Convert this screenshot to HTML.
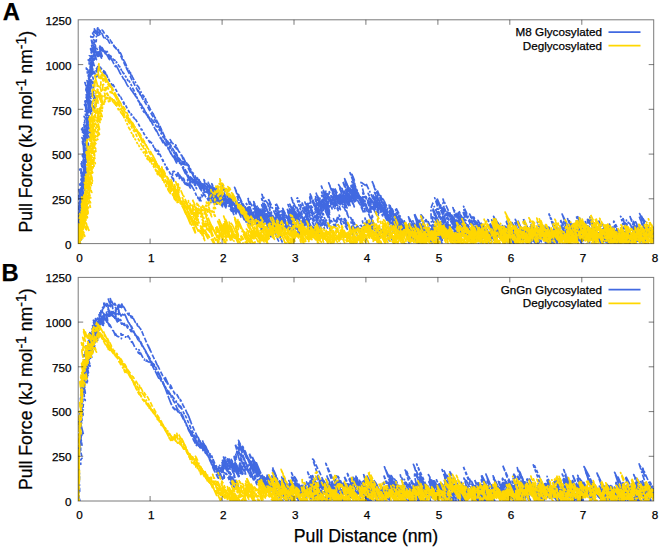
<!DOCTYPE html>
<html lang="en"><head><meta charset="utf-8"><title>Pull Force vs Pull Distance</title>
<style>
html,body{margin:0;padding:0;background:#fff}
svg{display:block}
text{font-family:"Liberation Sans",Arial,sans-serif;fill:#000;stroke:#000;stroke-width:.25px}
.t{font-size:11.7px}
.g{font-size:11.7px}
.l{font-size:17.7px}
.b{font-size:23.8px;font-weight:bold;fill:#000}
</style></head><body>
<svg width="660" height="547" viewBox="0 0 660 547">
<rect width="660" height="547" fill="#fff"/>
<g id="panelA">
<clipPath id="cp0"><rect x="78.2" y="19.8" width="575.5" height="223.8"/></clipPath>
<g clip-path="url(#cp0)" fill="none" stroke-width="1.7" stroke-linejoin="round" stroke-linecap="butt">
<g stroke="#4169e1">
<polyline stroke-dasharray="5 2" points="79.4,246.6 79.1,244 77.4,237.8 78.7,239.2 78.3,236.5 79.2,236.8 80.5,238.2 79.7,234.4 78.9,230.6 79.3,229.8 79.1,227.5 79.8,227.3 78.5,222.4 80.2,224.7 79.6,221.3 79.1,218.2 81.1,221.3 79.1,214.4 79.9,214.7 80.6,214.6 80.5,212.3 80,209 80,207.2 79.8,204.8 78.6,200.1 78.2,197.1 78.5,196.1 78.5,194.3 80.6,197.7 79.5,192.9 82.4,198.2 81.9,195.1 84.3,199.1 82.2,191.9 83.3,192.5 81.7,186.7 82.4,186.4 85,190.8 83.6,185.2 81.9,179 81.3,175.4 82.5,176.4 81.3,171.4 81,168.9 81.2,167.3 82.1,167.5 81.2,163.5 82.7,165.1 83.4,165.1 83.1,162.3 83.1,160.3 83.7,159.8 83.6,157.4 83.9,156.2 83.4,152.8 83.9,152.2 83.5,149 83.4,146.5 82.4,141.6 84.5,144.5 85.6,144.7 86.8,145.4 84.7,137.9 84.6,135.5 85.7,135.9 86,134.4 84.8,129.2 84,125.1 83.6,121.8 84.9,122.9 84.7,120 84.1,116.3 87.4,122.1 86.1,116.7 86.3,114.9 87.3,114.9 86,109.4 85.4,105.5 86.2,105.9 84.9,101.2 85.4,101 85.4,99.5 87.1,102.2 88.4,104.1 85.6,95.7 87.9,99.9 89,101.2 88,97.3 88.3,96.8 85.8,89 87.6,92.1 87.7,90.9 84.9,82.5 87.2,86.6 89.4,90.6 89.8,89.8 87.6,82.7 88,81.9 89.9,85 88.9,80.9 89.8,81.4 89.4,78.7 88.4,74.7 90.3,77.8 89.8,74.8 88.8,70.4 89.4,70.3 90.2,70.5 90.3,68.9 90,66.5 90.2,65 92.7,69.7 89.3,59.6 90.1,59.7 89.3,55.8 90.1,55.9 91.5,57.4 91.7,55.9 92.3,55.1 90.8,49.3 92.5,51.1 93.2,50.5 93.7,49.2 91.7,41.7 90.7,36.4 92.2,37.3 93.2,36.9 93.6,36.7 92.6,33.1 94.1,35.6 93.9,33.5 93.7,31.4 95.3,33.3 94.4,28.8 97.5,35.5 97,33.1 97.5,32.9 97.7,31.8 97.2,28.9 98,29.3 97.6,27.1 100.1,31.8 100.2,30.8 100.8,31 100.8,29.7 101.3,29.8 101.8,29.9 102.4,30.4 103.3,31.4 104.9,34.5 105.6,35.2 106.3,35.7 107,36.3 107.2,35.8 108.4,37.7 109.6,39.7 110,39.6 111.5,42.1 113.2,44.8 114.7,47.2 115.1,47 116.1,48 117.1,49.1 117.4,48.6 119.5,53.3 120.4,55.1 122.3,59.3 122.7,60 123.9,62.6 124.9,65 125,64.7 127.1,69.7 126.2,67.2 128.3,71.9 129,73.1 130.8,77.4 132.7,81.6 133.2,82.2 133.2,81.8 134.4,84.3 135.9,87.4 136.8,88.9 138.6,92.7 138.4,91.6 138.4,90.7 140.8,96.1 139.7,92.3 142.2,97.8 143.8,100.8 144,100.3 145.5,103.2 146.3,104.4 147.2,105.6 148.7,108.8 149.7,110.6 151.6,114.5 152.2,115.4 152.6,115.9 153.5,117.6 154.4,119 155.7,121.4 156.4,122.3 157.2,123.4 158.2,125.3 159.8,128.5 160.5,129.8 160.2,128.8 162.2,133.4 162.9,134.7 164.2,137.7 164.8,139 165.7,140.7 165.6,140.1 167.1,143.1 168.4,145.4 169.8,148.1 169.7,146.8 170.5,147.6 171.7,149.5 171.9,148.7 172.3,148.4 172.9,148.9 174.5,151.9 176.1,155 175.5,152.7 178,158.4 176.1,152.8 178.7,158.5 179.4,159.4 179.5,158.7 180.8,161 182.4,163.9 181.9,161.2 183.7,164.3 183.2,161.7 185.1,165 184.2,161.4 184.7,161.3 185.9,163.1 187,164.6 186.7,162.9 188.5,166.5 188.4,165.7 188,164.3 190.8,170.7 190.4,169.4 191.7,172.5 192.3,173.7 195.7,182 195.2,180.5 194.8,179.5 193.6,176.4 193.1,175.2 193.8,176.8 196.7,183.4 196.4,181.9 197.5,183.9 198,184.3 200,188.3 201.5,190.8 200,185.7 200.3,185.1 200.8,184.9 200.5,182.8 201.9,184.6 203.7,187.8 204,187.1 203.6,184.6 204.5,185.4 205.4,186.4 205.4,185.2 207,188.1 208.2,190.3 211.2,197 210.1,193.3 210.9,194.7 212.1,197 212.1,196.3 212.6,196.6 210.9,191.7 209.5,187.4 209.9,187.4 211,189.1 210.7,187 210.8,186.1 214.8,194.6 217.6,200.2 216.8,196.6 220.2,203.7 219.7,201.1 220.6,202 219.8,198.5 218.6,194 216.2,186.7 219.9,194.6 220.7,195.2 222.7,198.8 223.3,198.9 224.2,199.8 224.2,198.4 224.7,198.1 226.2,200.4 226.5,199.6 227.5,200.3 228.7,201.6 232.5,209.5 228.2,197.4 231,203 232.5,205.7 233.3,206.5 232.2,202.5 229.7,195.1 232.3,200 236.3,208.5 238.1,211.5 238.1,209.7 236.1,202.9 234.2,196.7 237.3,202.5 238.3,203.4 239.1,203.6 238.5,200.7 236.5,194.1 236.9,194 234.6,187.3 239.4,198.3 242.3,205 242.6,205.4 238.6,194.7 243.1,205.3 242.9,203.9 245.2,208.7 245.8,209.4 247.7,213 247.5,211.1 249.7,215.1 251,216.5 249.9,211.8 251.3,213.2 251.8,212.4 253.1,213.5 255.8,218.2 257.7,221.1 255.6,214.2 254.9,210.9 255.9,212 257.7,215.1 253.8,204.3 254.7,205.2 253.7,201.6 258.1,211.4 259.4,213.2 259.5,212.2 263.9,221.7 264,220.5 259.6,208.1 264.3,218 263.6,214.6 262.1,208.8 262.7,208.4 264.7,211.7 264,208.1 262.7,203 261.6,198.5 264.8,204.8 269.6,215.4 271.3,218.1 276.2,229 272.8,219.5 272.7,217.9 272.1,215.4 274.7,220.7 274,217.8 276.4,222.8 277.6,224.4 276.8,221.3 275.4,216.3 275.4,214.6 275.7,213.7 282.2,227.9 276.2,210.9 275.8,207.9 280.1,216.6 283.4,222.9 281.8,217.1 283.1,218.7 284.8,221.3 285.2,220.6 282.4,212 283.4,213 284.9,215.3 284.8,213.2 288,219.4 288.5,219 289.8,220.4 288.7,215.9 288.9,214.5 287.2,208.5 290.4,214.6 292.3,217.8 292.1,215.9 288,204.5 293.2,216.6 291.4,211.3 292.3,212.9 293.6,215.4 293,213 292,209.7 294.1,213.6 297.1,219.9 296.5,216.5 298.4,219.4 298.2,216.8 298.3,215 299.1,214.5 298.9,211.7 301.3,215.3 302.2,215.4 301.3,210.8 300.1,205.8 301.7,207.9 305.8,216.6 310.7,227.1 308.3,219.7 302.2,203.1 308.2,216.4 306,209.3 308.2,212.7 309.7,214.5 313,220.5 314.7,222.6 313.4,216.9 312.3,211.7 311,205.9 312.9,208.1 314.1,208.5 315.9,210.7 309.8,193.1 319.5,214.9 320.5,215.1 318.6,208.3 318.8,206.9 318.1,203.1 321.2,209.1 320.3,205.1 316.2,193.2 321.5,204.4 321.4,202.4 328.2,217.4 322.4,201 324.7,205 329.9,215.9 327.8,208.7 323.7,196.2 328.5,206 321.4,186.1 326.1,195.8 325.7,192.6 325.9,191 330.5,200.5 328.8,194.2 329.2,193.3 329.3,191.7 334.8,203.8 335.4,203.8 333,196.3 335.5,201.1 328.7,182.9 335.7,198.7 332.7,189.7 333,188.8 340.7,206 337.6,196.3 340.2,200.7 343.2,205.8 348.7,217.3 342.1,198.2 343.7,199.7 338.6,184.6 341.6,189.4 344.8,195 349.3,203.9 347.9,198.3 348.9,198.7 342.7,181.3 347.3,190.9 350.3,196.5 345,181 350.1,191.4 349.3,187 353,193.4 351,185.7 353.8,189.9 355.9,192.4 354.9,187.1 354.7,183.7 354.2,179.7 352,174.3 353.2,178.3 354,181.4 350,172.7 356,188.9 360.2,200.7 358.4,197.2 361.6,204.2 357.5,193 361.2,201.4 359.3,195.7 360.5,197.7 363.4,204.1 361.3,197.8 366.8,210.6 368,212.5 372.6,223.1 370.8,217.6 373.7,223.6 371.7,217.1 372,216.7 372.7,216.9 369.3,207.1 365.7,196.6 368,200.9 371.9,209 371.4,206.2 369.9,200.8 371.1,202.3 368.2,193.4 373.4,204.5 372.8,201.3 376.1,207.4 374.7,202.1 378.7,210.2 377.4,205.5 377.3,203.8 379.3,207.5 381.6,211.8 379.5,205.2 380,205.2 380.4,205.1 381.4,206.6 385.5,215.9 382.4,207.3 384.4,211.9 384.9,212.8 385.3,213.4 388.2,220.5 389.7,224.1 388.2,220.5 387.2,217.6 389.1,222.1 389.3,222.1 388,218.2 390.5,223.6 392.5,227.4 393.8,229.3 393.9,228.1 393.2,224.7 395.8,229.6 392.2,218.9 395.7,225.9 396.7,226.8 398.1,228.7 394.5,218.4 391.6,209.9 397.2,222.4 397.5,222.2 400.3,228.1 400.8,228.4 401.9,230.5 401.3,228.1 403.7,233 401.9,227.7 399,219.4 401.7,225.1 402.1,225.1 405,231.4 403.5,226.4 405.2,229.2 404.7,226.4 408.5,234.3 409.6,235 412.3,239.7 409,229.5 411.7,233.9 412.7,234.1 412.9,232.4 410.4,224.1 414.1,231.2 413.2,227 415.9,231.7 418.8,237 418.3,234 417.3,229.7 418,229.4 416.7,224.3 419.4,228.9 420.1,228.8 419.5,225.6 418.9,222.6 420.8,226 422,227.8 420.7,223.5 425.3,234.1 425.2,233 424,229.5 424.9,231.1 423.7,227.3 424,227.1 429.8,240.7 429.2,238.2 434.2,247.2 432.2,243 428.7,232.8 430,234.1 432.5,238.4 436.6,246.7 435.5,242 435.2,239.3 432.4,230.6 435.5,236.5 436.2,236.3 437.1,236.7 436.7,233.9 434.7,227 442,243.2 439,233.8 440,234.6 440,233 440.4,232.5 441.1,232.6 443.9,238 442.7,233.7 443,232.9 443.6,233 445.6,236.4 445.3,234.4 447.4,238.3 446,233.8 446.7,234.2 445,228.7 449.1,237.8 451.2,241.6 449.4,235.5 449.6,234.3 451.1,236.4 453.3,240.1 452.6,236.6 453.1,236.2 458.2,247 458.6,246.4 455.3,236.3 458.9,243.5 453.9,229.1 456.3,233.4 451.1,219 453.9,224.5 457.5,232.3 457.5,230.8 461.4,239.5 456.8,226.6 458.8,230.2 462,236.4 459.8,229.3 460,228 463.6,235 462.4,230 463,229.3 463,227.3 462.6,224.1 464.2,226 465.6,227.3 467.1,229.1 467.2,227.4 468.6,228.9 469.4,228.9 471.2,231.7 472.3,232.6 474.6,236.3 472.7,229.7 474.6,232.6 476.6,235.4 478.5,238 478,234.6 481.1,240.3 479.3,233.9 478.4,230 479.5,231.1 479.3,229.4 481.2,233 480,228.8 478.7,224.8 479.5,226 481.9,231.1 479.7,224.8 483.5,233.3 484.1,233.9 484.1,232.4 488.5,241.9 486.4,235 483.4,225.7 486.2,230.5 488.3,233.7 490.3,236.5 491.7,237.7 491.8,235.6 491.3,232.2 490.2,227.3 487.9,219.6 491.1,225.3 493.2,228.7 495.1,231.6 495.3,230.5 491.7,219.9 494.1,224.2 495.2,225.3 500.5,237.2 497,227.1 495.9,223.2 494.4,218.2 498.6,227.6 494.9,217.5 497.3,222.7 500.7,230.5 501.5,231.6 504.8,239 501.7,230.3 504.5,236 506.3,239.4 505,234.9 504,231 506,234.6 505.5,231.6 505.1,228.8 508.9,236.4 510.3,237.8 509.8,234.9 510.4,234.4 510.8,233.4 510,229.6 509.5,226.5 511.5,229.6 512.7,230.8 513.3,230.7 516.3,236.4 515.5,232.8 517.3,235.6 519.2,238.8 517.9,233.9 518.2,232.8 518.9,233.1 521.4,237.7 521.2,235.5 521.7,235.1 522.5,235.5 522.1,232.9 523.4,234.7 523.3,233.1 522.9,231.1 524.2,233.2 524.1,232 526.3,236.5 527.1,237.8 526.5,235.2 527.3,236.3 528.4,238 532.1,246 531,241.8 530.4,238.6 531.3,238.9 533.2,241.8 531.2,234.5 531.8,233.9 531.7,231.4 533.7,234.1 531.4,226.2 533.2,228.6 533.5,227.6 536.3,232.7 539.5,239 538.6,234.9 537,229.1 537.7,228.7 541.6,236.4 540.2,230.8 541.6,232.3 543.3,234.4 546.2,239.6 546.1,237.8 544.3,231.5 547.7,238.6 543.7,227.5 545.1,229.8 547.5,234.4 550.5,241 545.1,226.1 546.6,228.5 546.9,227.9 547.8,228.8 552.6,239.1 548.9,228.4 552.5,235.6 552.3,233.2 555.9,240 556.8,240.2 556.9,238.4 554.1,229.3 556.4,233 555.9,230 559.8,237.8 558.9,233.8 560,234.7 561,235.5 559.6,230.4 562,234.6 562.2,233.4 560.1,226.3 562.5,230.4 562.7,228.8 565.1,232.6 565.9,232.4 569.6,239.4 566.1,228.3 567,227.8 572.8,239.9 571.8,234.7 574.5,239.1 576.5,242.1 571.1,226.7 569.4,220.9 574.4,231.9 574.9,232.3 572,224.5 577.2,237 575.3,232 575,231.1 577.8,238 576.2,233.9 579.4,241.4 579.3,240.7 578,236.7 580.7,242.2 583,246.2 583.9,246.7 582.8,242 583.5,241.4 581.1,232.8 583.8,236.9 585.7,239 585.3,235.6 586.1,235.1 585.8,232.1 586.2,231 587.8,233 586.5,228.1 588.2,230.5 585.3,221.6 591,234.3 590.7,232.1 588.9,225.9 587.6,221.3 587.5,219.4 590.1,224.4 588.6,219.5 590.9,224 592.7,227.6 595.9,234.3 590.4,219.7 589.8,217 597.9,236 593.9,224.9 596.1,228.8 600.4,238.3 598.5,232 600.5,235.2 600.3,233.1 603,238 605.4,241.9 603.2,234.1 608.5,245.1 607.2,239.3 604.6,230.4 605.5,230 605.2,226.9 606.6,227.9 607.7,228.3 609,229.5 611.2,233 609.1,226 615.6,240.4 618.4,246 612.8,231 614.6,234.5 614.9,234.5 614.5,233 614.4,232.1 614,230.2 616.3,235.3 619.8,242.9 619.7,242 618.1,236.9 621.4,244.1 621.5,243.4 619.4,237.1 619,235 620.6,238.1 620.6,237.2 622.4,241 623.2,241.8 623.8,242.4 627.5,247.2 623.9,239.8 626.3,243.8 625.6,240.1 625,236.5 625.1,234.6 628.1,239.6 628.7,238.9 626.2,230.2 630.1,237.6 630.1,235.1 628.8,229.6 630.7,231.7 631.2,230.6 632.1,230.5 631.5,226.7 631.9,225.7 635.3,232 635.7,231.3 637.4,233.7 637,230.8 637.6,230.4 639.8,233.9 635.7,221.9 640.7,232.5 639.9,228.7 640.9,229.4 645.3,238.6 643,231.2 643.8,231.2 645.5,233.6 647.9,237.9 645,228.9 639.6,213.5 644.1,223.4 641.8,216.4 643.4,219.1 644.5,221.1 645,221.6 645.2,221.5 650.1,233 646.6,223.5 650.2,231.5 653.2,237.8 653.3,236.9 658.9,247.2 652.4,231.6 657.6,242.7 656.9,239.2 657.5,239 653.9,228.2 653.8,226.4"/>
<polyline stroke-dasharray="6 1.8 1.8 1.8" points="80.2,247.2 78.6,243.1 81.4,247.2 80.9,245.6 78.3,237.6 78,235.5 79.7,238.1 79.3,235.6 79.5,234.4 78.9,231.6 79.4,231.3 78.3,227.1 79.4,228.3 80.7,229.9 79.8,226.2 80.1,225.4 78.8,220.6 79.9,221.8 80.8,222.6 81.8,223.6 78.2,213.1 79.1,213.7 80.1,214.8 79.5,211.6 82.4,217.4 81.5,213.4 79.6,207.2 81.2,209.5 82.4,211.1 81.6,207.4 81.6,206 81.3,203.6 80.3,199.6 81.7,201.7 82.6,202.4 80.9,196.5 82.1,197.5 82.2,195.8 80.3,189.3 82.7,193.4 79.7,184 80.9,184.9 81.9,185.5 82.9,186.1 80.9,179.2 81.5,178.8 83.4,181.8 82.7,178.1 84.6,181.1 81.5,171.7 83.2,174.3 82.8,171.5 83.3,171.2 84.2,171.7 85.3,172.6 81.7,161.8 82.3,161.6 83.1,161.7 85.1,164.9 84.8,162.3 84.9,160.4 85.6,160.3 85.6,158.4 83.7,151.6 84.9,152.6 84.8,150.3 82.2,141.9 83,142 82,137.6 85.3,143.9 85,141.3 83.8,136.5 81.6,129.1 85.2,136.1 82.6,127.9 85.8,133.8 84.8,129.5 87.4,134.2 87.8,133.2 87.1,129.7 87.6,129.1 86.8,125.3 88,126.2 87.3,122.7 88,122.5 86.2,116.2 87.9,118.7 88.9,119.3 90.1,120.3 84.5,104.5 88.5,112.4 88.2,109.7 89.4,111 91.7,115.2 88.6,105.7 89.6,106.6 88.7,102.7 86.2,94.8 87.5,96.4 89.2,99 86.3,90.4 88.2,93.4 86,86.6 89.5,93.8 87.3,87 88.9,89.4 90.1,91.1 88.8,86.5 87,80.6 88.3,82.2 90.6,86.6 91.2,86.5 88.6,78.6 89.9,80.2 91.4,82.5 90.9,79.7 90.4,76.8 90.2,74.7 90.7,74.3 91.1,73.3 90.7,70.5 91.7,71.2 91.8,69.7 91.3,66.5 90.8,63.5 90.7,62.1 92.3,64.7 91.3,60.9 91.7,60.5 91.2,58 92.1,58.8 92,57.1 92.3,56.3 90.9,51.2 90.6,48.6 92.3,51 94.1,53.7 91.6,45.5 92.3,45.2 93.6,46.5 92.4,41.1 94.8,45 93.6,39.7 95.2,41.4 96.2,41.6 96.3,40.7 96.3,39.3 96,37.4 96.4,36.6 96.6,35.4 97.5,35.4 96.6,31 98.8,35.3 97.8,31.6 98.9,33 100,34.4 99.6,32.4 100.3,32.9 100.3,32 100.7,32.2 101.4,33.1 101.4,32.3 103.8,37.7 104.2,37.8 104.8,38.4 104.7,37.3 105.4,38.1 106.7,40.2 106.9,39.5 107.4,39.2 109.6,43.1 110,42.5 110.5,41.9 111.3,42.5 111.9,42.4 113.6,45.1 115.4,48 116.5,49.3 117.1,49.6 117.9,50.2 118,49.5 119.4,51.7 119.9,52.1 121,54 123.6,60.4 123.4,59.5 124.1,61 124.3,61.1 125.4,63.4 127.8,68.8 128.9,71 129,70.6 131.3,75.6 130.4,72.6 132.4,76.9 134.1,80.2 134.4,80.1 136.3,84.1 137.3,85.6 138,86.4 138.6,87.1 140.3,90.7 141.7,93.3 143.6,97.3 142.8,94.7 142.9,94.2 145,98.7 146.1,100.9 145.4,98.7 147.4,103 148.6,105.5 150.5,109.5 151,110.1 151.9,111.8 153.2,114.4 153,113.3 155.7,119.3 155.2,117.5 156.6,120.4 157.9,123 158.5,123.7 160,126.9 161.7,130.6 160.1,126.4 162.3,131.5 163.1,133.2 165.1,137.8 165.5,138.2 166.9,141.4 167.7,142.7 167.3,141 167.8,141.3 170.2,146.3 169.2,142.9 171.1,146.3 170.6,143.4 171,143 170.2,139.6 172.1,142.9 172.9,143.4 175.3,148.1 175.1,146.4 176.6,149 177,148.9 175.7,144.9 178.8,151.6 179,151.4 179.8,152.5 180.7,154.3 181.5,155.7 183,159 181.4,154.5 181.6,154.7 183.1,158.1 183.1,157.5 183.1,157.2 183.8,158.5 185.4,161.9 186.2,163.4 188.7,169.1 190,171.7 191.1,173.7 191,172.7 188.4,165.2 189.9,167.7 193.3,175.3 192.5,172.1 193.5,173.6 194.7,175.4 196.7,179.3 197.4,180.2 198,180.8 198,180.2 197.8,179.2 197.4,177.7 198.7,180.4 202.1,188 201.4,185.1 203,188.1 202.1,184.7 203,186 202.7,184 204.9,188.1 203.9,184.4 204.4,184.4 205.1,185 204.8,183.1 204,179.7 206.5,184.4 206.5,183.1 208.5,186.7 208.6,185.4 209.4,186 208.3,182.4 211.3,188.9 211.5,188.5 213.5,192.8 212,188.2 217.4,200.9 217,199.2 216,196.1 216.2,195.7 219.9,204.1 219.8,202.8 218.2,197.7 220.4,202 217.1,192.4 217.9,193 221.4,200.1 223.7,204.2 222.8,200.4 223.1,199.7 221.9,195 220.7,190.8 221.3,190.9 223.7,195.9 225.5,199.5 225.7,199.1 228.2,204.5 230.7,209.8 231.5,211.3 229.2,204.8 228.8,202.9 233.8,214.5 226.7,195.7 227.6,196.9 226.7,193.4 231.7,204.5 232.1,204.1 229,195 232.1,200.8 235.6,207.9 235.7,206.4 238.5,211.8 236.5,205.1 238,207.3 237.5,204.4 240.1,209.4 239.7,206.8 238.8,203.1 239.3,202.8 239.9,202.8 244.2,212.2 244.7,212.3 243.3,207.8 244.3,209.1 246.1,212.7 245.2,209.7 246.4,211.7 245.6,208.7 245.2,206.8 247.4,211 249,213.3 248.8,211.2 250.1,212.5 250.2,210.7 250.8,209.9 249.3,203.9 247.7,197.7 251.3,204.6 255.7,213.8 255.8,212.7 257.1,214.6 256.1,211.1 257.5,213.4 259.7,218.1 260.6,219.4 258,212.1 260,215.9 257.8,209.5 263.9,223.5 258.1,207.8 262.8,218 265.3,222.9 263.2,216 266.9,223.3 264.6,215.8 266.4,218.4 261.7,204.9 267,216.1 265.7,210.8 271.1,222.1 266.7,208.8 261.9,194.3 265.2,200.2 266.9,202.2 270,207.7 271.2,208.8 269.5,202.9 268.3,198.6 273.8,211.1 276.4,216.8 275.5,213.8 276.9,216.6 276.2,214 277.8,217.3 278.9,219.3 280.3,221.9 279.7,219.2 280.3,219.1 280.4,217.7 275.4,203.5 276.4,204 280.2,211.4 283.4,217.4 284,217.2 285.6,219.2 283.4,212.1 284.6,213.6 285.4,214 289.9,223.7 293.3,230.5 288.9,218.1 291,221.4 288,212 288.1,210.4 290.1,213.6 293.7,220.4 299.6,233.1 295.3,220.1 293.9,214.8 295.4,216.4 294.1,211.2 294.2,209.8 294.8,209.9 293.6,205.6 292.9,202.6 291.4,197.7 295.7,207.7 297.9,212.3 300.4,217.7 303.5,224.7 303.6,223.9 304.9,225.8 303,219.9 303.5,219.4 307.2,226.9 308.9,229 307,222 308.8,224 308.9,221.6 304.1,207.2 306.7,210.8 306.2,207.2 309.4,212.5 308.6,208.4 307.5,203.5 310.3,208.5 313.8,215.5 318.6,225.6 314.3,213.3 321,228.4 319.9,223.9 317.5,216.2 321.4,224.2 317.9,213.4 317,209.2 319.7,213.7 317.5,205.8 316.1,200 315.6,196.7 320.9,207.7 317.1,195.9 322.7,207.6 320.8,201 324.6,208.6 323,202.9 323.5,202.3 324.7,203.6 325.2,203.3 329.5,212.3 323.1,194.9 325.2,198.5 327.9,203.6 328.1,202.7 327.6,199.7 326.1,194.1 330.9,204.2 330.8,201.9 329.7,197.4 335.2,209.2 335.3,207.5 334.1,202.3 338.2,210.5 334.8,200.1 338.9,208.1 340.4,209.6 336.8,198.6 336.1,194.7 337,194.8 338.6,196.8 341.4,201.5 340,196 339.9,194 342.8,199.1 342.4,196.2 340.1,188.9 340.7,188.7 347.5,203.9 341.9,188.4 345.2,194.8 350.1,205.4 346.5,194.6 350.5,202.7 349.7,198.7 351.3,200.7 352.7,202.1 352.7,200.1 352.4,197.2 353.9,199.2 353.9,197.9 351.7,191.4 353,193.5 352.4,191 352.4,190.2 353.2,191.5 356,197.8 352.9,189.5 355.6,195.6 357.6,200.1 358.5,202.1 359.3,203.5 358.9,201.9 363.9,213.3 360.8,204.5 364,211.3 365.1,211.6 363.9,205.6 363,200.3 364.7,201.4 364.5,197.5 363.2,191.1 361,182.4 362.6,183.3 364.4,184.7 366.2,186.4 365.9,183.2 371.4,195.1 376.4,205.7 376.1,203.1 375.6,200.3 376.7,201.7 379.8,208.2 380,207.3 374.1,191.3 380.9,206.9 377.5,196.7 373.5,185.1 371.8,180.5 377.6,194.3 376.9,192 376.9,191.6 378.5,195.1 379.8,197.9 383.1,205.6 377.6,191.1 384.7,208.2 385.9,210.4 388.3,215.7 380.5,195.5 381.8,197.6 387.2,209.9 383.2,199 385.5,203.8 386.5,205.6 394,223.5 392.7,219.8 395.1,225.3 393.9,221.8 392.1,216.9 390.8,213.3 394.9,223 393.2,218.5 396.4,225.7 396.3,224.9 396.5,224.4 395.4,220.8 396.4,222.2 395.5,218.9 397,221.4 396.4,218.5 403.1,233.8 401.3,227.9 400.8,225 402.7,228.5 402.9,227.4 402.2,224.3 396.5,208.9 398.6,212.8 401.8,219.9 405,226.7 408.2,233.7 406,227.4 407.9,230.9 404.2,220.8 406.8,226.4 407.8,227.7 409.4,230.5 409.7,229.7 409.8,228.2 412.6,233.5 416.8,242.3 419.8,247.2 414.3,232.8 412.9,227.9 417.3,237.7 414.6,229.7 416.7,233.8 415.1,228.9 416,230.3 416.2,230.2 419.7,238 420.3,238.9 416.3,228.1 420.8,238.2 420.6,236.4 422.2,238.9 419.3,229.9 422.5,236 421.7,232 421.4,229.1 424.9,235.2 425,232.9 427,235 427,232.4 421.1,214.8 423.1,217.2 426.3,222.8 425.9,219.5 428.4,223.9 427.8,220.8 432.5,231 431.7,226.2 431.1,216.6 430.9,208.2 432.5,204 432.7,203.2 435.4,209.1 439.5,218.2 438.7,215.4 441.3,220.5 437.1,208.7 440,214.3 437.8,207.1 434.7,197.8 436.4,200.3 442.8,214.8 437.6,200.6 437.1,198.4 444.8,216.5 440.5,204.9 442,207.8 442.7,208.4 445,213.3 446.2,215.2 448.4,219.4 444,207.3 442.9,203.1 443.8,204 444.4,203.9 443,199 448.6,211.2 450.2,213.5 450.6,213 455.3,222.9 454.1,218.3 458.4,227.4 456.4,221.1 454.4,214.5 456.1,217.2 452.9,207.6 456,213.3 461.6,225.4 457.8,214 458.2,212.9 461.5,219.3 459.3,211.7 464.1,221.8 463,217.5 464.9,220.6 465.1,219.7 466.3,221.5 462.9,211.7 465.6,216.9 465.5,215.5 463.9,209.9 470.3,224.5 463.6,206.4 469.3,219.1 471.7,223.7 472,222.9 474,226.3 469.6,214 472.1,218.9 474.9,224.5 475.2,224 472.3,215.8 476,224 475.2,221.1 478.1,227.7 478.9,229 476.7,222.4 477.1,222.4 480,228.3 481.7,231 478,220.4 480.6,225.2 480.1,222.3 480.7,222.4 483.6,228.2 483.1,226 487,234.8 486.7,233.2 486.9,232.9 485.5,228.8 487.5,233.3 485.9,228.5 488.7,234.8 489.1,234.6 489,232.9 490.7,235.5 491.5,235.6 493.3,238.1 493.2,236 493.4,234.5 492,229.1 492.1,227.6 493.2,228.8 493.6,228.7 495.1,231.2 493.5,226.1 495.1,229.2 498.2,235.9 497.4,232.7 496.6,229.5 501.6,240.7 498.7,232 502.2,239.1 501.7,236 500.6,231.5 504.2,238.7 505,238.7 506.6,240.8 505.4,235.9 505.7,235 505.3,232.3 504.3,228.4 505.5,229.6 506.3,230.3 505.1,225.6 506.6,227.8 510,234.7 507.5,226.6 511.7,235.4 506.7,221.2 507.2,221 515.8,240.9 509.4,223.4 516.9,240.6 513.7,231.4 513.3,228.8 513.4,227.7 513.5,226.9 514,226.9 516.6,232 515.9,229 517.2,230.8 520.2,236.7 522.7,241.3 523.1,240.2 523.1,238.5 523.5,237.2 527.2,244.5 528.8,246.3 524.7,233.9 526.2,235.5 525.3,231.2 528.6,237.3 528.3,234.5 524.6,223.5 523.3,218.5 530.1,233.6 531.2,234.7 532.6,236.7 533.2,236.7 535.9,242 530.3,226.7 539.4,247.2 536,237.8 533.5,229.9 534.6,231 534.8,229.6 535.8,230.5 539.5,237.7 538.9,234.4 537.8,229.9 542.2,239 539.9,231.6 542,235.1 541.3,232 539.4,225.7 540.2,226.4 543.7,233.8 542.9,230.8 544.8,234.4 543.3,229.6 544.5,231.5 545.8,233.8 548.4,239 549.8,241.3 550.7,242.4 551.7,243.6 554.9,247.2 552.6,243 553.2,242.7 554,243.1 552.2,236.6 554.9,241.5 555.2,240.3 557.4,243.8 556.3,239.1 555.6,235.2 556.3,235.1 557.7,236.6 558.8,237.5 560.8,240.7 558.3,232.9 556.6,226.8 557.8,228 559.4,230.1 562.8,236.6 569,247.2 570.6,247.2 564.9,236.1 561.8,226.6 560.9,222.5 560.3,219.5 563.5,225.8 569.7,239.7 569.3,237.7 568.5,234.7 567.2,230.4 569.2,234.4 572.7,241.8 572.5,239.9 572.3,238 573.8,240 569.7,227.7 571.5,230 570.1,224 575,233.5 576.9,235.8 575.6,229.7 577.7,232.4 578.2,231.5 579.7,232.8 577.8,226.2 576.4,220.9 580.4,229.1 581.5,230.5 584.8,237.5 583,231.9 584.7,234.9 584.4,232.7 584.7,232 585.3,232.1 584.4,228.2 585.2,228.6 586.5,230.3 585,224.9 587.8,229.9 587.8,228.3 587.3,225.3 590.7,232.4 589.9,228.8 590.9,230.1 592.5,233.2 595.6,239.7 592.3,230.9 594.7,235.9 596.9,240.6 594.8,234.8 596.7,238.6 593.7,230.2 598,239.9 598.7,240.5 599.8,241.7 600.9,242.9 597.8,233.7 599.6,236.4 600.5,236.8 603.4,241.9 600.9,233.5 604.6,240.3 604.6,238.2 605.2,237.3 603.7,231.6 608.5,241.3 604.1,227.9 610.9,242.7 607,230.9 605.9,226 608.4,230.2 608.8,229 611.1,232.4 609.4,226.1 612.9,232.7 613.5,232 614.9,233.2 612.7,226 616.1,232.4 616.8,232.7 617.7,233.7 617.1,231.2 618.9,234.6 616.7,228.6 617.9,231 618.3,231.5 619.1,233 618.9,231.9 619.6,233.2 621.4,237.1 623.6,241.8 622.6,238.3 625.2,243.5 627.5,247.2 621.7,232 624.5,237.4 626.7,241.5 626,237.9 628,241.4 632,247.2 625.5,232.1 629.4,240.2 627.9,234.7 630.1,238.3 628.4,231.9 625.9,223.5 627.1,224.2 626.4,220.1 628.6,223 629.7,223.4 636.3,237.2 636.3,234.5 630.1,216.6 635.8,228.6 633.6,221.4 636.3,226.3 637.7,228.5 637.2,226.2 638.7,229 638,226.8 643,238.4 640.6,231.9 642.4,235.6 644.6,240 643.3,235.5 644.9,238.3 645.5,238.3 643,230.4 645.6,235 645.8,233.2 646.5,232.7 647.1,231.6 651.1,239.1 651.2,236.9 651.5,235.6 653.1,237.4 655.5,241.5 653.6,235.2 653.4,233.1 655.3,236.4 654,231.9 657.3,238.7 655.2,232.5 657.4,237 656.6,233.9 659.7,240.6"/>
<polyline stroke-dasharray="13 1.5" points="78.4,244.2 77.9,241.3 79.3,243.2 80,243.5 78.5,238.2 78,235.5 78.1,234.2 78.8,234.3 78.7,232.5 78.2,229.6 80.2,233.1 79.1,228.7 77.9,224.2 78,223 78.9,223.7 78.9,222.3 79.5,222.1 78.5,218.1 76.8,212.4 77.9,213.7 79.7,216.7 79.2,213.8 79.4,212.8 80,212.9 78.8,208.2 77.1,202.6 78,203.3 79.3,205 80.6,206.8 82.1,209 80.4,203 81.5,204.3 82.1,204.1 80.9,199.5 80.2,196.3 81.4,197.7 81.2,195.4 81.8,195.2 82.1,194.2 81.9,192.2 81.3,188.9 82.6,190.5 81.8,186.9 80.9,183.1 81.4,182.8 82.9,184.7 84,186.1 81.8,179 83,180.3 82.8,178.5 82.1,175.2 84.7,180 85.3,180.1 84.1,175.4 86,178.5 83.8,171.6 85.5,174.2 85.3,171.9 85.6,171 85.3,168.6 86.5,170 84.5,163.4 84,160.5 83.5,157.6 84.1,157.5 83.4,153.9 85.9,158.8 85,154.9 87,158.1 84.4,150 84.9,149.7 84.3,146.4 83.9,143.3 85.5,145.4 86.4,145.6 86.4,143.6 86.1,140.9 85.5,137.3 84.4,132.7 87.5,138.2 85.2,130.6 84.9,127.8 87.5,132.3 85.5,125.4 85.8,124.3 86.8,125.1 86.8,123.2 86.7,121 86.8,119.4 87.9,120.4 89,121.2 87.9,116.5 86.6,111.5 87,110.5 85.7,105.4 88.6,110.7 88.9,109.3 88.4,106.2 88.3,104 87.5,100.8 86.8,97.9 88.8,101.5 87.7,97.3 88.9,99.2 89,98 89.4,97.7 90.1,98.2 88.8,93.7 88.4,91.2 89.8,93.4 88.8,89.6 88.2,86.9 87.6,84.1 90.3,89.4 90.7,89 90.9,88.2 89.3,82.8 91.4,86.9 89.8,81.5 89.7,79.7 88.9,76.4 89.3,75.9 90.2,76.4 89.2,72.4 90.2,73.4 90.3,71.8 91.7,73.6 92.2,73.3 90.8,68 92.7,71 92.4,68.5 93,69 91.6,64.5 91.3,62.6 91.7,62.6 93.2,65.1 91.9,60.8 92.7,61.6 93.2,61.7 92.1,57.7 91.7,55.5 93.7,59.1 94.4,59.5 94.3,58.2 95.4,59.6 95.4,58.1 95.3,56.6 93.2,50.1 94.4,51.7 96.2,54.5 97.6,56.3 93.4,45.4 97.2,54.3 97,53.1 98.7,56.3 98.8,55.5 97.9,51.9 98.7,52.5 101.5,58 100.5,53.7 102.2,56.2 99.7,48.5 101.2,50.6 99.9,46 100.7,46.9 102.6,50.3 101.6,46.9 102.9,49 105.1,53.5 104.8,51.9 106.4,54.7 106.3,53.6 108.4,57.7 109.5,59.5 108.2,55.6 108.7,56.1 110.4,59.6 110,57.6 109.6,55.8 111.5,59.7 112.2,60.5 114.1,64.4 115.4,66.7 115.7,66.4 115.9,65.7 116.8,66.6 118.4,69.7 120.3,73.6 121,74.5 121.7,75.5 123.5,78.9 124.1,79.3 124.8,80.1 127.4,85.5 128.1,86.2 129.1,87.5 129.5,87.5 129.9,87.5 131.6,90.7 132.2,91 133.6,93.4 134.3,94.1 135.6,96.2 136.2,96.8 138,100.2 138.9,101.2 140.1,103.3 141.4,105.6 141.1,104.2 142.8,107.7 142.7,106.7 143.8,108.7 146.6,114.8 145.9,112.4 148.1,117 148.7,118 149.2,118.5 150.5,121.1 150.4,120.2 151.2,121.6 152,123 153.2,125.3 155.1,129 156.3,131.2 156.2,129.9 158.4,134.5 160.3,138.2 160.3,137.4 162.9,142.7 161.4,138.2 162.3,139.3 163.8,141.9 165.4,145 166,145.5 165.3,143 165.9,143.7 168.4,149.2 167.9,147.4 170,151.9 171,153.9 170.2,151.5 171.5,154.1 172.8,156.6 173.1,156.6 174,157.7 176.5,162.9 174.7,157.4 174.3,155.3 175.4,156.7 177.6,161 178.8,162.8 179.2,162.7 179.8,163.3 178.4,158.8 180.6,163.5 181.8,165.8 184.8,172.5 185.6,173.9 184.8,171.2 185.3,171.8 185,170.5 187.7,176.8 189.1,179.4 190.6,182.6 189.4,178.8 188.9,177 190.2,179.3 190.9,180.4 190.4,178.3 190.6,178 190.5,176.9 191.6,178.6 191.5,177.3 194.3,183 193.5,179.9 194.6,181.2 195.6,182.1 195.1,179.2 196.7,181.6 200,188.3 198.2,182.4 199.2,183.5 200.2,184.8 201.5,187.3 202.1,187.9 201.4,185.5 201.8,186 204.6,192.5 203.7,189.9 204.7,191.9 204.7,191.2 204.4,189.5 205.5,191.3 206.3,192.2 206.9,192.3 207.6,192.7 207,189.9 208,191.2 206.6,186.4 208,188.8 210.4,193.7 211.8,196.1 211.1,193.2 214.1,199.6 213.5,197.3 215.7,201.7 214.4,197.4 214.7,196.9 215.6,198 217.3,200.9 217.3,199.7 213.4,188.8 211.8,183.7 214.9,190.2 217.7,196.1 218,195.9 220.9,202 221.4,202 222,202.3 220.1,196.3 223.9,204.3 225.9,207.8 224.1,201.8 226.5,206.2 226.2,203.5 225.2,199.1 227.5,202.9 221.6,186.3 222.3,186 225.4,192 231.6,205.6 226.8,191.9 230.6,199.7 232.1,202 231.8,199.8 235,206.3 234.9,204.8 235,203.5 240.9,217 238.5,209.8 236.2,202.8 238.1,206.2 242.1,214.8 240.8,210.4 241,209.3 245.2,218.4 240.4,205 242.8,209.6 249.7,225.6 243.7,209.8 245.6,213.4 244.2,208.7 243.4,205.7 251.6,225.1 248.8,217.3 246.4,210.5 248.2,214.1 248,213 248.8,214.2 251.2,219.2 249.4,213.9 247.7,208.3 248.5,209 252,216.2 251.9,214.3 249.6,206.8 258.2,226.1 257.5,222.3 260.5,227.6 257.7,218.6 255,209.7 256.6,211.7 262,223.5 259.5,215.5 257.5,209.1 260.2,214.5 259.3,211 258.9,208.9 263.1,218.3 262.1,214.5 261.9,212.6 263.4,215 267.1,222.5 267.5,221.8 267.7,220.6 269.5,223.2 264.2,208.2 263.9,205.8 265,206.9 266.6,209.3 269.6,215.2 274.4,226.1 272.5,220.1 269.7,212.3 273.4,220.3 275.9,225.5 274.3,220.3 274.8,220.4 277.9,227.1 275.5,220 276.1,220 279.5,227.2 280.5,228.2 278.1,220.6 281,226.2 280.8,223.9 280,219.9 278.9,215.2 281.2,218.8 283.8,223.1 282.3,217 284.4,219.7 281.8,210.8 284,213.8 282.7,208.3 288.7,221 290.4,223.1 289.2,218.2 289.4,216.9 291.9,221.6 291.6,219.3 294.4,224.8 291.6,216.4 292.8,218.1 293.3,218.2 293.3,216.7 293.9,217 295.5,219.8 289.8,204.2 297.1,221.3 292,207.1 296.1,216 297.1,217.2 295.7,212.3 299.3,219.9 297.6,214.1 298.4,214.6 299.5,215.9 296.8,207.4 300,213.5 303.6,220.8 303.1,217.7 305.5,222.1 308.1,227 305.8,219.9 310.8,231.1 307.6,221.8 305.9,216.2 305.4,213.4 309.3,221.1 309.3,218.9 310.4,219.1 308.2,210.9 310.4,213.4 312.7,216.3 308.8,203.6 309.9,203.1 310.9,203 309.7,197.4 310.2,196.3 317.9,213.3 317,209.4 316,205.2 315.9,203.8 317.1,205.4 315.1,199 318.7,206.3 322.5,214.5 319.1,204.4 321.3,208.3 322.1,208.6 320.9,203.9 321.3,203.4 323.8,208.1 323.6,206.1 323.7,204.7 329.6,218 323.3,200.8 327.3,209.2 329.1,211.8 329.4,210.7 327,202.7 324.8,194.9 326.6,196.5 329.1,200 331.7,203.3 332.1,201.3 331.2,196 335,202.8 334.5,198.9 335.8,199.8 335.5,196.8 338.3,201.8 336,194.1 334.8,189.4 335.2,189 339.7,198.7 341.8,202.8 339.2,194.9 342.2,201.2 343.3,202.7 340.9,195.5 345.5,205.8 342,195.6 345.4,202.6 344.3,198.3 346.7,202.8 348.6,205.6 346.5,198.5 348.6,201.8 349.5,201.9 346.2,191.4 348.4,194.4 354.3,206.8 349.9,193.3 344.6,178.7 353,198.1 353.4,197.9 351.3,191.3 355.7,201.1 353.4,194.4 356.1,200 356.5,200 353.8,192.4 356.2,197.4 352.5,187.1 357.4,198.3 355.5,192.4 356.7,194.3 358.2,196.8 359.8,199.8 362,204.4 363.6,207.6 361.7,202.1 359.8,196.6 360.9,198.5 361,197.5 365,206 365.5,205.2 367.5,208.2 369.7,211.6 370.7,211.9 370.2,208.4 369.9,205.4 372.3,208.9 372.1,206.3 376,213.6 373.8,205.8 375.4,207.8 374.8,204.4 375.4,204 373,196.5 373.1,195.2 377.5,204.8 375,197 376.5,199.5 379.8,206.2 379.4,203.9 380.5,205.4 380,203.3 379,200.1 381.9,206.4 384.9,212.9 386.1,214.4 383.6,207 384.9,208.5 388.7,216.4 390,218.2 390.4,217.4 390.6,216.3 390.1,213.9 389.5,210.9 391,213.5 392.1,215.1 389.2,207 392.1,213.1 389.1,205 390.5,207.8 389.8,205.3 393.8,214.6 392.8,211.4 392.2,208.9 395.2,215.7 397.8,221.1 395.2,213.7 395.6,213.9 397,216.9 399.1,221.6 399.5,222.1 399.9,223 401.6,227 403,230.3 401.6,226.3 401.8,226.1 404.7,232.4 405.3,232.9 402.7,225.5 404.2,227.9 403.8,225.4 410.5,240.3 404.4,223.1 408.8,232.1 407.9,227.5 408.7,227.1 409.1,226 408.7,222.7 415,236.5 409.8,221.6 408.5,216.8 410.8,220.9 412.6,224 413.6,225.4 416.7,231.9 416.8,231 417.7,232.2 418,231.5 418.3,230.8 421,236.2 421.5,235.8 417.2,223.4 414.7,215.8 414.4,213.3 420,225.7 423.3,232.6 425.3,236.2 426.3,237.2 425.1,232.7 426.3,234.1 427.7,235.8 425.3,228.1 425.9,227.8 427.2,229.5 432.4,240.6 433,240.4 432.3,237 431.9,234.7 432.4,234.3 430.3,228 430.8,228.2 433.9,232.1 432.8,223.5 432.5,216.9 435.1,218.5 438.5,225.9 436.4,219.8 438.2,222.9 432.7,207.9 438.3,220.5 439.8,222.6 446.1,236.6 442.4,225.7 443.6,226.7 444.3,226.4 442.4,219.8 444.2,222.4 442.6,216.5 444.9,220.4 445.5,220.2 442.9,211.9 442.1,208.3 443.1,209 444.1,209.8 444.3,208.5 448,216 447,211.9 448.1,213.2 450.7,218.3 452.9,222.3 449.7,213.2 451.4,216.3 454.5,223 454,220.6 452.7,216.1 458.9,230.1 456.8,223.2 458.4,225.6 456.9,220.2 458.8,223.2 456.6,216.1 458.1,218.1 459.5,219.9 457.8,214.2 459.4,216.7 463.4,225.4 461.8,220.3 461.4,218.7 463.8,224 469,236.4 471.8,243 469.4,236.4 467.4,230.8 467.8,231.2 467.5,229.5 468.1,229.7 467.9,227.8 468.4,227.6 470.3,230.7 471.7,232.6 472.2,232 472.5,231.2 472.9,230.6 472.1,227.1 474.6,232 473.3,227.6 474.8,230.3 474.7,228.8 474.8,228 477.2,233.1 479.5,237.6 479.7,236.8 480.1,236.3 479.9,234.3 479,230.4 478.5,227 480.5,229.9 480.9,228.8 483.7,233.7 483.8,231.9 485.8,235.2 485.2,231.7 488.1,237.2 486.1,230.6 486.4,229.7 486.8,229.1 491.9,240.1 489.8,233.4 489.9,231.8 491.5,234.1 492.4,234.6 491.5,230.5 492.1,229.8 492.8,229.7 496.5,236.7 495.5,232.4 493.7,226.1 493,222.7 497.3,231.6 494.9,224.1 495.5,224 501.2,236.7 493.6,216.4 502.3,236.8 497.9,224.7 497.3,222.2 497.9,222.8 499.4,225.5 501.6,229.8 501.7,228.9 503.1,231.1 508.3,242.6 502.6,226.9 503.8,228.2 506.4,232.7 504.5,226.2 508.8,234.9 507.5,230 514.7,246 513.3,240.9 506.1,221.3 513.1,237.1 514.1,237.9 510.5,227.2 511.5,227.8 514.5,233.2 514.3,230.7 511.9,222.5 516.6,231.6 520.7,239.3 515,222.8 516,223.1 515.3,219.3 521.1,231.7 522.2,232.6 517.9,220.6 527.3,242.7 521.6,227.5 524.1,233 524.6,233.5 523,229.3 524.1,231.4 525,233 524.1,230 525.9,233.7 527.7,237 527.8,236 528.2,235.3 527.6,232.2 531.9,241.2 530.2,235 530,232.6 535.4,244 532.9,236 533.1,234.6 539.8,247.2 536.1,238.4 532.8,228.3 534.3,230.5 534.3,228.9 535.4,230 539.1,237.8 541.3,241.8 537.8,231.5 537.7,229.7 538.5,230.3 538.6,229 543,238.6 541.6,233.5 543.3,236.5 544.8,238.8 549,247.2 544.1,234 543.5,231.3 546,236.2 545.6,233.8 547.8,238.1 550.9,244.3 549,237.9 552,243.3 549.8,236 550,234.4 548.5,228.8 548.7,227 552.6,234.8 553.3,234.6 554.5,235.6 557.5,241.3 558.3,241.5 557.9,238.8 552.4,223.6 556.3,231.7 558.9,236.8 556.5,229.3 558.3,232.3 558.4,231.1 561.1,236.2 561,234.5 562.8,237.3 561.8,233.1 562.6,233.4 563.5,233.5 564.4,234.1 566.5,237.3 567.9,239 570.9,244.5 567,233.1 568.4,234.7 569.5,235.6 569.7,234.5 562.1,214 566,222.1 568.6,227.3 570.1,229.9 570.8,230.7 572.5,233.9 573.1,234.7 570.4,227.2 575.1,238.1 567.6,218.7 578.8,245.6 577.2,240.1 576.1,235.9 578.6,240 576.4,232.6 574.4,225.2 578.1,231.9 577.4,227.6 577.3,224.7 579.9,228.6 579,224 581.3,227.5 577.7,216.7 584.5,232 579.1,217.1 583.1,225.7 583,224.4 583.2,223.6 587.2,232.2 588.3,233.9 589.9,236.5 587.4,228.9 591.3,237.2 593.5,241 594.6,241.9 593.6,237.9 595,239.5 595.4,238.8 596.2,239 597.3,240.1 596.5,236.2 595.6,232.3 599.5,240.5 600.6,241.5 600.6,240.1 602.4,243.1 601,238 602.4,240.2 601.5,236.5 599.3,229.7 600.7,231.9 599.6,227.8 601.3,230.8 603.2,234 607.1,242 608.4,243.4 606.3,236.3 605,231 607.9,236.4 607.3,233.2 609.3,236.5 606.8,228.5 612.7,241.9 609.9,233.4 614.5,243.5 613.2,239 612.3,235 611.6,231.7 609.4,224.1 612.7,230.1 613.1,229 617.2,236.8 618.2,237 617.4,232.5 618.6,233.1 620.8,236.3 622.7,238.9 623.7,239.6 624.2,239.1 622.7,234.1 620.7,228.1 625.4,238.8 624.4,235.6 622.2,229.3 623.3,231.2 625.8,236.4 627.3,239.1 626.9,236.9 629,240.8 630.2,242.6 628.1,235.9 628,234.1 630.9,239.8 629.7,235.3 631.9,239.1 630.7,234.3 631.8,235.2 632.7,235.8 636.2,242.6 636.2,240.7 631.6,227.2 636.8,238.3 635.6,233.3 636.3,233.1 636.1,230.7 636.3,229.3 642.3,242.2 640.3,235.3 640.4,233.8 640.7,232.7 639.2,227.3 642.3,233.4 644.6,237.7 645.5,238.3 644.5,234.4 644.3,232.5 644.3,231.2 645.4,232.5 646.7,234.4 646,231.4 646.8,231.6 648.2,233.6 646.8,228.6 649.7,234.3 652.7,240 651.6,235.8 649.5,229.2 653.1,236.8 654.3,238.6 654.9,239 655.9,240.3 658.2,244.8 658.9,245.2 658.1,242 659,242.8"/>
<polyline stroke-dasharray="3.5 1.8" points="78.3,243.8 79.7,245.9 78.7,242.2 80.4,245 78.6,239.2 78.2,237.1 78.9,237.4 78.6,235.4 78.5,233.6 78.5,232.5 77.2,227.9 80.1,233.9 79.7,231.4 80.1,231.2 79.5,228.3 79.7,227.5 79.6,226.1 78.1,220.9 79.2,222.4 80.3,223.7 82.2,227.1 81.2,223.3 80.8,220.9 81,220.1 81.7,220.5 80.5,216.2 80,213.7 80.9,214.5 82,215.8 82,214.6 80.9,210.4 82.6,213.3 83.3,213.8 79.9,203.9 79.8,202.4 79.9,201.4 83.2,208.1 80.9,201.1 80,197.6 80.7,198 80,195.2 79.2,191.9 78.8,189.6 82.2,196.7 82.8,196.7 85,200.6 84.1,196.8 82.8,192.3 82.4,189.7 82.8,189.1 81.3,183.8 83.5,187.8 84.3,188.2 84.3,186.6 83.9,184 84.2,183.2 82.9,178.4 81.5,173.4 82.4,174.1 84.3,177.3 84,174.8 84.3,174.1 84.1,172 82.5,166.6 84.3,169.4 85.1,170 87,173.4 85,166.8 84.9,165.2 83.5,160.2 85.2,162.9 84.1,158.8 86.2,162.4 85.7,159.8 86.1,159.5 86.4,158.7 87.5,160 85.7,154.1 88.7,159.8 89.2,159.4 87.4,153.4 86,148.1 86.5,147.5 85.6,143.8 86.3,143.7 85.6,140.2 88.5,145.6 88.3,143.4 86.8,138.1 87,136.7 85.9,132.5 86.9,133.2 89.8,139 86.9,130.3 87.2,129.6 87.1,127.8 86.8,125.7 87.8,126.8 89.2,128.6 86.3,119.8 89.2,125.5 86.7,117.6 88.1,119.4 87.6,116.5 88.8,117.6 88.3,114.7 87.3,110.4 88.8,112.4 88.6,110.4 89.3,110.3 88.7,107.2 90.7,110.6 91.6,111.4 90,106.5 89.1,103.3 92.1,110.1 89.6,102.8 90.6,104.6 88.7,99.1 90.6,103 91.1,103.4 89.9,99.6 92.3,104.6 94.8,109.7 93.8,106.2 88.8,93 90.1,95.1 89.2,92 91.1,95.6 91.7,96 89.8,90.2 93,97 96.2,104 93.2,95.4 92.3,92.1 95.5,99 93.3,92.2 93.5,91.8 93.1,89.5 93.3,88.9 93.1,87.2 93.4,86.8 92.9,84.3 91.9,80.6 92.8,81.4 93.4,81.5 94.5,83 92.7,77.1 92.5,75.2 92.4,73.2 92.8,73.4 92,70.4 92.8,71.6 94.1,74.1 95.8,77.3 93.3,70.2 94.9,73.5 96.5,76.6 96,74.6 96,73.9 96.9,75.4 97,75 97.7,75.8 96,70.7 96.6,71 97.8,73 96.1,67.7 97.9,71 97.1,67.7 98.8,70.5 97.4,65.4 100.1,70.5 100.4,69.1 99.9,67 99.8,66 101,68.3 101.7,69.1 102.6,70.7 103.1,71.2 104.5,73.8 103.9,71.6 103.8,70.7 104.8,72.6 105.5,73.8 105.9,74.4 105.2,72.1 106,73.9 106.4,74.5 108.2,78.7 108.1,78.3 108.4,78.6 109.8,81.8 110.4,82.6 111.2,84.2 111.5,83.9 112.4,85.5 112.2,84.1 112.6,84.1 113.4,85.1 115.3,88.7 116.5,90.8 118,93.7 118.9,95 119.9,96.6 120.7,97.7 120.8,97.1 122.6,100.9 124.5,105 123.6,102.1 124.8,104.2 125.3,104.5 127.6,109.3 128.9,111.5 130,113.3 131.1,114.9 131.2,113.8 133.1,117.4 133.5,117.1 134.8,119.3 135.8,120.6 135.8,119.7 137.4,122.6 138.1,123.3 139.4,125.8 141.3,129.6 141.5,129.2 142.1,129.8 144.4,134.6 144.8,134.7 146.6,138.1 146.7,137.5 147.8,139 149.3,141.7 150.4,143.3 150.1,141.4 151.3,143.1 151.7,142.7 155.3,150.3 154.6,147.4 157.7,153.9 158.1,153.7 158.8,154.4 159.1,154.3 157.9,150.3 158.7,151.5 162.2,159.5 163.4,162.1 163,160.4 162.7,159.5 165.1,164.9 164.9,164.2 167.1,169.6 167.4,169.5 166.7,167.1 168.2,169.7 170.2,173.6 173.7,181 173.6,179.4 172.2,174.3 172.7,173.9 172.2,171.1 173.3,172 173.7,171.4 174.3,171.4 177.2,176.9 176.7,174.4 177.2,174.4 179.4,178.6 179.6,178 177.9,172.7 180,176.8 179.2,174 182.3,180.5 181,176.3 183.9,182.1 185.3,184.3 183.1,177.5 186.5,184.4 188,186.5 187.2,183.2 188.3,184.4 190.3,188.1 187.6,180.3 187.7,179.3 190.6,185.7 190.2,183.9 191.8,187 191.4,185.3 193.1,188.8 192.9,187.8 194.2,190.5 196.3,195.2 196.9,196.1 198,198.3 197.8,197.1 199.5,200.6 198.6,197.4 199.4,198.2 200.9,200.9 200,197.3 200.7,197.8 200.6,196.1 201,195.7 201.3,195 202.5,196.5 202.5,195.3 202.5,193.9 203.5,195 203.1,192.6 203.6,192.9 205.7,196.8 206.4,197.5 206.7,197.1 209.1,202 207.7,197.1 208.1,196.7 211,202.6 208.8,195.8 210,197.1 210.9,198.1 213.3,202.5 211.5,196.4 215.1,203.6 214.7,200.9 214,197.4 214.5,196.8 216,198.6 218.1,202 216.6,196.7 218.7,200.1 220.4,202.8 223,207.6 222,203.7 219.2,195.2 220.3,196.6 222.9,201.7 224.7,204.8 224.3,202.5 223.3,198.6 224.9,201.2 225.1,200.5 224.6,198 227.2,203.3 224.6,195.7 226.2,198.7 227.7,201.2 228.6,202.5 227.9,199.8 228.8,201.1 232,208 234.2,212.3 234,210.4 236,213.9 235,209.6 236.7,212.1 235,206.3 237.7,211.2 238.5,211.8 239.4,212.6 237.9,207.8 239.2,209.9 241.3,214.2 238.6,206.7 244.2,219.7 239.5,207 244.5,218.2 243.1,213.3 246.3,219.9 245.5,216 245.6,214.4 245,211.2 246.5,212.9 247.7,214.3 246.3,209.1 248,211.9 249.3,213.7 247.9,209.4 249.8,213.2 248.1,208.2 252.9,219.7 251.9,216.4 251.1,213.7 251,212.8 254.4,220.1 256.2,223.7 257.1,224.7 256.2,221.4 256,219.7 258,223.4 260.2,228 262,231.3 262.8,232.4 261.3,228 261.5,227.5 262.1,228.1 263.8,231.2 261.1,223.4 263.8,228.8 262.9,225 267.6,234.7 266.9,230.9 269.9,236.2 271,236.6 266.7,223.7 266.6,221.2 272.9,234.9 267.7,220.1 272.6,230.7 269.8,222.4 269.5,220.4 275.5,234.4 278.5,241 274.4,229.9 275.5,231.6 273.8,226.1 275.5,229.1 275.7,228 282.1,241.9 277.2,227.7 278.5,228.8 278.4,226.5 277.8,222.7 281.1,228.9 281.1,226.8 279.9,221.9 281.7,224.4 281,220.8 282.6,223 282.6,221.3 286.5,229.6 286.3,227.6 286.7,227.2 285.5,222.7 285.5,221.5 288.1,226.8 289.7,229.4 287.7,223 291.7,231.9 291.2,229.6 292,230.4 293.3,232.7 294.5,234.3 295,234.5 293.9,230.4 290.3,219.9 292.1,222.7 290,215.8 297.3,232.1 299.6,236.2 298.3,231.3 298,228.7 300.8,234 302,235.3 301,231 299.2,224.7 302.5,230.8 302.1,227.7 302,225.3 301.5,221.8 302.5,221.9 303.2,221.5 305.4,224.4 304.2,219 304.4,217 307.6,222.8 307.7,221 308.1,220 312.8,230 312,226.4 315.2,233.3 314.3,229.8 315.6,231.9 315.5,230.6 312.3,221.6 315.8,229.4 318,233.8 316.4,228.6 318.8,233.2 315.4,223.1 320,232.9 319.8,230.6 317.8,223.8 318.9,224.8 319,222.9 320.4,224.3 321.1,224 323.8,228.8 324.4,228.5 321.5,219.3 324.7,225.6 323.3,220.5 326,225.5 327.5,228 325.3,221.1 326.3,222.4 325.7,220 326.1,219.9 331.4,231.8 328.5,223.7 331.6,230.1 330.8,226.6 330.1,223.4 329,218.8 331.4,223 331.4,220.7 334.8,226.7 337.1,230 333.6,218.7 334.9,219.5 338.5,225.9 336.2,217.4 337.6,218.7 337.5,216.1 341.6,224.5 340.4,219.6 339.2,215.1 341.7,219.9 341.8,218.9 344.7,225.1 345.7,226.5 347.6,230.1 345.3,223.4 344,219 347.2,225.7 344.8,218.5 346.4,221.1 348.4,224.6 354,237 350.6,226.9 352.3,229.5 351.6,226.3 353.5,229.6 351,222.1 352.3,224.1 357,234.9 353.9,226.2 350.7,217.5 353.5,223.5 353,221.4 352.7,219.6 357.2,229.5 356.6,226.8 357.4,227.2 357.1,224.8 361.4,233.6 360.2,228.3 360.1,225.7 361.1,225.4 364.4,231.1 364.9,229.7 362.4,221 363.5,221.6 367,228.2 368,228.6 365.5,220.8 365,218 371,231.7 367,220.6 369.5,225.5 370.3,226.6 369.4,223.3 373.7,233.2 373,230.6 371,224.7 370.6,222.9 373.1,228.2 372.2,224.8 372.9,225.4 377.8,236.5 375.2,228.7 377.8,234.1 379.1,236 380,237 378.2,231.3 378.7,231.2 378.8,229.8 379.1,229 381.5,233.3 383.3,236.1 381.2,229.3 383.5,233.4 383.9,232.8 385.4,234.9 384.3,230.8 384.9,230.9 389.4,240.8 388.1,236.1 386.6,231 388.7,234.6 388.1,231.2 393.9,243.7 390.7,233.8 389.5,228.4 392.5,233.4 393,231.8 394.6,233.3 392.6,225.6 393.2,224.6 395.2,227.7 396.2,228.5 399.3,234.8 399,233 399.5,233.6 398,229.3 402.1,239.2 401.6,237.9 402.5,240.2 402,238.8 402.5,239.9 402.8,240.1 404.8,244.4 404.4,242.4 406.2,245.5 409.5,247.2 408,246.8 408.2,245.3 410.4,247.2 409.5,244.4 404.4,229.4 411.9,245.7 409,236.1 409.8,235.6 409.6,232.7 412.3,237.1 411.9,233.7 412.4,232.6 416.6,240.8 417.8,241.8 419.4,243.8 417,236.2 416.2,232.5 417,232.9 421.2,241.9 422.7,244 422,240.9 420.7,236 420.5,234 416.5,222.3 417.6,223.4 420.6,228.9 417.6,219.5 419.1,221.2 419.5,220.3 422.8,226.6 427.8,237.2 421.3,219.2 423.7,223.5 429.2,235.3 429.1,233.2 429,231 428.2,227.1 431.6,233.6 430.6,229.3 431.5,229.5 432.2,229.4 434.2,232.3 433.7,229.3 434.1,228.6 433.5,225.8 439,237.9 436.9,231.5 439.1,236 435.2,225.6 439.3,235.1 440.8,238.1 440.1,235.8 442.3,240.2 440.8,235.4 440.3,232.9 438.9,227.5 442.8,235.3 443.5,234.8 442.9,231 442.8,228.4 445.7,233.6 444.3,228 444,225.5 447.5,232.4 443.8,221.8 449.7,235.1 446.2,225.2 450.2,234.1 445.5,221.1 449.6,230.2 449.4,228.5 448.3,224.3 450,227.1 450.1,225.8 450.4,224.7 453.4,230.1 456.1,234.9 451.9,222.6 452.9,223.2 455,226.9 456.3,228.7 454.8,223.5 457.1,228 456.9,226.4 458.2,228.4 460,231.6 461,232.9 458.8,226.2 461.7,232 461.9,231.1 465,237.2 464.1,233.6 467.6,240.7 466.8,236.9 465.8,233 467.6,235.5 466.5,231 470.8,240.1 466.6,227.8 465.1,222.4 466.9,225 467.1,223.7 469.7,228.3 472.4,233.2 473.9,235 471.6,227.4 476.9,238.7 478.4,240.3 473.7,226.7 474.8,227.7 477.1,231.8 475.6,226.3 481.2,238.4 477.3,227.2 473.9,217.2 482.7,237.8 481.7,233.8 481.9,233.1 480.5,228.3 482.6,232.1 484.1,234.5 484.8,234.9 482.3,227 487.2,237.7 486.1,233.1 487.3,234.5 489.3,238 490.7,240 491.9,241.6 490.7,237.3 489.2,232.5 490.6,234.9 491.8,236.6 493.7,240.1 492.3,234.9 493.7,236.6 495.9,240.3 494.2,234 496.9,238.6 493.3,227.2 497,234.2 496.6,230.6 497.8,231.5 498.3,230.6 500.2,233.5 504.9,243.4 499.8,229.1 504,238 500.6,228.4 501.7,229.9 502.6,230.9 504.7,235.1 503.9,232 507.4,239.2 502.4,225.6 507.5,236.8 504.9,228.5 509.3,237.7 505.7,227.2 510.5,237.4 515.4,247.2 512.4,239.3 511.2,235.2 511.6,234.9 511.4,233.5 511.2,232.3 513.8,237.9 518.6,247.2 519.2,247.2 520.1,247.2 519.1,247.2 518.2,243.9 519.8,246.5 516,235.2 517,235.9 518.2,236.8 518.2,234.5 518.7,233.6 524.9,246.6 522.7,238.8 520.3,230.8 522.1,233.1 524.8,237.6 527.8,243.2 528.1,242.2 525.6,234.4 527.9,238.8 529.3,240.7 531.1,243.9 530.6,241.2 528.7,235.1 529.9,236.7 530.8,237.5 527,226.5 531.2,235.4 534.1,240.9 538.6,247.2 535.4,241 537.7,244.8 535.4,237.3 534.3,232.6 539.6,243.7 538.1,238.1 538.2,236.3 537.2,231.9 536.9,229.2 539,232.5 542.4,238.9 540.5,232.4 545.8,243.4 544.3,237.9 545.4,238.9 544.7,235.6 545.3,235.4 548,240.8 547.9,238.9 549.3,241.2 549.1,239.4 549.7,239.5 550.8,240.6 551.5,241.2 550.6,237.5 551.1,237.2 551.2,235.9 553.4,239.7 554.7,241.3 554.9,239.9 553.9,235.5 552.8,230.7 554.4,232.6 556.5,235.7 557.4,236 554,225.9 555.7,228.5 559,235.3 560,236.3 557.8,229.7 561.8,238.4 561,235.1 562.4,237.2 561,232.2 562.5,234.3 564.9,238.3 565.9,238.8 566.6,238.6 564.5,231 566.4,233.1 564.4,225.7 563.7,221.3 567.5,228.2 569.8,231.5 571.3,233.1 569.5,226.7 572.2,231.5 571.6,228.4 573.4,231 573.7,230.2 575.7,233.7 572.7,224.7 573.2,224.2 574.3,225.4 576.3,228.6 575,223.7 576,224.8 579,231 578.6,229 579.8,230.9 581.3,233.7 579.9,229.5 581.3,232.1 582.4,234.1 583.2,235.4 579.7,225.6 576.6,217.1 581,226.9 584.4,233.9 585.8,235.7 586.6,236.1 587.4,236.2 587.9,235.4 590.4,239.4 589.1,233.9 588.9,231.2 591.2,234.7 591.9,234.4 593.1,235.6 590.8,227.8 592.1,229.1 594.3,232.7 594.4,231.3 598.2,239 597.3,235.3 598.3,236.2 598.2,234.4 597.6,231.7 599.5,235 600.3,235.4 602.6,239.6 601.2,234.6 599.5,228.7 601.5,231.9 598,221.7 600.5,226.3 599,221.1 603.8,231.7 607.8,240.2 605,232 607.4,236.9 602.4,223.2 605.7,230.1 608.4,235.6 607.4,231.6 611.3,239.7 612.7,241.6 614.4,243.9 616.4,247.1 614,238.8 611.8,231.3 615.3,237.6 621.3,247.2 616.1,235.1 620.7,244.6 616.7,232.5 614.8,226.2 613.6,221.9 613.8,221.1 615,223 617.8,228.9 619.3,231.6 619.5,231.1 620.9,233.7 620.8,232.6 622.4,235.4 623.8,237.8 624,237 625.3,238.8 624.4,234.9 626.8,239.3 626.8,237.5 629.9,243.5 627,234.6 627.7,234.7 628.6,235.4 628.5,233.6 633.8,245.1 633.4,242.7 633.3,240.9 635.9,246 634.9,242 634.7,240.1 634.4,238 635,237.9 637,241.3 635.2,235 634.5,231.4 638.1,238.1 635.4,229.2 635.2,226.6 637.1,228.9 639.5,232.5 642.5,237.6 641.1,231.5 643,234.1 644.8,236.5 648.2,243 645.2,233.9 643.6,228.7 639.5,217.3 647.6,236.4 643.9,226.2 645.1,228.2 648.3,234.8 649.2,235.7 649.2,234.5 647.7,229.5 650.9,236.2 649.3,230.8 651.7,235.5 652.4,235.9 653.3,237 652.6,233.9 653.5,234.9 653.5,233.4 657.3,241.6 653.3,230.1 653.4,228.9"/>
<polyline stroke-dasharray="2.5 1.5" points="78,243.1 78.9,243.8 77.8,239.6 80.6,244.9 79.2,239.9 78.7,237.2 80.3,239.5 79.4,235.9 81.5,239.5 80.9,236.5 79.3,231 82,236.2 79.7,229 80.8,230.2 80.4,227.6 78.6,221.7 79.4,222.2 79.2,220.1 79.8,219.9 78.2,214.5 79.9,217.3 80.6,217.5 80.8,216.5 78.4,208.9 80.4,212.4 82.2,215.3 79.4,206.9 80.7,208.5 82.2,210.7 81.9,208.4 83,209.4 79.8,200.1 82,204 79.1,195.2 82,200.8 81.7,198.4 80.9,194.6 79.3,188.9 80.6,190.4 80.5,188.4 81.1,188.1 82.4,189.7 82.7,188.7 80.7,181.9 81.8,183 81.6,180.8 81.9,179.9 86.1,188.6 83,179.1 79.7,169.2 84.7,179.9 83.9,176.2 86.4,180.8 83.9,172.9 86.8,178.3 82.4,165.6 85.4,171.5 84.3,167.2 84,164.6 85.4,166.5 84.5,162.6 82.3,155.3 83.6,156.9 83.1,154.1 83.7,153.8 89,165 86.9,158 85,151.4 84.4,147.7 86.3,150.4 89.4,156 88.2,151 86.3,143.9 87,143.6 85.3,137.4 86.6,138.8 86.1,135.4 86.6,134.8 84.2,127 86.1,129.9 85.8,127.4 86.7,127.8 87.8,128.8 90.8,134.3 87.1,123.3 87.8,123.1 86.1,117 84.9,112.1 85.3,111 89.3,119.2 89,116.3 86.3,107.6 86.7,106.8 86.6,104.4 87.9,105.6 89.5,108.1 91,110.3 90.4,107.5 87.9,100 89.6,102.9 90,102.5 89.9,101 87.3,93.1 87.6,92.6 89.6,96.4 89.3,94.4 87.5,88.6 89.1,91.4 89.2,90.4 88.8,88.4 89.4,88.6 87.5,82.6 89.3,85.6 89.1,83.7 89.4,83 90.8,85 90.4,82.6 87.9,74.8 86.9,70.8 86.1,67.3 89,72.7 88.5,70.1 91.8,76.5 89.8,70 91.7,73.1 92.6,73.9 89.4,64.4 88.3,59.9 90.3,63.5 91.4,65.4 90.9,62.9 91.3,62.8 89.6,57.5 92.6,63.6 92,61 94.3,65.6 92.4,59.6 93.8,61.8 93.8,60.6 93.8,59.4 93.9,58.3 93.8,56.9 93,53.6 94.9,56.9 96.5,59.5 94.2,52.2 95.4,53.4 95.6,52.2 94.3,47.1 95.2,48 95.7,48.3 95.5,46.9 94.8,44.4 97,48.9 98,50.5 98.3,50.4 99.6,52.4 99.2,50.4 100.1,51.5 100.2,50.8 100.6,50.6 99.3,46.5 100,47.5 101.1,49.4 101.7,50.1 102.5,50.9 103.2,51.5 103.6,51.5 103.8,50.6 104.6,51.5 105,51.2 105.8,52 106.5,52.4 107.4,53.3 107.1,51.4 109.2,55.4 109.3,54.4 110,55 111.5,57.3 111.9,57.3 113.5,59.8 114.5,61.3 114.5,59.8 116.2,62.7 116.4,61.9 118,64.4 119.8,67.7 119.6,66.3 122,71.5 122,70.9 123.9,74.6 123.7,73.2 125.2,75.9 126,76.9 127.7,80.3 127.8,79.3 128.4,79.9 129.5,81.7 130.8,84.2 131.9,86.3 133.5,89.9 133.3,88.9 134.7,92.4 135,93 137.1,97.9 138.6,101.6 138.5,101.2 140.6,105.9 141.4,107.6 142.8,110.2 144.1,112.4 144.1,111.4 145,112.2 146.3,114 148.5,117.8 147.9,114.9 150.4,119.4 151,119.3 151.4,119 153.3,122.2 152.7,119.7 154.5,123 156.9,127.8 156.9,126.8 157.2,126.7 157.5,126.6 158.9,129.1 160.6,132.6 162.1,135.3 163,137 163.5,137.4 164.2,138.2 163.9,136.9 164.6,137.8 166.1,140.8 166.3,140.9 167.6,143.3 167.7,142.9 168.9,145.2 170.8,149.2 170.2,146.8 172.2,150.9 172.5,150.7 173.7,152.6 174.5,153.7 174.8,153.4 175.2,153.2 176.1,154.4 177.1,156 177.7,156.5 179.4,160.1 180,160.9 179.9,159.9 181.5,163.4 181.9,163.9 183.8,168.1 183.9,167.9 185.2,170.7 184.8,169.5 185.6,171 184.9,168.8 186.2,171.7 186.3,171.4 186.1,170.4 189.2,177.7 190,179.2 189.3,176.7 190,177.8 192.3,182.7 191.9,181.3 192.1,181 193.6,184.1 191.5,178 194.7,185 196.5,188.6 194.5,182.4 195.3,182.9 196.7,184.8 196.2,182 198.1,185.1 197.5,181.8 199.1,184.3 201.4,188.5 200.3,184.3 199.1,179.6 201.5,184.3 201.7,183.5 204.8,189.7 203.2,184.2 205.6,188.9 204.2,184.1 209.4,195.6 208.3,191.5 208.4,190.4 207.5,186.9 208.9,189.2 209.2,189 211.8,194.6 211.3,192.6 214.5,200 215.1,201 216.3,203.7 214.8,199.6 215.1,199.8 217,204.2 213.4,194.6 215.3,198.3 217.8,203.4 216.6,199.3 217.5,200.2 217.9,199.8 220.2,204.2 216.3,193.1 214.9,188.4 219.1,197.7 217.5,192.4 218.4,193.6 220.8,198.4 220,195.1 224.2,204.4 223.9,202.2 220.5,192.2 220.7,191.2 222.1,193 225.3,199.5 227,201.9 229.4,206.2 229.8,205.5 232.3,210.3 231.1,206.1 233.6,211.5 231.4,204.9 231.8,205.2 232.1,205.6 233,207.1 233.3,207.1 235.9,212.8 236.4,212.9 234.7,207.6 236.7,211.1 237.3,210.8 235,203.2 238.1,209.1 240.7,213.8 239.6,209.1 241.2,211.3 246.1,222.1 244.4,216.5 244.5,215.8 246.9,221.2 247.3,221.5 246.6,219.3 246,217.1 247.7,220.8 248.7,222.2 244.7,211.1 242.1,203.3 243.7,205.5 250.7,221 246.7,209 249.9,214.6 245.8,202.2 250.1,210.6 253.6,217.2 254.2,216.8 252.6,210.8 255.8,217.1 255.8,215.5 259.8,223.9 263.4,231.2 253.4,204.7 257.2,212.6 254.9,205 255.7,205.5 256.8,206.8 257.2,206.2 263,219.1 259.8,209.7 262.8,215.8 263.4,216.2 269,228.7 263.2,213 266.8,220.6 262.8,209.2 270.8,228 270,224.8 269.1,221.3 272.8,229.2 270.2,221.5 272.5,225.8 269.4,216.9 271.7,221.1 274.5,226.4 271.2,216.6 272.3,217.5 268.2,205.7 274.5,219.5 280,231.2 277.8,223.8 279.7,226.6 282.7,231.9 281.4,227 275,209.2 279.2,218 281.8,222.8 281.9,221.7 275.6,204.7 276.9,206.9 280.9,215.9 281.7,216.8 286.8,228.5 287.5,229 282.6,215.5 282.9,215.1 286.1,221.6 288.6,226 287.7,222.2 288.4,222.2 286.8,216.5 289.8,222.2 292.4,226.7 288,214.1 294.8,229.3 292.3,221.2 292.3,219.5 294.1,222.1 296.1,225.4 297.8,227.9 298.6,228.2 298.1,225.6 301.1,231.6 297.1,220.3 299.4,224.6 292.7,206.5 297.5,216.9 297.4,215.2 302.7,226.7 302.7,224.8 301.7,220.4 303.1,221.4 302,216.3 300.8,210.9 296.8,198.6 297.5,197.8 302.7,208.2 304,208.9 305.7,210.8 305.4,207.8 307.1,209.6 304.9,202.1 308.4,209.3 308.7,208.4 307.3,203.6 309.4,207.5 308.8,205 312.9,214.1 310.8,207.9 313.4,213.5 316.9,221.1 318.5,223.6 318.3,221.5 315.1,211.8 317.7,215.8 317,211.6 321.2,219.4 317.8,207.9 325.9,224.9 325.4,220.6 321.1,206.9 323.6,210.2 319.8,198 321.6,200.1 322.5,200.5 324.4,203.5 321.2,194.1 328.6,211.2 324.4,199.8 321.2,190.8 327.2,204.5 327.8,205 329.8,208.4 326.6,198.9 328.9,203 332,208.9 331.8,206.6 331.5,203.8 333.7,207 331.7,199.7 334.9,205.4 334.5,202.3 337.8,207.9 335.4,199.6 337.5,202.5 338.7,203.2 337,196.7 339.9,201.7 342.8,206.9 341.3,201.2 339.9,196 341.8,199 341.6,197 344.4,202.6 347.1,207.9 343.2,197 345,200.2 344.6,197.8 343.3,193 344.5,194.4 346.6,197.9 344.5,191 349.5,201.6 348.3,196.5 345.3,186.9 351.3,199.7 352.6,201 353.2,200.3 354.6,201.8 352.6,194.6 353.2,193.8 353.9,193.2 353,189.3 351.3,184.2 353.3,188.3 353.4,187.3 355.1,190.6 351.9,181.5 357.8,195.3 354.8,186.8 358.6,195.3 353.7,182.5 360,197.4 360.2,197 362.1,200.1 363,200.7 362.2,197.1 369.4,213.6 363,196.3 363.2,194.9 362.5,191.6 366.2,199.1 365.4,195.4 370.9,207.1 370,203.4 368.8,198.5 371.3,202.9 371.4,201.5 371.7,200.4 378.4,215.1 377.6,212 377.2,209.8 378.9,213 374.9,201.8 377.1,206 378.4,207.8 380,210.5 383.2,217.2 378.7,204.9 381.9,211.9 378.1,201.3 383.8,214.5 385,216.6 386.7,220.1 380.8,204.7 381,204.6 381.8,205.8 384.7,212.5 390.6,226.8 387.1,217.5 383.3,207.4 386.8,215.2 387.1,215.3 389.4,220.2 387.3,214.2 391.5,223.6 388.4,214.7 386.8,209.8 393.3,224.7 392.6,221.7 390.8,215.8 394.4,223.2 395.3,224 397.5,227.5 395.2,219.9 400.3,230.7 398,223.5 398.2,222.6 397.7,220.2 399.7,224.1 401.8,228.3 402.1,228.4 401.8,227.2 402.8,229.2 404.9,233.8 399.5,220 395.6,209.7 399.8,219.6 398.8,216.1 403.3,226.3 405.5,230.3 406.2,230.6 410.1,238.4 410.4,237.2 409.8,233.6 413.8,241.3 414.3,240.4 408.8,224.6 413.7,234.7 412.7,230.3 411.3,224.8 413.3,228.2 412.2,223.9 412.3,222.6 417.6,234.3 412.9,220.9 416.5,228 415.9,224.8 415.9,222.9 417.3,224.7 422.4,235.7 418.9,225.3 419.3,224.8 419,222.7 424.6,235.7 423.3,231.5 421.7,226.7 423.6,230.9 423,228.5 426.4,235.9 429,241.2 426.3,233.2 423.8,225.5 429.8,238.9 426.2,227.8 429.7,234.6 430.1,233.5 431.3,234.1 430.9,231 433.1,234.2 436.8,241.6 433.3,229.7 434.7,228.7 433.7,221.9 435,221 435.5,218.3 432.9,210.3 436.7,218.3 438.3,220.6 441.1,226 441.3,224.7 441.2,222.8 443.5,227 441.4,220.4 440,215.7 443.6,223.1 441.9,217.8 442.7,218.6 445.5,224.3 448.2,229.9 446.6,224.7 446.7,224.1 447.3,224.4 447.9,224.5 449.9,228.4 447,219.5 444.3,211.1 448.9,221 448.9,219.1 450.1,220.2 452.6,224.7 448.4,212.3 453.9,224.1 455.9,227.3 452.9,217.9 454.3,219.8 454.9,219.5 456.9,223 456.9,221.7 460.9,230.5 461.1,229.6 461.4,229.2 458.8,222.1 460.6,225.7 459.2,221.2 460.4,223.3 460.7,222.8 463.1,227.6 465.6,232.5 461.7,221.1 463.2,223.2 466.2,229.2 465.2,225 466.4,226.5 466.1,224.5 469.1,230.8 470.3,232.8 470.5,232.4 471.1,233 472,234.5 472.5,235.1 471.3,231.5 475.7,241.6 475,238.8 473.9,234.9 474.9,236 478.8,244.2 475.7,235.1 475.2,232.2 476.5,234.1 478.2,236.7 481.2,242.7 478.4,234.3 480.2,237.4 482.3,241.3 479.7,233.3 482,237.7 482.5,237.1 484.1,239.5 485.8,241.8 483.1,233.1 484.7,234.8 486.6,237.1 488.8,240.2 486.4,231.6 487,230.6 488.9,232.6 491.6,237 491.4,234 491.7,232.8 493.3,234.6 495.3,237.8 491,225.3 494.3,231.9 494.9,232 497.3,236.4 497.8,236.4 494.8,227.7 499.2,237.4 500,238.2 496.4,228 496.6,227.4 496.7,226.3 496.7,225.2 497.5,225.8 501,233.3 502.5,235.7 505.7,242.3 503,234.5 505.8,240.1 505,236.9 506.1,238.3 509,244.1 509.8,244.6 508.8,240.7 510.6,243.6 511.9,245.2 512.2,244.4 516.2,247.2 511.2,238.5 512.8,240.8 508.2,227.6 510.8,232.1 510.1,228.3 516.7,242.7 517.3,242 515.2,234.8 515.7,234 516.1,232.9 515.1,228.6 515.9,228.8 517.7,231.8 516.7,227.6 519,231.8 523.3,241.1 522.1,236.7 522,234.9 523.8,238.1 522.8,234.1 524.8,237.7 523.8,233.5 525.7,236.4 528.8,242.3 528.3,239.1 531.5,244.9 531,241.7 530.1,237.4 527.4,228.9 529.4,231.9 534,241.7 531.4,233.5 533.6,237.3 533.4,235.2 533.2,233.2 533.4,232.5 532,227.7 529.9,221.4 536.1,235.7 534.9,231.4 534.2,228.1 534.3,226.8 537.8,233.8 536.8,229.2 540.3,236 540.6,234.5 540.2,231.3 537.3,222 541.4,230 542.5,230.7 544.7,234.4 545.5,234.7 542.9,226.9 546,233.3 546.7,233.8 544.4,227.2 550.2,240.7 549.2,237.3 550.8,240.3 551.5,241 548.9,233.2 550.1,234.8 555.3,246.3 553.5,240.1 552.6,236.3 551.8,232.4 551.8,230.7 556.3,240 557.4,240.9 554.4,231.6 555,231.6 551.6,221.5 548.6,213 553.6,224.2 554.5,225.5 557.7,232.6 558,232.2 557.9,231 559.7,234.3 562.6,240.4 561.9,237.1 561.1,233.5 561.7,233 565.5,240.3 567.1,242.1 565.7,236.3 563.4,228 563,224.7 564.9,226.9 567.9,231.9 567.7,229.4 568.6,229.9 570.3,232.7 568.5,226.9 570,229.3 571.8,232.7 571.7,231.4 573.9,235.7 575.6,238.7 574.6,234.8 575.1,234.7 571.2,223.3 575.2,231.3 576,231.4 575.6,228.7 581.7,242 577.8,230.5 577.4,228 579,230.3 577.1,224 583.1,237.4 584.6,239.7 584.5,238.2 582.3,231.4 585.1,237.1 584.8,234.9 588.5,242.8 591.8,247.2 590.1,244.2 586.8,234.7 582.1,221.5 588.7,236.4 589.8,237.6 591.6,240.2 592,239.2 594.1,242.6 592.8,237.6 595.1,241.2 595.6,240.3 594.7,236 595.1,234.9 595.4,233.5 594.7,229.5 596.4,231.6 597,231.1 599.1,234.3 601,237.3 600.7,235.2 603.8,241.7 602.4,237 601.2,232.7 604.2,238.6 604.8,238.6 603.6,233.9 604.1,233.4 603.2,229.2 604.4,230.2 603.7,226.3 605.4,228.6 606.7,229.8 610.4,237 609.7,233.6 610.6,233.8 611,233 609.2,227.1 610.2,228.2 612.4,232.5 613.9,235.2 612.7,231.2 613.4,232 614.7,234.1 615.8,235.7 615.6,233.7 617.2,236.3 616.5,232.7 616.2,230.1 618.8,234.8 621.3,239 619.4,232.4 620.5,233.2 621.6,234 623.1,236.2 623.6,235.7 622.8,232.2 629.1,246.6 626.4,238.5 629.5,244.8 623.1,227.4 624.3,228.9 622.7,223.4 620.6,216.3 625.3,226.2 623,218.6 627.3,227.4 634.8,243.9 632.2,235.4 632.4,234 633.1,234 632.8,231.4 636.6,239.1 638,241.1 636.7,236.4 633.2,226.4 640.6,243.7 637.9,236 639.4,238.4 640.6,240.4 639.9,237.3 640.3,236.9 637.8,229.1 643.8,242.7 643.2,239.7 644.6,241.7 646.5,245.1 645,239.9 645.4,239.4 644,234.4 645.2,235.8 645.1,233.9 645,232.1 645.4,231.4 645.3,229.6 645.8,229 646.6,229.6 650.8,238.4 649.6,233.6 650.5,234 650.6,232.6 652.7,236.3 653.1,235.7 656.7,242.9 655.3,238.2 656.9,240.6 656.3,237.7 658.9,242.6 658.3,239.5"/>
</g>
<g stroke="#ffd700">
<polyline stroke-dasharray="13 1.5" points="77.9,242.9 76.3,238.1 77.1,239.1 76.1,235.8 78.6,240.9 79,241.1 77.8,237.2 79,239.1 77,233.3 76.4,230.9 78.8,236 78.5,234.4 80.5,238.5 80.9,238.6 79.5,234.2 79.3,232.9 81,236.3 80.7,234.6 81.3,235.1 81.6,234.9 82.4,236.1 78.2,224.9 82,233.3 80.5,228.7 79.1,224.4 80.7,227.5 81.5,228.4 81.1,226.8 82.2,228.4 80.8,224.1 81,223.8 80,220.4 80.3,220.2 81.2,221.6 81.4,221.3 79.8,216.2 80.2,216.5 82.5,221.2 83.6,223.1 82.9,220.4 81.7,216.7 81.8,216 81.4,214 82.9,217 81.1,211.7 84,217.9 83,214.6 81.6,210.3 81.8,209.8 85.1,217.3 84.4,214.5 81.3,205.9 83,209.1 81.4,204.2 83,207.3 81.7,203.3 83.1,205.7 82.9,203.8 81.9,200 83.2,201.6 83.5,201 84.7,202.3 83.1,197.1 84.6,199.2 84.2,196.7 84.7,196.6 85,195.8 86.1,196.9 85.3,193.4 86.3,194.5 85.3,190.4 85.2,188.7 84.6,185.9 85.7,187.2 86.6,188.2 86,185.2 85.4,182.5 86.2,183.2 84.9,178.5 85.7,179.1 85.2,176.5 86.4,178.2 86.3,176.6 87.3,177.8 86.9,175.6 87.1,174.7 87.4,174.1 88.1,174.5 88.8,174.8 88,171.5 87.1,167.8 88.9,170.7 88.6,168.5 89.9,170 87.4,162.1 87.8,161.4 86.8,157.3 87.9,158.5 86,152.1 90.1,160.7 87,151.4 90.6,158.7 87.9,150.7 87.1,147.2 86.9,145.2 86.3,142.1 87.2,142.9 87.2,141.3 87.1,139.4 87.5,139 88,138.8 88.4,138.2 90.1,141 89.8,138.7 90.7,139.5 90.3,137.2 90.5,136.1 90.2,133.9 90,132 89.6,129.5 91.4,132.2 90.7,128.8 89.2,123.4 90.9,125.7 89,118.9 90.6,121.1 89.6,116.6 91.3,119.1 91.8,118.6 92,117.4 91.8,114.9 92.2,114.1 92.5,113.3 92.5,111.6 93.3,111.6 93,109.3 92.1,105 92.4,104 92.5,102.1 92.9,101.1 93.6,100.7 92.2,94.9 92.6,93.7 92.1,90.3 92.9,89.7 94.2,90.6 93,84.9 94.7,86.8 94.9,85 94.2,81.3 94.9,80.9 97.3,84.4 94.8,75.9 95.8,75.7 96.5,74.4 99.2,78.1 98,71.6 98.4,68.6 98.6,64.7 98.9,63.7 98.9,64.6 98.8,65.4 99.4,67.9 100.6,71.8 100.2,70 101,71.5 101.4,71.7 102.3,73.4 103.3,75.3 103.4,74.9 104.2,76.2 104.3,76 104.3,75.1 106.3,79.4 105.2,76 107.5,81.1 108.7,83.6 108.9,83.5 109.1,83.5 111,87.4 109.9,84.1 111.5,87.7 112.2,88.7 111.9,87.4 113,89.4 113.3,89.5 114.6,92.2 115.7,94.4 117.6,98.4 117.8,98.2 120.3,103.6 120.7,104 122.9,108.6 122.9,108.1 124.5,111.5 124.4,110.5 126.2,114.5 126.9,115.4 128.2,118.1 128.2,117.3 129.9,120.7 131.4,123.7 132.4,125.6 131.6,122.7 134.7,129.5 135.8,131.3 135.5,129.4 136,129.6 136.4,129.8 138.8,134.8 139.9,136.5 141.3,139.1 141.2,137.7 142.5,140 144.3,143.4 144.6,143 146,145.2 147.6,147.9 148.8,149.7 150.1,151.8 150.4,151.5 151.8,154 152.8,155.5 153.9,157.7 154.6,158.8 156.4,162.8 157.3,164.5 157.4,164.6 159.8,170.2 157.8,165 158.9,167.2 159.9,169.3 161.3,172.2 163.3,176.3 164.3,177.9 167,183.9 166.7,182 167.1,182.1 168.1,183.7 170.5,188.8 169.1,184.7 167.9,181 170.7,187.1 170.8,186.5 170.5,185.1 172.1,188.3 173.6,191.4 175.7,196 174.1,191.1 176.6,196.7 175.8,194.1 176.7,195.8 177.1,196.2 177.9,197.5 178.9,199.5 179.7,200.8 180.2,201.4 182.2,205.9 183.5,208.7 185.3,212.8 185.9,214.1 183.4,207.5 184.2,209.2 187.7,217.8 187,215.8 188,218.2 190.3,223.9 186.7,214.7 190.7,224.3 190.8,224.3 188.7,218.8 190.4,222.5 191.8,225.5 192.4,226.4 195.2,232.8 195.5,232.7 194.7,229.6 194.4,227.6 192.3,221.1 191,216.4 194,222.3 198.2,231.2 197.8,228.8 198.4,229 200.8,233.4 200.3,230.9 204.7,240.5 203.6,236.5 200.8,228.3 203.4,233.6 202.4,230.1 204,233.1 201.8,226.6 205.6,234.4 207.9,238.6 205,230 208.2,236.5 208,234.8 209.9,238 210.6,238.5 211.6,239.7 213.4,242.9 214.4,244.3 214.8,244.1 211.1,233.5 211.5,233.2 211.2,230.8 211,228.7 211.8,228.7 210.3,223 216,235.1 215.7,232.1 216.5,232.1 215.9,228.3 217.3,229.8 216.6,225.9 220.6,234 221.5,234.1 226.6,245.1 217.7,221.3 222.2,231.1 221.7,228.6 223.5,231.8 219.1,219.6 226.8,237.3 222.6,225.4 223.4,225.9 224.1,226.1 228.4,235.4 229.8,237.4 231.2,239.7 229.5,234.4 225.2,222.2 227.5,226.6 226,221.4 229.3,227.9 233.6,236.8 229.4,224.4 229.3,221.9 230.4,222.3 232.4,225 238.1,236.7 238.3,235 235.4,225.3 236.7,226.2 234.8,219.3 238.7,226.9 237.1,221.1 238.4,222.8 237.9,220.5 238,219.7 240.4,225 245.5,237.2 242.8,229.9 245,234.8 244.1,231.7 246.6,237.1 246.6,235.8 249.6,242.1 250.9,243.8 249.6,238.9 248,233.1 251.7,240.3 250.5,235.2 252.5,238 251.8,234 249.3,225.8 252.4,231.7 255.7,238.1 253.2,230.3 256,235.8 253.7,228.6 256.8,235.1 258.5,238.1 257.5,234.4 257,232.2 259,236.1 260.3,238.2 261.8,240.9 260.2,235.8 260,234.3 261.8,237.4 264.1,241.9 262.6,236.6 262.9,235.8 265.2,239.8 269.1,247.2 264.4,234 264.8,232.9 268.4,239.4 265.9,230.8 269.1,236.2 266.4,227.1 270.5,234.5 272.4,236.7 274.5,239.3 270.3,226.2 274.1,233.4 274.3,231.4 274,228.2 276.7,232.5 276.9,230.8 272.2,217.2 278.1,230 279,230.5 278.2,227.4 279,228.4 280.6,231.7 278.3,225.7 282.7,236.6 280,229.9 285.4,243.7 279.6,229.3 283.3,238.5 285.2,243.2 285.5,243.4 287.5,247.2 286.9,245.7 286.1,242.8 288.3,247.1 291.6,247.2 288.9,245.5 291.8,247.2 291.3,247.2 293.2,247.2 292,244.6 292.8,244 293.4,243 293.4,240.5 293.3,237.6 292.2,232.2 295.3,237.4 294.2,232.2 296.9,236.5 295.8,231.5 298.5,236.1 298.9,235 299.3,234.1 304.3,244.8 305,244.7 305.2,243.7 298.4,225.3 296.9,220.2 301.2,229.6 299.8,224.6 304.3,234.5 304.9,234.9 305.5,235.4 308.5,241.5 308.9,241.4 308.4,239.1 307.8,236.4 309.5,239.6 305.6,228.6 308.1,233.4 308.7,233.3 310.9,237.1 310.3,233.9 312.1,236.4 313.3,237.6 312,232.4 311.9,230.2 315.3,236.8 315.3,234.8 318.4,240.7 318.7,239.5 320,240.8 320.2,239.4 317.2,230 318.6,231.7 319.1,230.8 322.3,236.8 320.2,229.7 323.1,235.2 323.2,233.5 324.4,234.9 325.9,236.9 325.1,233.5 326.6,235.7 326.8,234.8 326.1,231.6 326.1,230.2 328.3,234.4 329.4,235.5 329.4,234 330.9,236.1 333.1,240.1 334.5,241.9 334,239.2 334.7,239.4 333.1,234 333,232.4 333,231.1 333.3,230.7 335.6,235.3 336.6,236.5 339.1,241.3 339.3,240.4 339.2,238.8 338.3,234.9 340.1,237.7 341.2,238.7 340.8,235.7 340.3,232.8 342.6,236.5 342.9,235.2 344.8,237.9 345,236.8 343.8,232 346.5,236.9 348.7,240.6 350.2,242.5 347.7,234.4 351.7,242.4 353.2,244.3 350.3,235 350.8,234.2 350.9,232.5 347.7,222.4 354.3,237.1 352.4,230.5 354,232.9 353,228.9 352.7,227 354.3,229.8 356.6,234.3 357.9,236.7 360.9,243.1 360.9,242.1 359.4,237.3 359.3,235.7 363.3,244.4 361.7,238.9 360.1,233.3 363.6,240.3 362.7,236 362.8,234.3 361,227.8 363.5,231.9 366.9,238.3 367.6,238 367.1,234.9 368.6,236.9 369.7,238.2 368.1,232.6 369,233.4 369.4,233 368.2,228.6 371.1,234.6 372.3,235.9 373.1,236.5 372.9,234.2 373.2,233.6 374.9,236.1 373.7,231.4 375.7,234.7 378.2,239.2 379.8,241.5 378.8,237.5 378.4,235.3 379.3,235.9 380,236.2 380.1,235 380.2,233.5 384.1,241.7 382.4,235.7 382.9,235.1 383.3,234.1 386.3,239.6 383.9,231.7 382.9,227.2 384.2,228.3 382.2,221.5 384.7,225.8 385.3,225.6 383.6,219.9 384.5,220.4 389.9,232.6 395.7,245.8 393.5,239.3 393.7,238.9 394.5,240 396.4,243.7 395.1,239.3 395.9,240.2 398.1,244.2 397.7,241.9 395.2,234.1 404.7,247.2 404.8,247.2 399.5,239.6 399.3,237.1 400.8,238.6 400.4,235.7 404,242.6 407.4,247.2 405.6,242.4 406,241.8 402.8,232 404.1,233.9 403.6,230.9 403.7,229.9 405.1,232 408.4,238.9 410.4,242.4 409.3,238 409.3,236.7 406.7,228.8 410.7,237.2 407.6,227.8 411.3,235.1 410.5,231.4 411.3,231.5 412.6,232.9 417.3,242.7 416.5,239 416.4,236.6 414.8,230.9 419.7,241 420.3,240.8 424.9,247.2 421.6,240.1 419,232 424.2,243.3 421.8,235.7 421.1,232.3 426.3,243.9 426.4,242.9 424.4,236.7 419.7,223.7 427.1,241.1 427.2,240.2 426.1,236.4 428.1,240.1 430.2,244.3 429.4,241.2 428.9,238.7 429.6,239.4 430.2,239.6 428.7,234.4 431.3,239.5 436.9,247.2 434.3,243.8 430.2,231.8 440.9,247.2 436.2,243.1 436.7,242.3 433,231.1 436.7,238.1 434.8,231 437.5,235.5 438.6,235.8 438.5,233.4 438.5,231.4 438.6,229.7 442.7,238 441.3,232.7 441.4,231 442.3,231.5 442,228.9 444.2,232.9 444.9,233.1 444.1,229.5 446,233.1 444.4,227.8 447.5,234.3 451.4,242.7 446.4,229 450.4,237.4 451.6,238.9 449.8,232.8 449.6,230.6 450,229.7 449.5,226.6 452.1,231.2 456.1,238.9 455.1,234.3 458.6,241 458,237.7 457.4,234.2 463.6,247.2 459.2,235.3 461.4,239.1 458.6,230.5 459.5,231.3 456.5,222.5 457.5,223.4 460.5,229.1 459.7,225.6 464.8,236.4 467.4,241.1 465.7,234.9 468.1,239.2 469.3,240.2 468.4,236.3 461.9,218.5 470.2,237.5 474.7,247.1 474.4,244.7 471.1,234.5 473.1,238 476.5,244.6 471.3,230.1 472.8,232 474.2,233.8 470.9,223.9 472.5,226.1 474.3,228.9 474.3,227.3 480.4,241 479.2,236.4 480.3,237.5 482.3,241 478.1,228.9 481.5,236.1 481.2,234 479.1,227.6 482.7,235.1 486.5,243.6 487.2,244.1 483.8,234.3 482.4,230 485.5,236.7 488,241.8 484.9,232.9 487.3,237.6 488.5,239.1 491.6,245 494.1,247.2 497.1,247.2 496.8,247.2 494.5,244 495.6,244.6 493.9,238.1 494.5,237.1 493.8,233.3 495.2,234.6 496,234.5 491.4,221.1 492.7,222.6 492.8,221.4 501,240 500.2,236.6 505.1,247.2 501.1,236.1 503.3,240.2 502.3,236.3 506.4,245.3 506.9,245.3 506.1,241.9 505.1,238.2 505.7,238.4 502.7,229.7 504.4,232.2 504.4,230.4 509.4,241.2 510.9,243.1 510.6,240.6 509.3,235.2 510.6,236.4 508,227.8 508,225.5 512.7,234.9 508,221.3 505.1,212.1 509.3,220.6 509.4,219.4 513.1,226.9 515,230.3 519,238.9 514.3,225.8 518.8,235.9 516.7,229.4 518,231.2 519.5,233.6 518.4,229.7 519.5,231.3 520.8,233.3 520.4,231 520.2,229.1 517.7,221.6 526.8,243 524.3,235.4 525.9,237.9 525,234.1 528,240.1 526.3,234.2 528.8,238.9 530.7,241.9 530.4,239.3 529.5,235.4 527,227.4 528.8,229.9 529.8,230.9 532,235 531,231 536.9,244.4 532.2,231.4 532.9,232.2 531.8,228.4 531,225.1 534.5,232.7 536,235 536.9,235.9 537.1,234.9 539.2,238.4 540.3,239.1 540.9,238.5 540.4,235 539.4,230.1 541.2,232.2 540.5,228.3 543.6,233.6 547.1,240 545.8,234.8 540.9,220.7 552.2,246.8 551.8,243.9 547.7,231.9 545.5,224.5 546.3,224.5 550.9,234.1 552.7,236.8 551.9,233.1 551.6,230.7 554.4,236.1 555,236 557,239.4 555.8,235.1 559.5,243 556.2,233.6 556.6,233.4 557.3,233.8 554.9,226.8 561.3,241.4 562.3,242.7 562.4,241.6 561.7,238.4 559.9,232.3 562.3,236.3 563.1,236.4 563.3,235.2 565.8,239.8 567,240.9 565,234.3 566.8,237.2 569.1,241.6 571.7,246.7 568.8,238.1 568.3,235.3 569.7,237.7 569.3,235.3 569.6,234.8 573.1,242.5 571.7,237.7 572.4,238 571.8,235.1 573.7,238.4 575.8,242.1 575.9,240.8 576.4,240.2 575.7,236.4 576.4,236.2 574.5,229.2 574.1,225.8 576.2,228.5 575,223 576.5,224.1 576.3,220.9 580.2,227.9 582.2,230.4 580.6,224.5 579.9,220.8 579.3,217.5 584.6,229.2 586.2,231.6 584.7,226.7 582.2,219.1 586,227.3 586.3,227 585.6,224.2 590.8,236 591.3,236.3 589.4,230.4 588,226.1 589.6,229 593.2,236.9 597.2,245.6 595.9,241.1 592.6,231.9 592.9,231.5 595.9,237.9 592.8,228.7 591.6,224.4 596.7,235.4 596.3,232.9 598.8,237.1 598.6,234.6 603.9,245.8 602.1,239.3 600.9,234.4 601.9,234.9 597.8,222.7 602.6,232.9 604.5,235.5 603.3,230.4 603.6,228.8 604.5,228.8 608.4,236.5 604.7,225.3 610.7,238.3 606,224.8 609.4,231.7 610.5,233 612.2,236 610.1,229.5 615.1,241 611.9,232 610.7,228.2 610,225.6 612.6,231.1 616,238.7 614.9,235.2 615.7,236.1 617.9,240.5 616.9,236.9 618.5,239.4 620.6,243 620.1,239.9 620.5,239.1 626.5,247.2 624.1,244.5 621.7,236.4 625.4,243.7 624.8,240 630.4,247.2 627.1,241.5 628,241.6 632.2,247.2 629.4,240.7 629.6,239.3 628.2,234.1 625.2,224.8 628.8,231.9 627.4,227 627.9,226.6 636.8,247.1 634.6,239.9 635.3,239.7 633.1,232.6 633.4,231.4 635.8,235.8 636.9,236.7 636.2,233.1 637.6,234.8 635.9,228.8 637.2,230.6 640.2,236.7 643,242.6 639.8,233.8 640.3,234.4 637.9,227.8 643.4,241.2 641.9,237 642.5,238.2 645,243.7 643.2,238.2 646.2,244.2 650,247.2 650.2,247.2 647.5,241.2 646.5,236 649.1,239.8 652.6,245.7 650.1,236.6 653.4,242 653.4,239.4 653.5,237.3 656.3,242.1 654.5,235.9 654.6,234.2 654.9,233.3 654.6,231.1 659.1,240.8 654.4,227.7 654.9,227.6"/>
<polyline stroke-dasharray="5 2" points="76.9,240.3 77.1,240.1 76.6,238.1 79.2,243.7 78.4,240.8 80,244 77.6,237.2 79.7,241.6 79.4,240.1 77.3,233.9 79.1,237.7 79.9,238.9 79.3,236.4 77.9,232.2 77.6,230.5 76.6,227.1 76.8,226.9 75.7,223.3 81.3,236.4 81.7,236.7 81,234.1 82.9,238 81.8,234.5 81.1,231.7 81.6,232.2 78,222.3 80.4,227.4 80.2,226.2 80.8,226.8 81.4,227.4 81.9,227.7 83,229.5 83.1,228.7 81.8,224.6 80.4,220.3 81.1,221.1 81,220.2 81.2,220 81.8,220.6 81.9,220 82,219.7 79.8,213.6 82.6,219.9 82.9,220 81.6,216 84,221.2 83,218 85.1,222.3 83.8,218.5 83.6,217.2 83.5,216.1 83.9,216.1 83.1,213.2 82.7,211.3 82.7,210.2 83.1,210.4 82.8,208.5 83,208.3 86.2,215.3 87.5,217.5 84.5,209.3 82,202.1 82.4,202.4 86.1,210.8 85.5,208.1 81.6,197.1 84.8,203.8 86,205.8 84.7,201.4 86.7,205 84.5,198.3 83.9,195.6 85.6,198.5 86.7,200 85.1,194.6 85.6,194.4 86.3,194.8 84.8,189.5 85.4,189.7 85.6,188.8 84.3,184.1 85.5,185.6 86.3,186.2 86.1,184.5 88.8,189.9 86.2,181.9 87.1,183 86.4,179.8 87.6,181.5 87.6,180.2 85.9,174.4 89.3,181.5 88.6,178.3 88,175.3 87.6,172.9 87,170 88.8,173.1 88.3,170.6 86.7,165.5 86.8,164.6 87.2,164.5 88.7,167.1 88.4,165.5 89.3,166.5 88.5,163.6 88.7,163.1 87.6,159.3 86.3,154.9 87.6,157 91,164.3 88.2,156 88.3,155 88.5,154.1 89.1,154.2 88.2,150.6 89.4,152.2 88.9,149.6 89.1,148.5 89,146.9 88.8,144.9 90.4,147.4 91.9,149.6 90.8,145.3 91.4,145.2 89.9,139.7 92.2,143.9 90.3,137.5 91.9,139.9 92,138.5 92,137.2 93.2,138.5 92.7,135.7 94.5,138.9 92.7,132.8 92.4,130.6 92,128 92.4,127.7 93.2,128.1 92.8,125.6 93.7,126.3 92.2,121.1 91.3,117.4 92.9,120 92.9,118.4 93.1,117.5 93.3,116.8 93.6,116.3 94.1,116.3 94.5,116.1 94.7,115 94.7,113.5 94.6,111.7 95.3,112 94.9,109.3 97.1,113.2 95.2,106.7 94.6,103.3 96.2,105.6 95,100.9 95,99 96.4,100.8 98.3,103.9 95.8,95.9 97,97.1 97,95.2 97.3,94.1 100.8,100.8 97.3,89.7 97.3,87.4 97.2,85.2 98.4,86 100.1,87.7 100.5,86.2 100.9,84.2 100.8,80.6 100.5,76.5 102.2,78.9 103.2,81 101.1,75 101.7,75.7 101.8,75.5 101.8,74.5 103,76.9 103.1,76.5 105.6,82 105.8,81.9 104.9,79 105.8,80.4 107.2,83.3 107.4,82.9 109.1,86.5 108.8,85 108.4,83.2 109.4,85 109.6,84.9 110.8,87.4 112.2,90.4 112,89.1 113.6,92.5 114.1,93.3 115.5,96.1 114.7,93.6 116.2,96.6 116.7,97.2 117.9,99.3 118.6,100.1 119.5,101.4 120.9,103.7 122.4,106.4 123,107 123.4,106.9 124.1,107.6 125.6,110.4 126.5,111.9 130,119.7 131.2,122 130.8,120.3 132.6,124.1 133.5,125.6 132.7,122.9 134.9,127.5 135.5,128.3 136.6,129.9 137.6,131.5 138.6,133.1 138.6,132 139.2,132.7 140.1,133.9 141.8,137.3 142.5,138.2 143.9,141.1 144.1,141 145.2,143.4 146.4,145.8 149,151.8 150.1,153.9 150.7,154.8 152.2,158.1 153,159.3 155.3,164.3 153.7,159.7 155.3,162.8 154.6,160 158.5,168.8 159.1,169.2 163.1,178 160.3,169.8 160.7,169.6 161.5,170.2 162.6,172 163.6,173.2 162,168.3 161.8,166.8 163.2,169.4 166,175.3 167.6,178.4 167,176 170.1,182.7 171,184.3 170.3,181.7 171.6,184.3 172.6,186.2 171.8,183.7 172.8,185.7 173,185.8 170.5,178.9 172.6,183.7 177.1,194.4 173.7,185.3 177.4,194.2 175.3,188.3 178.8,196.1 180.4,199.4 182.8,204.5 184.5,207.9 182.4,201.9 185.2,207.7 184.3,205 184,203.5 186.5,209.3 184.9,205 190.2,217.9 190.4,218.1 186.1,207.6 185.4,205.7 189.2,215.2 193.3,225 185.6,205.5 190.4,216.9 189.3,213.6 193.2,222.4 193.5,222.2 195.4,225.6 193.8,220.3 196.4,225.7 195.4,221.7 196,221.7 197.9,225.3 195.6,218.1 197.5,221.7 198,221.7 197.8,220.1 200.8,226.8 201.6,227.5 202.1,227.4 201.7,225.1 202.6,226 203.4,226.5 202,221.7 203,222.5 206,228.4 207.2,229.8 205.1,223 208.5,230 210.5,233.4 209.5,229.6 210.9,231.9 207.1,221.5 213.4,236.4 214.6,238.5 214.6,237.6 216.7,242.2 222.8,247.2 219,245.9 216.4,238.2 218.6,242 216.9,235.8 217.5,235.3 219.8,238.9 218.1,232.4 217.7,229.3 222.2,238.4 220,231 220.2,229.6 219.9,227.1 221.5,229.6 221.8,228.9 223.8,232.6 224.8,233.8 225.1,233.4 223.7,228.7 225.8,232.6 224.7,228.6 223.4,224 230.3,240 223.9,222.6 230.5,237.5 224.6,221.4 229.4,231.8 223.7,216.1 225.3,218.9 229.4,227.7 232.1,233.3 234.5,238.1 235.1,238.2 234.6,235.6 238.1,243.1 236.2,237.1 238.3,240.9 237.8,238.4 240.8,244.4 243.1,247.2 239.8,239 241.4,241 243.6,244.8 240.3,234.7 242,236.8 245.1,242 251.7,247.2 247,242 245.2,235 248.5,240.9 246.1,232.4 246.7,231.6 246.4,229.1 247.7,230.5 251,237.2 251.9,237.8 251,234.1 247.1,223.4 250.4,230.3 254,238.1 252,232 252.7,232.4 253.9,234.3 255.2,236.4 256.7,239 260.2,246.3 258.7,241.2 260.8,244.9 259.9,241.3 256.7,231.8 256.4,229.6 261.4,240.8 256.8,227.8 261.9,238.8 263,240 260,230.8 260.5,230.1 262,231.7 261.8,229.3 267.7,241.9 266.1,235.7 266.2,233.9 267.5,234.7 268.1,233.9 269.5,235.1 268.7,230.7 269.7,231.3 270,230 268.5,224.6 270.2,227.3 270.5,226.6 272.7,230.7 274.1,233.2 273.3,229.9 272.8,227.5 273.4,227.8 273,225.4 270.4,217.6 274.9,227.5 276.3,229.5 275.8,226.5 275.5,224.1 279,230.9 280,231.7 277.1,222.7 280.5,229.5 279.3,225.1 282.4,231.8 286,239.6 286.7,240.4 287,240.5 285.5,236.1 286.9,239 289.2,244.2 288.5,241.9 289.2,243.1 291,246.8 290.8,245.7 289.3,241 292.1,246.8 292.5,246.4 295.4,247.2 295,247.2 292.7,240.9 291.8,236.1 293.5,237.9 294.4,237.6 294.5,235.1 294,231.2 295.5,232.4 299.1,238.8 298.1,233.7 300,235.9 302.6,239.8 299.4,229.5 304,238.9 305.8,241.4 299.4,223.7 301.1,226.4 304.4,233.2 305.5,234.4 301.9,224.1 306.7,234.7 306.5,233 308.7,237.3 307.4,232.7 310.1,238.1 309.7,235.6 308.7,231.8 309,230.8 311.2,234.6 306.5,221 308.4,224.1 312.1,231.6 312.6,231.2 311.2,226.3 317.3,239.9 316.7,237.2 316.2,234.6 315.9,232.6 319.3,239.8 319.1,237.9 315.7,227.9 317.3,230.1 317.5,229.1 323.5,242.1 321,234.2 322.5,235.9 324.4,239 323.7,235.4 325.5,238.4 328,243.1 325.8,236.1 323.3,228.6 326.3,234.8 327.7,236.9 333.3,247.2 330.3,240.5 333,245.7 330.1,236.8 329.3,232.7 331.1,235.1 333.6,239.2 334.8,240.1 331.2,228.8 331.4,227.1 333.3,229.6 333,226.7 333.8,226.6 334.9,227.6 335.1,226.2 339.5,235.4 337.2,228.2 340.3,234.6 340.9,234.8 344.1,241.9 344.8,242.9 344.1,240.4 339.8,229 343.7,238.3 342.7,235.1 340.8,230 341.7,231.7 343.9,236.5 345,238.4 346.9,241.8 342,227.9 348.1,241.2 346.8,235.9 351.8,246.1 351.6,243.3 349.5,235.7 351.3,237.8 352.4,238.5 352.7,237.4 352.9,236.2 353.9,237 354.3,236.6 357.2,242.2 355.5,236.3 357.9,240.6 356.8,236 358.5,238.2 358.1,234.9 359.9,237.1 358.8,231.9 360.5,233.2 361.5,232.9 360.9,228.6 364.6,235.2 366.2,236.9 365.9,234 363.4,226 365.5,229.6 365.6,228.7 365.2,226.5 367,230.1 369.8,236.5 368.3,232 369.2,233.4 370.3,235.5 370.2,234.4 373.3,241.3 373.4,240.6 372.3,237 373.9,239.9 373.9,238.5 373.9,237.2 375.5,239.9 375,237.1 376.4,239.3 378.3,242.7 379.8,245.1 376.4,235.3 377.7,237.3 377.1,234.6 379,238.3 381.9,244 383.4,246.4 384.4,247.2 386.5,247.2 385.6,247.2 385.9,246.3 383,237 385.3,240.8 385.4,238.6 387.9,242.5 388,240.5 387.8,237.4 390.3,241.2 388.6,234.6 392.4,241.7 394.3,244.3 391.6,235.6 393.4,238.1 393.9,237.9 395,238.9 394.5,236.3 396.2,239 395.1,234.8 396,235.5 394.5,230.5 392.8,224.7 395.4,229.9 395.3,228.1 397.8,232.8 401.5,240.5 400.3,235.9 405.5,247.2 404.6,243.3 401,232.6 401.8,232.7 403.5,235.2 402.3,230.6 404.7,234.8 406.2,236.7 409.4,242.6 407.6,236.4 410.9,242.6 408.1,234 411.7,241.3 408.6,232.2 408.5,230.7 414.2,243.5 413.4,240.5 413.8,240.3 414.5,240.9 417.4,246.9 416.3,242.7 418,245.3 416.2,239.1 414.8,233.8 417.1,237.4 419.7,242 420.6,242 420.7,240.4 419,234.5 419.1,233.2 422.1,239.2 422.1,237.9 427.3,247.2 422.3,236.1 420.4,230.2 427,245.3 426.8,243.1 426.5,240.7 425.2,235.6 427.1,238.1 429.3,241.7 432.5,247.2 429.6,238.1 428.5,233.2 430.3,235.6 432.5,239.3 430.8,233.1 431.9,234.2 433.8,237.3 432.1,231.4 435.7,238.5 438.6,244.1 433.6,229.6 435.6,232.3 438.1,236.2 437.5,232.4 438.3,231.9 435.2,221.8 438.1,227 439.7,229.3 445.6,242.1 438.2,222.4 444.5,236.9 442.9,231.8 449,246.1 448,243 443.6,231.5 443.1,229.7 440.2,221.6 445.6,234.6 443.6,228.8 446.6,235.3 444.3,228.3 443.2,224.4 447.4,233.3 454.3,247.2 452,241.4 454.6,246.2 451.1,235.8 452,236.1 451.6,233.5 456.9,244.5 453.1,233.1 455.5,236.9 455.4,234.6 458.7,240.8 458.6,238.7 458.7,236.9 458,233.6 457,229.3 456.3,225.9 460.5,234.7 462.7,238.7 467.7,247.2 465.2,242.3 464.2,238.8 462.2,232.8 466.3,242.2 467.1,243.3 469.6,247.2 466.7,240.5 470,247.2 470.7,247.2 473.4,247.2 473.6,247.2 468.9,239 472.9,247.1 471.1,240.7 474.1,246.2 467.9,228.7 474.4,242.7 473.4,237.8 470.2,227.4 475.2,237.5 471.7,226.5 474.8,231.9 479.7,241.8 479,238.1 478.5,235 481.1,239.5 480.2,235.5 481.6,237.4 480.5,233 482.9,237.1 483.2,236.2 483,234.1 484.1,235.4 484,233.7 485.9,237.1 484.5,232.5 487.8,239.4 485.3,232.1 486,232.5 489.4,239.7 488.9,237.3 487.3,231.9 490.5,238.4 491.2,238.4 491.2,236.4 491.7,235.3 490,228.8 496.2,241.7 495.6,237.5 495.8,235.2 495.3,231.1 497.6,234.3 494.9,225 493.8,220.4 493.2,217.2 502.5,238.9 504.7,243.1 502.3,236.1 501,232.1 498.8,225.7 501.9,232.9 500.7,229.1 505.4,239.8 500.9,227.8 501.6,228.7 508.1,243.9 508.1,242.8 510.5,247.2 503.4,228.5 507.7,237.7 510.1,242.4 509.5,239.6 508.5,235.6 510.1,238 510.5,237.3 507.7,228.8 512.7,239.6 511.7,235.6 515.2,242.4 512.5,233.8 518.7,247.2 513.8,232.7 514.5,232.3 515,231.2 520.6,242.9 517.7,233.2 515.7,226.1 518.6,231.1 522.7,239.1 523.1,238 522,233.5 523.7,236 523.9,234.7 521.4,227.1 524.6,233.6 524,230.5 523.5,227.8 528.3,238.3 524.7,227.6 523,221.9 527.1,230.1 528.4,231.8 528.8,230.8 532.8,239 532.7,236.9 533.8,237.9 531.5,230.4 531.1,227.6 533.4,231.8 538.1,241.9 537.7,239.3 534.6,229.8 533.1,224.5 536.4,231.1 537,230.9 540.2,237.3 541.5,239.1 537.3,227.3 538.3,228.3 541.4,235 542.4,236.4 541.9,234.1 542.2,234 545.3,240.9 541.6,230.9 543.9,235.8 542.4,231.2 542.1,229.4 547,240.5 547.7,240.8 548.3,240.5 549.3,241.2 548.2,236.6 547.5,232.7 549.8,236.3 551.3,237.9 552,237.4 551.7,234.4 552.8,234.8 551.5,229.5 553.6,232.5 554.8,233.4 554.7,231 554.9,229.6 554.5,226.6 555.6,227.6 554.6,223.4 556.4,226.1 561.7,237.9 564.6,243.8 564.2,241.5 560.6,231.5 559.8,228.8 564.5,240 568,247.2 565.6,241.8 566,242.1 565.2,239.6 567.6,245 569.8,247.2 566.2,239 571.3,247.2 568,240.3 571.9,247.2 571.8,245.5 573,246.1 570.4,237.4 569.1,231.7 565.2,219.9 567.6,223.5 569,224.6 576.2,240.4 578.7,244.6 577.3,239.2 574.1,229.3 578.3,237.8 579.2,238.1 579.2,236.2 582.1,241.3 575.6,223.4 575.9,222.4 578.4,226.8 578.6,225.5 579.9,227.5 577.6,220.5 584.1,235.3 586.1,239.1 586,237.8 587.7,241.1 583.7,229.7 585.8,233.7 584,227.9 584.1,226.4 589.5,238.2 588.7,234.3 590.3,236.6 587.4,227.3 590.8,233.9 591.9,234.5 593.5,236.6 595.9,240.5 591.5,227.4 595.2,234.7 597.2,237.6 596.6,234.1 599.3,238.8 598.9,235.8 603.3,245 599.4,233.4 602.8,240.1 595.3,219.7 597.1,222.5 596.4,219.1 602.3,232.4 602,230.1 606.2,238.9 602.8,229.1 608.6,241.9 606.4,234.8 610.5,243.3 603.7,224.6 611.6,242.7 611.5,241 611.6,239.7 605.8,223.9 610.9,235.8 607.1,225.4 611,234.4 609.7,230.6 611.2,233.9 607.9,225.1 607.8,224.2 612.8,235.8 610.9,229.9 616.8,243 618.4,244.9 625.1,247.2 623.8,247.2 621.5,245.6 621.8,244 619.3,235.1 621.5,238.3 622.4,238.3 621.4,233.8 620.4,229.4 624.5,238.2 621.7,229.9 621.7,228.4 624.9,235.4 626.3,237.7 624,230.8 627.1,237 626.5,234 629.4,239.6 627.2,232.2 629.1,235 631.2,238 632,237.8 632.7,237.3 634,238.7 630.8,228.5 632.4,230.7 637,240.3 635.7,235.6 635.6,233.9 640.2,243.8 640.8,243.9 638.2,236.3 642.4,245.3 638.3,233.5 639,233.6 644.2,244.8 640.9,234.7 642.3,236.3 643.5,237.5 644.8,238.9 644.1,235.2 642.9,230.6 646.5,238 645.4,233.8 647.3,237 645.9,232.2 646.5,232.4 647.6,233.8 650.3,239.1 650.2,237.4 653.3,243.7 652.9,241.1 649.7,231.5 650.2,231.2 651.8,233.4 649.3,225.4 653.3,233.8 652,228.8 655.4,235.6 653.1,228.2 655.2,231.8 657,234.6"/>
<polyline stroke-dasharray="6 1.8 1.8 1.8" points="77.6,242.1 78.5,243.5 79.5,245.3 78.7,242.6 79.2,242.9 77.3,237.6 79.1,241.3 78.8,239.8 78.3,237.7 78.8,238.2 78.3,236.1 79.1,237.5 79.2,236.9 78.3,233.8 78.8,234.3 79.4,235.2 80,235.9 79.5,233.7 79,231.8 79.9,233.3 79.1,230.5 77.1,224.7 81,233.7 80.9,232.6 82.8,236.5 81,231.4 82.8,235.1 79.8,226.9 82,231.6 81.9,230.5 81.6,229 84.8,236.3 83.9,233.1 81.8,227.4 81.8,226.4 82.2,226.7 81.2,223.7 83.4,228.3 82.8,226.1 82.1,223.7 83.6,226.6 82.8,223.9 83.2,224.2 80.5,216.6 82.2,219.9 80.3,214.5 82.1,218.2 82.9,219.1 82.8,218.1 82.3,216.1 81.9,214.4 82.2,214.3 82.2,213.6 83.1,215.2 83,214.4 85.7,220.4 83.1,213.4 86,219.9 84.2,214.9 84.7,215.6 83,210.7 85.7,216.6 85.1,214.2 84.5,212 84,209.9 83.6,208 84.6,209.7 84.7,208.9 86,211.2 85.1,208.1 86.3,210.2 82.9,200.2 88,211.6 87.3,208.5 86.7,205.9 88,207.7 86.3,202.3 86.2,200.9 84.4,195.2 86.8,199.9 85.4,195.3 87.9,200.6 85.4,193.1 87.4,197 88.5,198.6 87.6,195.1 86.5,191.2 87.1,191.2 88.5,193.5 88.8,193 88.2,190.1 88,188.3 86.7,183.7 87.5,184.2 89.1,187 88.9,185.1 87.4,179.9 88,180.1 88.1,179 91.4,185.5 88.8,177.8 88.9,176.5 88.8,174.8 88.2,171.9 88.4,170.9 88.9,170.8 88.3,168 87.4,164.5 88.6,165.9 88.6,164.7 90,167 88.7,162.4 90.2,165.1 88.7,160.1 90.5,163.3 90.3,161.6 90,159.7 90.2,159 92.4,163.4 90.3,156.9 90.2,155.6 88.3,149.7 89.8,152.4 90.3,152.6 91,153.4 90.5,150.9 91.3,151.8 91.6,151.5 92.6,152.9 91.5,149 93,151.5 92.9,150 92.7,148.3 91.4,143.9 93.2,147.3 92.8,145 91.1,139.6 91.4,139.2 90.2,134.9 90.7,134.9 92.1,137.2 92.6,137.2 90.8,131.7 91.4,131.8 93.3,135.6 93.8,135.5 92.9,132.2 93.6,132.8 92.3,128.4 90.6,123 93.6,129.3 93.1,126.9 90.6,119.5 91.5,120.3 94.4,126.2 92.1,119 92.9,119.4 95.4,123.9 93.9,118.6 95.1,120.2 93.9,115.7 95,116.8 96,117.9 94.4,112.3 93.4,108.6 96.7,115.4 97.3,115.3 97.9,115.6 97,112 98.4,114.2 98.4,113 95.6,104.6 95.5,103 95.1,100.6 96,101.2 96.7,101.3 97.6,102.1 98.5,102.5 95.5,93.6 96.7,94.8 95.7,90.8 98.2,95.2 99.9,97.6 99,94 97.6,89.3 101.3,97 100.3,93.2 101.1,93.3 101.5,92.5 100.2,87.1 102.9,91.3 102.7,88.2 102.8,85.5 102.5,83.1 103.3,84.2 106,89.9 105.5,87.6 105.5,86.8 106.7,88.8 107.7,90.4 107.1,87.8 107.2,87.3 107.3,86.8 108.6,89.3 109.2,90.1 111.1,94 111.2,93.3 110.9,91.5 111.4,92.1 112.2,93.3 112.4,92.7 113.1,93.6 113,92.7 114.3,95.2 114.2,94.3 115.5,96.9 116.6,99.1 118.3,102.8 117.5,100.4 119.1,104 120.4,107 120.9,108.1 121.1,108.2 122,110.2 122.3,110.5 124.8,115.9 125.7,117.6 126,117.3 126.4,117.3 128.8,122.1 128.1,119 130.2,122.7 131.8,125.1 133.1,126.7 133.5,126.3 133.4,124.6 134.3,125.6 136.5,130 136.7,129.7 137.3,130.7 138.3,132.8 138.7,133.6 141.4,140.1 141.1,139.3 142.6,143.2 143,144 144.3,147.1 145,148.7 145.3,149 148.6,156.7 148.8,156.2 150.7,159.9 151.2,159.8 151.6,159.5 153.5,162.8 155.9,167.2 155.1,163.8 155.8,164.3 157.6,167.4 155.8,161.7 158.2,166.5 159.9,169.6 158.8,165.9 160.9,170.1 163.5,175.3 161.2,168.6 162.1,169.7 165.9,178.2 164.7,174.3 166.8,178.6 167.4,179 168,179.6 170,183.8 170.1,183.4 169.9,182.1 173,188.9 174.8,192.7 175.9,194.7 173.8,188.6 177.8,197.7 176.6,193.5 176.9,193.3 175.5,188.7 174.4,184.8 178.7,194.4 177.5,190.3 179.4,193.8 178.2,189.6 175.6,181.7 179.4,190.1 178.2,186.1 178.1,184.8 178.1,183.9 183.2,196 183.1,195 183.8,196.3 186.4,202.4 187.5,205.1 185.9,201 185.6,200.2 186.2,201.6 187.1,203.7 191.4,214 190.4,211.1 191.5,213.1 191.5,212.4 190.3,208.4 193.7,215.5 193.2,212.9 197.2,221.2 195.7,215.7 191.9,204.4 193.1,205.9 197.3,214.4 195.4,208.1 192.3,199.1 198.8,213.8 199,213.1 199.6,213.7 203.3,221.9 203.4,221.3 201.9,216.9 200.3,212.1 202.7,217.6 199.7,209.4 203.4,218 203.5,217.3 204.6,219.4 207,224.7 206.8,223.4 208.1,225.8 210.6,231 211.4,231.9 208.6,223.9 203.9,211.2 205.4,213.8 212.2,229.7 203.3,206.5 213,229.5 212.4,226.6 219.9,244 221.8,247.2 218.2,236.9 216.9,232.2 217.9,233.6 215.6,226.5 216.8,228.2 218.9,232.4 221.4,237.7 220.5,234.3 222.6,238.8 224.9,243.7 222,235.6 221.4,233.2 221.6,232.2 223.5,235.6 222.7,232 227.4,241.8 224.8,233.5 226.4,235.5 227.7,236.7 223.2,223.5 229.8,238 228.5,233.1 229.6,233.9 233.4,241.8 233.9,241.3 231.6,234 233.6,237.5 231.2,230.3 229.2,224.1 233.8,234.7 230.5,225.3 235.1,235.8 235.3,235 236.8,237.5 235.2,231.8 239.4,240.8 239.2,238.5 235.8,228.5 236.2,227.4 237.9,229.7 238.5,229 234.6,217.4 238.2,224.4 238.7,223.6 246.2,240.4 245.1,236 245.5,235.3 246.6,236.9 248.9,241.3 248.5,239.4 247.6,236 250.3,241.8 251.4,243.2 251.6,242.2 251.6,240.7 254.8,246.7 253.9,242.7 256.1,245.9 253.7,237.7 254,236.3 253.6,232.9 254.2,232.1 256.6,236 256.6,234 257.1,233.2 255.6,227.5 260.2,237.1 261.6,238.9 262.5,239.5 260.2,232.1 262.9,237.2 261.6,232.3 265.6,240.4 264.5,235.7 263,229.8 260.9,222.5 264.4,228.8 260.2,215.9 263.2,221.3 269.1,233.8 269,231.7 269,229.9 271.1,233.5 268.5,225.7 271.3,231.2 271.4,230.4 271.4,229.2 269.5,223.3 269.9,223.2 274,232.3 271.6,225 273.4,228.3 273.9,228 275.3,230 275.4,228.5 279.7,237.5 280.9,238.9 278.6,231.5 276.7,225.3 281.8,236.4 278.1,226 276.1,219.6 282,232.7 281.2,229.1 283.9,234.1 287.8,241.8 287.5,239.2 291.4,246.7 286.8,233.3 286.8,231.3 287.9,232.3 288,230.7 287.7,228.6 291.5,236.7 289.8,231.6 291.9,235.9 286.7,222.2 291.5,233.4 292,233.9 290.9,230.4 292.6,233.7 293.1,233.9 295.2,237.7 293,230.9 295.2,234.9 294.2,230.7 294.5,229.9 296.4,232.9 301,242.5 299.1,235.9 300,236.5 303,242 302.2,238.1 303.1,238.4 302.7,235.4 302.7,233.3 302.4,230.5 306.4,238.3 307.2,238.3 308.5,239.6 306.8,233.4 309.9,239.2 308.7,234.6 308.1,231.7 311.9,239.6 309.7,232.6 311,234.7 311.5,234.6 311.8,234.1 313.5,237.3 314,237.1 314.9,238.4 315.7,239 317.9,243.3 317,239.9 320.4,247.1 317.9,239.5 317.1,235.9 316.1,231.6 321.5,243.1 319.2,235.2 320.8,236.9 316.2,223.1 321.4,233.9 322.8,235.1 320.6,227.4 328.5,244.9 326.8,238.5 328.8,241.7 325.7,231.9 330.9,242.7 330.2,239.1 330.2,237.3 329.5,233.8 332.2,238.7 331,234.4 329.7,229.6 328.3,225 327.9,222.8 330.6,228.3 329.9,225.6 333.2,233.1 336.7,241 339.7,247.2 338.4,243.8 339.1,244.4 339.7,244.5 340.9,245.9 339.5,240.6 338.9,237.1 341.1,240.2 337.8,229.2 337.1,224.7 338.4,225.2 343,233.9 341.9,228.5 345.7,235.5 346.5,235 346.4,232.9 349.8,239.3 348.5,234.5 347.5,230.8 349,233.3 350.1,235.1 355.8,247.2 353.8,242.4 354.1,242.1 351.3,234 356.6,246.2 354.2,239.2 355.8,242.2 356.6,243.2 353.6,234.2 354.6,235.4 356.7,239 357.1,238.7 357.2,237.3 361.1,245.4 362.1,246.2 359.4,238.1 360.2,238.3 361.6,240.2 362.4,240.5 362.2,238 362.6,237.2 365.5,242.2 363.8,235.8 365.5,238.1 364.4,233.1 363.9,229.8 364,228.1 365.4,229.8 368,234.6 363.7,222.1 364.5,222.6 366.6,226.1 371.1,236.1 370.2,232.8 367.6,225.1 371.9,235 373,237 374,238.6 375.4,241.1 373.4,235.3 375.8,240.1 377.2,242.4 376.6,239.4 376.1,236.6 377.9,239.3 378.9,240 380.9,243 380.2,239.3 379.9,236.3 380.1,234.8 382.2,238 383.4,239 381.2,231.5 384.8,238.4 385.8,239 385.1,235.2 385.1,233.2 385.6,232.5 387.6,235.5 385.5,228.2 385.8,227 388.1,230.9 389.5,232.5 391.7,236.2 390.9,232.6 392.9,236.3 394.1,238.2 393.7,236.1 395.7,240.2 395.8,239.7 396.6,241 398.3,244.2 396.9,239.5 397.1,238.5 397.3,237.5 397.8,237 397.6,234.8 395.9,228.6 399.8,236.5 402.9,242.4 403.5,242 400.8,233.7 394.7,216.7 404,238 403.1,234.1 406.3,240.1 406.5,238.8 407,237.9 404.6,229.8 405.3,229.6 407.3,232.3 405.6,225.9 410.5,235.9 409.6,231.5 411.8,235.1 411.4,232.2 411.9,231.8 408.8,222.5 413.6,233.3 414.9,235.5 415.5,235.8 416.1,236.3 419.8,244.4 416.6,235.4 419.1,240.6 417.3,235.1 419.4,239 421.7,243.6 419.4,236.8 421.4,240.9 422.7,242.7 420.1,235.1 422.9,240.6 420,231.7 424.2,240.4 424.2,238.4 425.4,239.3 425.9,238.6 425.2,234.7 428.7,241.5 427.9,237.4 428.8,237.7 424,223.9 426.4,228.1 431.9,240.3 428.6,230.8 428.2,228.5 430.8,233.6 436.2,245.7 434.1,238.7 431.8,231.4 434.4,235.8 439.2,245.5 436.8,237 433.9,227.3 435.3,228.2 437.6,231.4 439.5,233.6 440.8,234.5 438.5,226.6 439.4,227 438.2,222.3 442.4,231.3 440.1,224.3 441.1,225.6 441.7,226.2 445.3,234.1 445.8,234.2 445.4,232.1 448,237.3 450.7,242.5 449.5,238 450.1,237.7 447.7,229.6 448.3,229.4 449.9,231.2 452,234.6 455.2,240.5 455,238.3 454.2,234.5 454.7,234.2 456,235.9 460.9,246.7 455.8,233.1 456.7,234.4 458.6,238.1 459.3,239 462.2,245.1 460.1,238.6 464.2,247.2 461.8,239.9 461.1,236.7 461.7,236.4 460.7,232.2 462.8,235.7 460.4,227.9 464.8,237 465,235.7 466.3,237.2 469.1,242.5 471.1,245.6 470.2,241.7 465.6,228.6 465.1,225.6 468.4,232 468.3,230.1 469.4,230.9 475.2,243.6 474.6,240.1 474.7,238.6 474,234.8 475.4,236.7 471.5,225.3 476.4,235.8 473.1,226 476.2,232.4 476.5,231.7 480.7,241 478.2,233.6 482.8,243.7 479.4,234.2 475.9,224.5 479.7,232.6 481,234.8 481.2,234.2 483.2,237.8 486.4,244.4 485.1,239.9 488.2,246.2 490.1,247.2 488.3,242.9 493.5,247.2 493.7,247.2 492.6,247.2 490.2,239 489.2,234.2 489.6,233 487.8,226.4 486.4,221.1 491.9,232.9 497.9,246.1 495.6,239.2 500,247.2 498.6,244.6 494.8,234.6 494.7,233.9 497.3,239.8 494.2,231.5 495.9,235 498.6,240.6 500.8,244.9 503.4,247.2 503.8,247.2 505.1,247.2 504.5,245.8 505.1,245 504.3,240.6 503.8,237.1 503.3,233.5 507.3,241.6 506.5,237.8 502.8,227.1 505.2,231.8 505.7,231.8 510.1,241.7 507,233.1 511.7,243.7 512.9,245.4 513.9,246.6 516.5,247.2 520.9,247.2 515.4,245.5 516.4,246 511.5,232 512.8,233.2 514.7,235.9 520.9,247.2 518.4,241.5 517.1,236.8 518.2,237.9 516.4,232.1 521.7,243.9 520.5,239.6 524.7,247.2 522,240.5 522.6,240.5 523.7,241.8 521.7,234.9 528.6,247.2 522.9,233.8 526.5,240.8 528.1,242.6 529.7,244.5 526.3,233.9 528.9,238.2 526.9,230.9 526.7,228.2 524.5,220.7 528.8,229.5 529,228 531.8,233 531.1,229.5 533.6,233.9 534.9,235.5 532.1,227.2 528.9,217.7 531.2,221.8 532.4,223.2 531.8,220.2 536.5,230.3 536.6,229.1 538.8,232.9 540.3,235.2 542.5,239 544,241 542.2,234.8 538,222.7 536.8,218.1 546.1,239.8 543.8,232.5 549,244.1 546.3,236 547,236.5 546.5,234.1 547.1,234.1 547.7,234.2 546.5,229.5 548.1,232 549,232.4 550.2,233.2 551.9,235.5 552.5,235.1 552.7,233.9 553.2,233.4 552.5,230.1 555.1,235.3 556.9,238.2 554.6,231.2 555.6,232.3 552.9,224 556.2,230.9 557.4,232.3 556.9,229.9 560.8,238.1 561.7,239 562.9,240.4 562,236.5 562.5,236 564.9,240.3 564.7,238.1 564.7,236.6 567.3,241.5 563.9,231.8 569.9,245.6 570.1,244.9 571.2,246.4 573.3,247.2 569.3,239.2 574.5,247.2 569.5,237.2 570,236.8 571.8,240 571.2,237.1 573.8,242 570.7,232.7 573.9,238.7 575.1,239.9 573.3,233.1 573.3,230.7 570.7,222 572.6,224.4 574.3,226.2 576.2,228.6 580.2,236.5 579.6,232.7 581.3,234.9 580.5,231 582,232.9 581.3,229.6 583.9,234.4 585.6,236.9 585.5,235.2 585.4,233.6 580.2,219.5 586.2,233.2 586.8,233.3 587.6,234.1 588.5,234.8 587,229.6 588.3,231.1 590.5,234.8 592.7,238.4 592.2,235.3 589.8,227.8 591.4,230 592.3,230.8 597.2,241.6 594.2,233 596.5,237.7 598.8,242.5 597,237.2 597.3,237.1 598.6,239.5 596.2,232.6 597.1,233.9 598.5,236 590.4,214.3 595.3,224.5 602.6,240.3 600.9,233.8 605.8,243.4 608.9,247.2 613.4,247.2 608.5,242.8 605.6,233.5 610.7,244.2 611.6,244.8 609.1,237.2 610.1,238.5 610.1,237.7 608.8,233.7 611.4,239.4 615.7,247.2 612.7,241.4 608.3,229.6 614.7,244.3 613.5,239.8 616.2,244.9 617.3,245.8 617.5,244.3 618.8,245.2 617.1,238.6 617.4,236.9 616.1,231.1 618.4,234.2 621.3,239.2 618,228.5 622.7,237.7 623.8,238.2 622.8,233.5 623,231.8 621,224.9 622.3,226.1 622.9,225.6 623.8,225.9 625.6,228.5 625.8,227.4 626.8,228.3 627.2,227.9 629.2,231.8 627.5,226.5 628.1,227.3 627.8,226 632.1,236.3 633,238.1 636.8,246.9 638.7,247.2 635,240.7 633.9,236.7 635.7,239.6 634.3,234.2 633.8,231 637.1,237.1 635.4,230.5 635,227.2 639.8,236.8 637.4,228.6 639.9,232.8 639.4,229.6 641.6,233.3 640.6,229.2 649.4,247.2 643.1,231.9 648.3,243.2 643.2,228.6 647.9,238.6 649.6,241.2 652.8,247.2 651.2,241.9 651.8,241.5 652.2,240.9 649.1,231.6 650.4,233.3 652.7,237.4 652.8,236.1 653.7,236.6 653.4,234 653,231.2 654.3,233.1 660.5,247 656.4,235.4 658.5,239.5"/>
<polyline stroke-dasharray="3.5 1.8" points="77,240.7 78.2,242.8 77.9,241.3 77.2,239 77.5,238.9 78.1,239.8 79.1,241.7 79.7,242.5 81.6,246.5 79.1,239.5 80,240.9 78.9,237.4 78,234.5 80.2,239.3 80.3,238.7 81.1,240.1 80.7,238.5 78.5,232.1 79.7,234.4 79.2,232.6 79.9,233.4 79.2,231 79,229.9 78.8,228.5 81.2,233.8 78,225.3 80.3,230.2 79.9,228.5 80.4,229.1 81.3,230.5 81.9,231.4 82.2,231.4 81.2,228.3 83.4,233.2 82.2,229.3 80.3,223.9 81.6,226.6 82.7,228.6 80.7,223.1 82.8,227.5 81.2,223 81.6,223.2 82.4,224.6 82.5,224.1 83,224.7 83.6,225.5 83.1,223.5 85.6,229 83.5,223 86.5,229.8 85.6,226.7 86.8,228.8 85.8,225.7 84.6,222 83.7,218.9 82.8,216.1 81.9,213.1 81.7,211.9 82.7,213.6 83.2,214.1 83.2,213.7 84.2,215.5 84.4,215.3 85.7,218 84.6,214.6 83.8,211.9 84.6,213.3 86.8,217.8 87,217.8 85.9,214.3 84.5,209.9 84.3,208.1 84,206.4 87.6,214.1 85.8,208.5 88.1,212.9 87.2,209.6 85.7,204.7 86.3,205.2 87.1,206 86.9,204.4 86.4,202.2 83.4,193.7 85.7,198.4 87.7,202.2 86.1,197.2 85,193.2 84.6,190.9 88.5,199.5 86,191.9 87.7,194.9 89.1,196.9 86.3,188.7 84.3,182.4 87.4,188.9 85.7,183.3 89.2,190.7 88.3,187.2 87.5,183.9 87.8,183.6 89.8,187.4 90.5,188 88.2,181.3 90.1,184.9 89.3,181.7 90.1,182.6 90.8,183.5 89.4,178.9 90.3,180.2 88.5,174.5 88.3,173 87.8,170.7 88.4,171.1 90.7,175.8 92.1,178.4 90.1,172.3 88.1,166.3 89,167.4 88.1,164.2 92.1,173.2 89.5,165.8 92.7,172.7 92.5,171.2 91.5,167.7 90.2,163.6 91.4,165.5 92.2,166.3 93.2,167.8 92.6,165.1 90.8,159.7 92.4,162.5 94.2,166 92.7,161.2 94.3,164.1 93.2,160.6 91.5,155.3 91.9,155.2 92.3,155.3 90.2,149.1 92,152.5 91,148.9 93.1,153 92.5,150.4 95,155.7 92.8,149.2 92.2,146.3 93.2,147.8 92,143.8 94.2,148.2 93.2,144.6 94.7,147.4 95.7,148.9 93.1,141.4 93.6,141.6 95.5,145.2 95,142.6 95.9,143.7 92.4,133.8 93.2,134.4 93.2,133.1 91.9,128.4 91.3,125.7 93,128.6 95.2,132.8 94.7,130.2 96,132.4 94.6,127.7 92.7,122.1 95.1,126.9 96.1,128.4 95.9,126.8 95.9,125.7 95.5,123.5 97.2,126.7 98,127.6 98.7,128 99.9,129.5 96.6,119.8 96.6,118.2 97.2,118.3 97.5,117.7 100,122.5 99.2,119.3 96.4,110.9 98.2,114.4 98.4,113.6 99,114.1 97.4,108.9 99.3,112.4 100.2,113.3 101.7,115.8 99,107.8 99.4,107.6 100.7,109.3 99.8,105.5 100.5,105.4 101,105 102,105.9 101.5,103.5 100.3,99.6 103.2,105.4 102.1,101.4 102,99.8 101.4,97 101.1,94.6 102.6,96.7 102.7,94.9 103.6,94.9 105.7,97.9 104.5,92.6 104.5,91.5 104.1,89.7 104.4,89.7 104.8,89.8 106.6,93.4 107.7,95.4 107.2,93 109.8,98.8 108.9,95.6 110.4,98.2 110.6,97.6 111.5,99 112.7,101.2 111.7,98 113.2,100.8 113.3,100.2 113.4,99.2 114,99.7 115.5,102.5 115.4,101.3 116.4,103.1 117.5,104.9 116.8,102.3 118.4,105.6 118.2,104.3 118.6,104.5 120.8,109.3 121.7,110.7 122.1,110.9 122.1,110.3 123.7,113.4 124.3,114.3 125.3,116.1 125.6,116 126.6,117.8 128,120.7 129,122.5 129.8,123.8 130.5,124.8 132.3,128.5 133.4,130.6 133.5,130 134.4,131.7 135.1,132.5 136.7,135.8 138.4,139.3 139.2,140.5 140.3,142.5 141.6,145.1 142.6,147.1 142.5,146.2 143,146.8 146.1,154.1 147.5,156.9 147.4,156.1 150,161.9 149.1,158.9 150.2,160.9 150.8,161.5 149.6,157.3 151.5,161.1 152.9,163.5 156.3,170.8 156.5,170.3 156.6,169.4 159,174.2 160.1,176.2 158.4,171 159.8,173.7 160.6,174.9 162.1,178 162.9,179.2 163.2,179.5 164.5,182.1 167.1,187.6 168.9,191.5 168,188.3 169.3,190.3 168.9,188.2 168.4,185.7 167,180.8 169.8,186.4 174.6,196.8 176.9,200.8 176.2,197.7 173.2,189 173.2,187.7 176.6,195.1 176.4,193.5 179.9,201.5 174.9,188.4 178.7,197.3 177,192.9 177.4,193.7 178.7,196.6 181,202.2 180.2,199.9 178,194.3 180.4,200 186.4,214.6 183.2,206 185.8,212 189.6,221 186.5,212.2 190.2,219.9 189.4,216.4 189.6,215.3 187,207.2 187.4,206.2 189,208.2 191.6,212.7 188.6,202.9 188.4,200.6 192.2,207.9 197.4,219.1 198.2,219.3 196.2,212.7 197.1,213.6 197.7,213.9 195.9,208.1 196.8,208.5 198.5,210.8 197.6,206.7 196.7,202.5 199.1,206.4 201.1,209 200.7,205.7 202.3,207.3 202.7,205.7 204.8,208.4 207.4,212.1 205.8,205.4 207,205.9 206.4,202.2 208.8,205.7 207.9,201.2 209.8,203.8 210.8,203.9 211,202.1 210,197.2 210.6,196.2 211.1,195 211.6,193.7 210.9,189.5 213.9,194.7 215.2,195.4 214.1,190.3 215.8,192.5 218.4,196.5 216.1,188.6 215.9,186 219.8,193.7 216.8,184.6 218.3,186.6 222.1,194.3 220.5,188.6 223.3,193.7 220,183.5 221.7,186.4 222.9,188.3 223.2,187.7 223.4,187 222.7,183.7 226.2,190.9 227.8,193.2 226.6,188.6 229.8,194.8 229.1,191.2 227.8,186.5 229.2,188.4 228.8,186.4 231.3,191.7 234.1,197.9 233.8,196.7 234.5,198.2 234.1,196.8 233.1,194.1 234.2,196.4 234.9,198 238.2,206 234.5,196.6 235.8,199.6 239.1,207.6 237.7,204 239.7,208.5 237.9,203.7 240.7,210.2 238.8,205.1 242.6,214 240.1,207.1 241.9,210.8 246.2,220.4 242.9,210.9 243,210.1 249.9,226 249.6,224 246.1,213.9 246.2,213 246.2,211.8 249.8,219.7 249.2,217.1 249.8,217.5 253.1,224.7 251.6,220.1 252.8,222 250.6,215.3 252.7,219.4 254.7,223.2 258.1,230.3 257.2,226.7 258.2,228 256.5,222.4 255.2,218.1 257.7,222.8 259.3,225.2 258.2,220.9 261.6,228.1 263,230.5 263.3,229.9 263,227.9 263.8,228.7 265.6,232.1 266,231.8 269.2,238.5 265.2,227.3 268.1,233.1 268.4,232.3 269.6,233.9 269.1,231.1 271.3,235 272.6,237 269.8,228.7 268.6,224.3 271.7,231.2 271.3,229.1 271.5,228.5 273.9,233.4 274.6,233.8 276.2,236.5 277.1,237.1 278.3,238.6 278.4,237.2 278.1,234.6 278.4,233.3 277.5,229.1 277.9,227.8 281.5,234.7 281,231.1 281.2,229.5 285.6,238.4 283.7,231.8 283.1,228.5 287.6,238.2 282.8,224.7 281.8,220.9 287.5,233.9 286.9,231 288.8,234.5 287.2,229.1 287.2,227.9 292.4,239.4 293.4,240.8 292,236.1 293.6,239 294.9,241.2 295,240.2 294.5,237.8 292.3,230.9 291.7,228 294.3,232.7 294.2,230.8 292.5,224.8 294.9,229 294.8,226.9 295.1,225.9 293.8,221 297.4,227.9 298.9,230 298.5,227 300.6,230.5 300.9,229.2 301.1,227.7 302.5,229.3 304.1,231.5 300.6,221.1 304.1,228.1 306.3,232 305.9,229.3 306.6,229.3 309.5,235.1 306.7,226.8 308.3,229.1 310.6,233.2 311.9,235 312.2,234.3 311.8,231.8 310.8,227.6 311.7,228.3 313.8,232 313.5,229.6 314.3,230.1 316.3,233.7 316.2,231.9 316.7,231.7 317.1,231.4 317.7,231.7 316,226 316.7,226.6 317.5,227.1 321,234.4 323.2,238.3 322.2,234.3 322.7,233.9 325.9,240.1 324.9,236 324,232.1 326.7,237.3 326.9,236.2 327.8,237 329.2,238.9 330.2,239.8 330.1,238.1 328.4,232.1 333.7,243.7 332.5,238.7 334.2,241.2 334.2,239.2 333.2,234.9 334.7,236.8 336.3,238.8 336.7,238 337.7,238.8 336.2,233.5 335.3,229.6 337.5,233.5 340,237.9 340.7,237.9 339.5,233 342.2,237.9 341.1,233.3 342.3,234.4 341.1,229.6 342.6,231.7 343,230.7 341.2,224.5 345.1,232.4 346.4,233.7 347.6,235 350,239 348.6,233.9 349.5,234.3 349.9,233.7 349.4,230.7 351.1,233.2 350.2,229.2 352,231.7 353.3,233.2 353.3,231.3 354.1,231.7 355.5,233.5 356.5,234.4 356.3,232.2 356.1,230.2 356.2,229 357.3,230.5 357.5,229.6 362.5,240.9 360.7,235.3 360.6,234.1 359.5,230.4 360.7,232.6 363.8,239.6 362.2,234.8 363.9,238.3 362.5,233.8 363.4,235.1 363.3,233.4 363.5,232.4 369.5,245.5 363,227.4 365,230.4 365.4,228.9 367.9,232.7 367.6,229.7 367.4,226.8 370.3,231.6 369.2,226.7 371.2,229.6 368,219.6 368.4,218.8 371.8,225.4 372.1,224.4 378.9,239.5 376.9,232.9 372.6,220.3 377.2,230 380.7,236.9 380.2,234.1 382.4,237.6 378.1,225.2 381.6,232.1 376.8,218.3 378.1,219.8 375.4,211.2 380.5,222.3 385.7,233.8 387.8,237.6 385.4,230.1 386.3,231.1 386.7,231 384.5,224.4 387,229.4 388,230.6 389.6,233 389.9,232 391.6,234.4 387,221.1 389.1,224.1 389.9,223.9 395,234.6 392.3,225.9 393.4,226.8 393.8,226.1 398.9,237.2 397.2,231.8 395,225.5 395.1,224.9 394.2,221.8 397.3,228.8 401.3,237.9 403.1,241.5 399.4,231.2 399.8,230.6 403.3,237.9 403.1,235.5 399.8,225 400.9,225.6 404.2,231.5 406.7,235.6 406.1,232.1 407.3,233 406.5,229.4 404.6,223 408.5,231.2 405.7,222.8 406.2,222.6 412.3,236.4 413.3,237.2 414.8,239.3 414.1,235.6 413.7,232.9 415,234.3 419.4,243.3 414.1,228.6 418.7,238.4 418.6,236.7 419.7,238.3 414.9,225.1 421,239.2 416.9,228.1 417.6,228.9 424.5,245.1 423.9,242.7 422,237 425.3,243.9 426.7,246 423.9,237.3 427.5,244.5 426.4,239.8 425.4,235.1 425.2,232.3 426.8,234.1 428.6,236.6 429.7,237.4 428.9,233.8 428.4,230.8 427.6,227.3 431.1,234.6 436.1,245.7 435.2,242.2 438.6,247.2 441.6,247.2 437.5,243.5 435.2,236.2 434.1,232 436.5,236 435.3,231.2 437.3,234.1 438,234 439.7,236.2 437.9,229.9 439.4,231.9 440.5,232.9 438.6,226.7 438.4,224.6 437.2,220 441,227.9 442.5,230 448.2,242.4 445,232.9 445.3,231.9 449.5,240.3 447.5,233.6 451.3,241.6 449.4,235.3 448.1,230.6 448.5,230.3 449.9,232.6 449,229.4 452,235.7 449.7,228.8 453.9,238.2 449.8,226.9 456.7,242.7 457.2,242.6 458.4,243.9 457.3,239.3 455.4,232.4 459,239.2 459,236.9 457.5,230.9 458.5,231.2 458.8,229.8 458.4,226.9 460.7,230.7 460.1,227.6 463.6,234.4 464.1,234.1 471.6,247.2 468.8,242.8 465.3,232.2 463.5,226 467.3,233.5 465.1,226 465.4,224.7 473.5,242.8 469.3,230 473.5,238.4 471.9,232.5 472.4,231.8 471.3,227.4 476.7,239.2 476,236.1 474.7,231.9 474.4,230.2 477.1,236 479,239.8 480.5,242.9 476.6,232.2 478.9,236.9 480.5,239.5 479.9,236.4 484.7,246.9 485.4,247.1 483.2,239.9 479,227.9 483.5,237.5 484,237.4 488.4,246.8 481.2,227.6 482.3,229.1 481.2,224.9 484.9,233 487,237 491.2,246.4 488.6,238.8 489.4,239.8 489.4,238.8 483.5,223 489.6,236.7 492.7,243.1 493.1,242.5 494.7,244.7 496.5,247.2 493.3,237.2 495.4,240.4 491.8,229.1 496,237.1 500.3,245.4 499.4,240.8 498.4,235.7 499.9,237.2 503.9,244.9 500.1,233.2 497.3,224.3 500.6,230.9 503.8,237.3 503.6,235.5 505.5,238.9 507.2,241.9 503.7,232.1 507.7,240.8 505.7,234.4 512.5,247.2 513,247.2 509.9,239.9 508.8,235.1 508.6,232.5 510,233.8 509,229.4 508.4,225.6 509.3,226 512.3,231.4 510.2,224.3 513.7,231.5 514.8,232.9 513.1,227.5 514.3,229.5 517.1,235.9 517.3,235.6 515.1,229.4 516.7,232.4 519.4,238 516.1,228.4 520.4,237.6 518.3,230.4 519,230.1 522.6,237 524.3,238.7 523.4,234.2 528.2,243.8 527.2,238.9 525.8,233.4 529.5,240.6 528.8,237.1 529,236 530.1,237.3 528,231 528.1,230.4 528.4,230.1 531.9,237.9 528.6,228.8 531.8,235.6 532.5,236.2 533.4,237.2 535.1,239.9 535.2,238.3 537.7,242.5 538,241.1 536,233.6 535.5,229.8 532.9,220.9 535.3,224.2 538.9,230.9 542.1,236.3 542.1,233.9 542.7,233.2 541.1,227.2 541.9,227.7 543.7,230.5 544.1,230.5 543.7,228.3 544.3,228.7 544.4,227.9 546.8,232.8 545.8,229.3 550.1,238.8 548.5,233.4 549.8,235 552.5,240.2 553.2,240.2 555.2,243.6 553.6,237.9 551.4,230.9 554.8,237.9 553.7,233.8 554.2,233.6 556.3,237.3 556.4,236.2 556.8,235.8 559.6,241.1 555.2,228.3 557.7,232.7 558.4,232.5 560.1,234.4 554.8,219.2 558.7,226.7 558.1,223 562.3,231.4 563.8,233 567.3,240 565.8,234.6 566.4,234.6 566,232.2 570.3,241.7 567,232.1 571,241 568.9,234.5 566.9,228.1 569.1,232.3 567.6,226.9 574.5,242.5 573,237.2 570.2,228.6 572.1,231.8 574.2,235.6 575.4,237 577.4,240.2 577.4,238.9 574.8,230.8 574.3,228.1 575.1,228.7 573.6,223.6 574.6,224.8 574.4,223.1 581.5,239.4 578.8,231.5 577.8,227.7 583.2,239.8 582,235.3 582,233.6 588.1,247 582.4,231 585.1,235.6 588.5,242 589,241.2 585.7,231.3 590.7,242 589.6,237.5 590,236.8 587,227.9 593.3,242.1 592.1,237.9 592.1,236.5 594.2,240.2 594.2,238.4 590.9,228.4 595.3,237.2 596.5,238.1 597.4,238.3 595.4,231.5 598.7,237.8 598.6,235.6 598.1,232.7 596.6,227.4 595,222.1 599.2,231.1 603.2,240 599.9,230.4 601.1,231.9 599.3,225.7 599.8,225.1 600.6,225.1 602.2,226.9 599.7,218.3 604,226.5 607.3,232.5 610.2,237.4 608.3,230.5 609.9,232.8 611,234.2 611.4,233.9 616.3,245.1 612.2,234.4 610.1,228.6 611.7,231.9 613.3,235.5 610.5,228 612.2,231.7 618.1,245.7 619,247.1 616.2,238.9 613.6,231.3 617.5,239.6 613.7,228.6 622.2,247.2 619,238.6 624.3,247.2 622.8,244.5 621.1,238.2 622.3,239.4 623.8,241.2 626.5,246.1 623.1,235.8 620.7,228 628.7,246 627.9,242.3 625.9,235.5 627.5,237.6 628.5,238.5 625.6,229.6 628,233.8 633,244.7 630.1,235.7 631.8,238.1 630.3,232.7 631.4,233.7 632.9,235.6 633.9,236.2 634.4,235.2 636.2,237.7 636.4,235.8 637.6,236.4 640.2,240.7 639.4,236.4 640.6,237.1 642.2,239.1 645.2,244.9 642.8,237.1 641.6,232.4 639.2,224.8 639.8,224.8 641.4,227.1 644.3,232.4 646.3,235.6 646.3,233.6 647.7,235.1 644.4,224.8 649.4,235.2 649.7,233.8 649.5,231.1 651.8,234.7 651.6,232.3 651.7,231 649.8,224.8 649.5,222.7 648.4,218.8 652.2,227.2 651.2,223.7 657.3,237.9 658.8,240.6 657.5,236.4 659.6,240.5 656,230.1"/>
<polyline stroke-dasharray="2.5 1.5" points="78.2,243.7 78.5,243.6 78.4,242.6 79.5,244.8 78.4,241.4 79.3,243.1 80.2,244.5 78.4,239.4 79,240.1 78.8,239 79.3,239.5 78.9,238 79.8,239.6 79.6,238.3 77.9,233.5 78.9,235.3 78,232.5 78.7,233.3 78,231 79.9,235.1 81.6,238.6 80.4,234.8 81,235.6 79,229.9 80.2,232.3 80.7,232.9 81.3,233.5 81,232.1 80.6,230.5 82,233.2 79.8,226.9 82.7,233.5 82,231.1 80.7,227.1 83.7,233.9 82.9,231 83.3,231.4 82,227.5 81,224.3 81.3,224.4 78.6,216.8 77.8,214.3 81.4,222.6 81.5,222.3 81.2,221 81.5,221.2 83,224.3 82.8,223.3 82.4,221.7 83.1,223 84,224.7 83.1,221.9 84.2,223.9 82.8,219.8 82.4,218.1 82.9,218.6 84.3,221.4 83.2,217.9 84.1,219.2 88.9,230.3 85,219.9 85.2,219.4 81.5,209.4 83.4,213.5 81.6,208.1 82.8,210.5 84.7,214.5 83.5,211 85.5,215.3 85.1,213.7 85.5,214.2 83.8,209.4 81.8,203.7 84,208.8 85,210.5 84.1,207.7 84.9,208.9 85.7,210.3 85.3,208.2 87.7,213.2 86.6,209.3 87.4,210.2 85,203.2 84.9,202.1 86.2,204.3 85.9,202.5 88.5,207.9 85,198.1 84.4,195.7 84.3,194.5 84.6,194.3 88,202 90.8,208.1 89.6,204.3 88.4,200.5 88.8,200.5 88.9,199.9 90.8,203.6 89.2,198.9 89.3,198.1 89.6,198 87.8,192.5 90.1,197.3 90.8,197.9 89,192.5 89.6,192.8 89.4,191.3 88.3,187.5 89.4,189.5 89.9,189.7 90.5,190.2 91.8,192.4 89.4,185.3 89.4,184.3 89.5,183.5 90.4,184.5 89.7,181.6 89.2,179 88.8,176.8 92.5,184.7 91.5,181 90.2,176.6 92.5,180.9 89.8,173.2 91.8,176.9 90.3,172 90,170.2 89.4,167.6 90,167.9 90.2,167.4 90.8,167.8 88.7,161.7 91.1,166.5 90.7,164.5 92.9,169.1 91,163.3 90.8,161.9 92.1,164.2 91.1,160.7 90.5,158.3 93.4,164.5 89.4,153.7 91.5,158 93.1,161 93,159.7 93.2,159.3 95.3,163.6 93,156.9 94.5,159.7 94.8,159.6 95.1,159.5 94.4,157 93.9,154.9 94.7,156 93.6,152.4 94.3,153.3 94.7,153.6 93.5,149.7 93.8,149.7 91.2,142.4 93.2,146.3 96.2,153 95.7,150.6 93.6,144.5 93.9,144.2 94.4,144.1 95.5,145.9 91.8,135.5 93.6,138.9 92.9,136.1 91.9,132.4 95.5,140.2 96.1,140.6 95.1,136.9 93.2,131.1 96.3,137.8 97.5,139.7 97.8,139.4 98,138.9 97.7,137.2 96.5,133.3 96.4,131.8 98.7,136.5 97.8,132.9 97.6,131.1 99.5,134.5 97.8,129.3 96.2,124.1 97.3,125.7 99.8,130.6 98.1,125.2 98.5,124.8 96.8,119.2 98.3,121.6 97.4,118.2 97.5,117.3 98.9,119.5 98.4,117.3 98.3,115.9 100.4,119.9 99.8,117.4 101.1,119.5 100.3,116.4 99.1,112.3 99.5,112.3 99.3,110.5 102.2,116.6 100.2,110.4 101.4,112.1 101.3,110.5 102.2,111.1 101,106.7 102.4,108.6 102.5,107.1 102.4,105.2 102.2,103.6 102.8,104 101.3,98.8 104.3,105 104.4,103.6 103.5,99.9 104.2,100 105.4,101.5 105.8,100.5 105.1,96.8 106.1,97.2 108.8,101.7 108,99 107.8,97.6 108.3,98 108.7,98 110.2,101 110.3,100.2 110.7,100.3 110.7,99.2 110.8,98.5 111.6,99.3 112.9,101.8 112.1,98.8 114.3,103.5 113.9,101.6 113.4,99.8 116,105.9 115.2,103.3 115.6,103.6 118.2,109.4 118.8,110.4 118.4,108.7 119.2,109.8 119.3,109.4 120.3,111.4 121.8,114.2 121.5,113 122.9,115.8 122.4,113.9 124.1,117.7 122.8,113.9 124.5,117.9 126,121.2 127,123.5 128.7,127.5 129.2,128.5 129,127.8 129.5,128.8 129.5,128.4 131.4,132.7 132.1,133.8 133.6,137 133,134.8 135.2,139.5 135.7,140 138.2,145.1 138.5,145 140.5,148.8 141.2,149.4 141.6,149.4 143,151.8 143.9,153 144.2,152.8 146.8,158.3 148.1,160.5 147.4,157.7 147.9,157.7 149.4,160.3 149.1,158.2 151.4,162.8 152.9,165.4 154.3,167.9 155.2,169.3 158.1,175.6 156.5,170.8 157.6,172.5 158.8,174.5 159.2,174.8 160.2,176.5 160.1,175.2 159.8,173.8 162.7,180.1 161.9,177.2 164.5,182.8 166.7,187.3 167.7,188.9 168.2,189.1 170.3,193.4 169.9,191.4 170.4,191.5 169.1,187.2 170.2,189.2 174.6,199.3 173,194.4 175.8,200.6 173.8,194.9 177.2,202.5 177.2,201.6 177.5,201.9 177.5,201 178.2,202.2 177.5,199.7 177.5,198.7 179.1,201.7 179.7,202.2 181.3,204.9 182.7,207.1 184.1,209 183.2,205.3 182.6,202.3 184,204.5 183.2,201.1 182.3,197.8 184.5,202 184.5,201.1 184.7,200.8 188.5,209.4 186.4,203.6 186,201.6 187.7,204.7 193,216.6 194.7,219.8 194.3,217.4 192.7,212.4 192.3,210.1 195.6,217.2 195.6,216 194.7,212.4 197.1,217.1 196.2,213.2 198.1,216.4 195.9,209 197,209.9 198.2,211 199.9,213.3 199.2,209.5 199.8,208.8 202.8,214.3 201.4,208.5 202.9,210.3 203.8,210.2 203.5,206.9 204.2,206.5 205.9,208.4 207.9,211.3 207.9,209.3 211.7,216.7 208.7,207.2 211.4,211.7 211.6,210 215.5,217.3 213.4,210 213.6,208.2 213.6,206 215.8,209.7 213.7,202.4 215.1,204 215.4,202.7 213.5,196 216.7,202 218.6,204.7 218.4,201.9 220.5,205.1 221.1,204.8 220.6,201.3 217.3,191 222.5,201.7 218,188.1 222,195.7 222.5,194.5 219.2,183.6 222.7,190.2 220.1,181.3 219.8,178.9 223.9,188.1 227.5,195.9 227.3,194.4 226.5,191.2 229.5,197.6 228.7,194.6 229.7,196.1 227.2,188.9 231,197.5 230.5,195.4 231.7,197.7 233.2,200.5 232.6,198.3 234.1,201 232.1,195.1 234.9,201 238.3,208.1 237.7,205.4 241.5,213.5 240.5,209.5 241.4,210.3 239.5,204.2 241.9,208.8 241.2,205.7 244.3,212.2 247.3,218.6 243,207.4 246.2,214.7 248,219 243.8,208.4 244.9,211.3 243.5,207.8 245.9,213.7 247.6,218 249,221.1 246.5,214.4 247.8,217.1 251.2,224.5 253.1,228.4 251.2,222.6 253.2,226.2 257.4,235.5 254.1,225.7 254.2,224.3 255.1,224.8 253.9,220.1 256.3,224.3 257.6,226 257.5,224.2 259,226.5 259,225.4 260.8,228.5 259.5,223.7 260.2,224.2 259.6,221.3 262.9,228.4 262.9,227 265.3,231.6 263.6,226 264,225.9 266.5,230.9 266.2,229 265.7,226.4 265,223.4 269.6,233.6 269.6,232.5 270,232.6 271,233.9 270.3,230.9 272.1,233.9 271.6,231.2 272.6,231.8 272.9,230.6 276,236 275.9,233.5 274.3,227.5 275.3,227.7 277.6,231.2 276.6,226.7 277.8,227.9 278.1,226.9 277.7,223.9 277,220.6 277.1,219.2 281,227.5 280.1,224.1 282.2,228 281.6,225.5 280.2,220.8 285.5,232.8 284.5,229.1 286.1,231.9 288.9,237.9 291.7,243.4 289.8,237.5 291.8,241.3 288.5,231.6 290,234 290.5,233.4 291,232.9 292.2,234.1 293.7,235.8 290.8,226.5 294.5,233.4 296.7,236.6 295.5,231.5 294.8,228 289.9,213.6 295.8,226.5 292,215.5 295.5,222.4 299.7,231.4 301.4,234.4 300.4,230.6 301,230.9 302.6,233.7 299.4,224.4 303.9,234.1 305.3,236.2 305.3,234.7 304.5,231.4 305.1,231.1 302.9,224.1 305.4,228.8 307.5,232.4 307.1,229.7 309.8,234.8 311.4,237 311.4,235.4 312.9,237.1 312.6,234.4 315.8,240.5 313.7,233.4 315.2,235.2 314.7,232.3 315.7,233 314.3,228.2 314.5,227.4 314.7,226.7 316.8,230.8 318.1,233.1 316.6,228.7 316,226.1 318.3,230.7 319.3,231.7 323,239.6 323.6,239.3 321.1,231.3 321,228.9 326,239.2 326.7,238.4 327.4,238 330.9,244.5 327,232.7 328,233.6 327.5,230.5 329.9,235.1 329,231.6 332.1,238.3 333,239.6 333.5,240 332,235.5 334.4,240.6 334.2,239.4 331.7,231.9 333.1,234.4 334.9,237.6 336.6,240.3 336.8,239.2 335.7,234.8 338.3,239.7 337.9,237 337.6,234.5 339.1,236.3 339.8,236 341.2,237.4 340.7,234 341.8,234.6 341.6,231.9 343.6,234.9 345.3,237.1 344.7,233.6 344.7,232.1 346.5,234.9 347.6,236.1 347.6,234.6 348.3,235.1 350.5,239 350.8,238.5 351.4,238.4 352.1,238.6 351.7,236.1 354.6,241.5 354.9,240.3 354.1,236.5 353.5,233 353.8,231.9 354.5,231.7 354.1,228.7 356.2,232.2 357.6,234 356.5,229.7 357.6,230.6 358.8,232.3 356.4,224.8 359.6,231.1 359.4,229.1 360.5,230.3 361,229.9 362.8,232.8 363.4,232.6 362.8,229.3 362.9,227.9 363.2,227 364.9,229.6 366.7,232.6 365.4,227.6 367.8,232.1 367,228.2 368,229.2 368.4,228.5 367.1,223.4 369.6,228.1 372.5,233.5 371.4,229 373.3,232.2 376.9,239.3 376.2,235.7 377.9,238 376.7,233 374.7,226.2 374.3,223.3 379.7,234.8 376.2,224.1 379.9,231.4 381.8,234.2 385.9,242.4 383.9,235.6 382.3,229.4 384.5,233 383.9,229.6 382.6,224.4 385.2,229.1 386,229 389,234.5 390.5,236.5 388.1,229 389.2,230.4 389.4,229.5 388.5,226.4 391.4,232.4 390,227.8 392.6,233.2 393.6,234.7 393.6,233.4 391.1,226.1 393.2,230.2 396.1,235.9 398.8,241.3 393.1,225.2 397.3,234 397.8,233.4 396.5,228.2 398.9,232.4 402.1,238.3 402.3,236.9 402.7,236.4 402.4,233.8 402,231.1 403.3,232.8 403.8,232.1 403.9,230.9 404.3,230.2 404.4,228.9 406.6,232.7 406.3,230.5 407.5,232 406.2,227.4 406.5,226.6 410.2,234.5 409.5,231.1 410.6,232.5 413.6,238.5 413.6,237.2 412.5,233.3 410.3,226.6 411.8,229.1 415.2,236.6 416.4,238.4 414.3,232.3 416.7,237.2 413.4,228.1 420.5,244.6 419.4,240.8 421.6,244.9 421.5,243.5 422.4,244.1 419.6,235.4 422.4,240.8 418,227.9 422.7,237.6 424.3,239.5 425.1,239.4 426,239.4 424.1,232.5 426.9,237.4 423.5,226.7 422.5,222.2 420.5,215.3 428.4,233.4 427.4,229.1 429.5,232.6 432.7,239.1 426.9,222.9 434,239.3 431.2,230.8 433.2,234.4 436.1,240.6 434.5,235.4 434.6,234.7 434.7,233.7 434.5,231.9 442.6,247.2 439.6,241.5 434.8,227.9 436.5,230.5 434.7,224.3 439.2,233.5 439.5,232.2 441.1,234.1 438.9,226.6 442.3,233 444.9,237.6 443.8,233.2 446.4,238.1 443.4,229.4 445.5,233.2 447.6,237.4 447.5,236.1 443.8,226 449,237.9 455.2,247.2 451.7,242.2 451.8,241.3 449.5,234.1 452,238.7 454.1,242.4 452,235.5 457.2,246.8 454.1,237.2 455.2,238.3 456.7,240.1 460.4,247.2 455.1,232.8 459.8,242.9 457.9,236.7 464.5,247.2 460.4,240 461.4,241.2 461.7,240.4 466.8,247.2 462.4,239.2 468.5,247.2 466,244.9 466.1,243.4 467.3,244.5 467,241.6 462.4,228.2 468.3,240.8 461.7,222.3 466.3,231.5 467.9,233 468,231 468.3,229.7 473.6,240.8 470.8,231.6 471.9,232.6 472.4,232 477,241.8 475.9,237.6 478.4,242.4 472.2,225.7 475.4,232.5 476.2,233.3 477.3,234.9 478.7,236.9 477.1,231.5 478.4,233.5 480.6,237.2 481.9,238.9 481.5,236 482.2,235.5 480.4,229 483.3,233.6 483.8,232.4 485.1,233.4 481.7,222.7 485.9,231 487.6,233.2 486.3,227.9 486.5,226.5 484.1,219.2 488,227.4 489.2,229.1 490,230 492.6,235.2 492,232.6 492.9,233.5 493.1,232.7 493.7,232.9 494,232.1 495.8,234.9 496.7,235.6 495.4,230.6 494.9,227.8 495.7,228 496.4,228.3 493.9,220.5 494.3,220.1 495.4,221.6 498.3,227.3 495.4,218.9 498.9,226.2 501.1,230.5 499.8,225.9 503,232.6 501.3,227 500.4,223.3 502.8,228 509,242 507.4,236.4 504.1,226.4 507.2,232.3 506.4,228.6 509.2,233.7 511.1,236.6 511.9,236.8 513.9,240.1 514.4,239.6 517.3,245 519.1,247.2 516.5,239.6 519.2,244.4 519.2,242.5 516,232.6 520,240.6 519.4,237.3 518.1,232.3 521.9,239.8 523.5,241.6 524.6,242.7 522.3,234.9 523,234.9 523.1,233.5 525.6,238.1 525.8,237.1 524.9,233.5 528.8,241.8 527.8,238 527,234.5 527.8,235.4 529.1,237.3 530.1,238.7 530.1,237.6 528.7,232.8 532.3,240.5 532.1,238.8 529.4,230.5 530.8,232.3 533,236.2 534.2,236.9 534.8,236.3 537.3,240.1 537.6,238.1 534.4,227.5 538.4,234.9 538,231.6 537.3,227.4 539,229.2 540.4,230.8 544.9,240.2 544.1,236.5 548.7,246.7 546.1,238.9 539.6,221.6 543.1,229.4 539.3,218.9 543.9,229.1 543,225.6 545.5,230.5 547.5,233.9 547.7,232.7 550.2,237.3 548.2,230.9 550.8,235.6 549.9,232 551.4,234.4 553.6,238.5 553,235.6 550.2,227.3 551,227.7 553.5,232.3 554.4,233.1 554.7,232.3 556,234.1 561.7,247 557.5,235.1 559.6,239 559.1,236.1 563.4,245.2 561.5,238.6 562.1,238.1 560,231 565.6,243 566.1,242.1 564.2,234.9 569,244.6 566,234.8 568.7,239.2 567,232.7 565,225.6 570.7,237.9 566.7,226.2 567.7,227.3 573.3,240 571.1,233.6 575.9,244.5 569.5,227.7 572.4,233.9 578.3,247.2 573.8,235.3 575.2,237.5 577.8,242.9 577.2,240 571.7,224.9 572.5,225 575.3,230.3 574,225.3 579.2,236.4 578.3,232.2 582.4,240.6 581.7,237.2 581.8,235.5 581.9,234.3 585,240.4 581.2,229.2 579.2,223 581,226 584.4,233.1 583.9,230.8 588.9,242.1 586.4,234.9 587.2,235.8 585.3,230.2 588.8,237.9 588.4,235.6 593.6,247.2 589.1,234.5 591.8,239.8 596.3,247.2 595.1,244.8 595.4,243.5 594,238.2 594.9,238.5 598.8,246 597.7,241.5 596.8,237.1 590,218.2 596.6,232.7 593.7,223.7 596.4,228.7 597,228.9 595.1,222.4 598.6,229.6 599.8,231.2 599.6,229.1 602.1,233.7 605.4,240.2 606.6,241.2 602.4,228.6 606.9,237.8 603.8,227.9 605.6,230.1 608.8,236.1 613.4,245.6 610.8,237.2 611.6,237.2 610.6,232.7 611.8,234.1 611.6,232.1 612.3,232.1 611.6,229 614.3,234.2 613.9,231.7 613.1,228.2 621.1,246.8 620.9,244.8 617.8,235.7 619.3,238.1 617.9,233.2 620.1,237.4 618.6,232.5 621.8,239.3 623.6,242.5 619.1,230.2 624.4,242 620.3,230.5 624.7,240 622.5,233.1 628.6,246.9 621.8,228.3 621.4,225.7 630,245.2 629.5,242.2 629.2,239.6 627.2,232.5 629.1,235.5 632.8,242.8 630.1,234.3 635,244.7 633.5,239.3 633.8,238.6 634.9,239.8 632,230.8 631.9,229 634.5,234 633.4,229.8 636,234.4 639.4,241.1 638.2,236.4 640.2,239.3 639.4,235.2 641.6,238.3 640.4,233.1 639.7,229 638.5,223.6 641.8,229.7 643.2,231 642.3,226.6 644.6,230.3 645.2,230.1 647.4,233.8 646.2,229.3 645.3,225.7 647.9,230.7 645.6,223.7 648.7,230.5 650,232.7 646.8,223.9 647.8,225.8 646.6,222.1 650.3,231 652.4,235.6 652.5,235.4 652.9,235.9 651,230.2 658.8,247.2 655.6,239.5 656.9,241.4 655.9,237.2"/>
</g>
</g>
<rect x="78.2" y="19.8" width="575.5" height="223.8" fill="none" stroke="#000" stroke-opacity=".52" stroke-width="1"/>
<path d="M150.1 243.6v-5M150.1 19.8v5M222.1 243.6v-5M222.1 19.8v5M294.0 243.6v-5M294.0 19.8v5M365.9 243.6v-5M365.9 19.8v5M437.9 243.6v-5M437.9 19.8v5M509.8 243.6v-5M509.8 19.8v5M581.8 243.6v-5M581.8 19.8v5M78.2 198.8h5M653.7 198.8h-5M78.2 154.1h5M653.7 154.1h-5M78.2 109.3h5M653.7 109.3h-5M78.2 64.6h5M653.7 64.6h-5" stroke="#000" stroke-opacity=".52" stroke-width="1" fill="none"/>
<text x="79.4" y="261.9" text-anchor="middle" class="t">0</text>
<text x="151.3" y="261.9" text-anchor="middle" class="t">1</text>
<text x="223.3" y="261.9" text-anchor="middle" class="t">2</text>
<text x="295.2" y="261.9" text-anchor="middle" class="t">3</text>
<text x="367.1" y="261.9" text-anchor="middle" class="t">4</text>
<text x="439.1" y="261.9" text-anchor="middle" class="t">5</text>
<text x="511.0" y="261.9" text-anchor="middle" class="t">6</text>
<text x="583.0" y="261.9" text-anchor="middle" class="t">7</text>
<text x="654.9" y="261.9" text-anchor="middle" class="t">8</text>
<text x="71.5" y="248.9" text-anchor="end" class="t">0</text>
<text x="71.5" y="204.1" text-anchor="end" class="t">250</text>
<text x="71.5" y="159.4" text-anchor="end" class="t">500</text>
<text x="71.5" y="114.6" text-anchor="end" class="t">750</text>
<text x="71.5" y="69.9" text-anchor="end" class="t">1000</text>
<text x="71.5" y="25.1" text-anchor="end" class="t">1250</text>
<text transform="translate(31.8 131.7) rotate(-90)" text-anchor="middle" class="l">Pull Force (kJ mol<tspan dy="-6.2" font-size="14">-1</tspan><tspan dy="6.2"> nm</tspan><tspan dy="-6.2" font-size="14">-1</tspan><tspan dy="6.2">)</tspan></text>
<text x="602" y="36.0" text-anchor="end" class="g">M8 Glycosylated</text>
<text x="602" y="49.6" text-anchor="end" class="g">Deglycosylated</text>
<path d="M608.5 32.1h32" stroke="#4169e1" stroke-width="1.7"/>
<path d="M608.5 45.7h32" stroke="#ffd700" stroke-width="1.7"/>
<text x="2.7" y="19.7" class="b">A</text>
</g>
<g id="panelB">
<clipPath id="cp1"><rect x="78.2" y="277.4" width="575.5" height="223.6"/></clipPath>
<g clip-path="url(#cp1)" fill="none" stroke-width="1.7" stroke-linejoin="round" stroke-linecap="butt">
<g stroke="#4169e1">
<polyline stroke-dasharray="5 2" points="78,500.5 79,497 77.7,487.5 77.5,481.1 78.2,476.8 77.7,469.4 77.6,463.1 78.9,460.2 78.5,453.5 78.2,448.3 79.8,447.6 80.4,444.5 80.5,440.1 80.3,434.9 79.6,428.4 78.7,421.7 80.7,421.8 81.3,418.8 81.3,413.9 81.6,412 82.1,410.8 81.1,406.1 82.2,406.5 83,406.1 83.4,404.8 82.7,400.8 82.1,397.1 81.9,394.4 82.8,394.3 83,392.6 83.5,391.6 83,387.9 81.6,382.3 82.9,383.3 83.2,381.7 83.8,380.7 83.4,377.6 82.8,374.2 83.6,375.2 84,375 82.9,371.1 83,370.1 84.8,373.3 83.5,369 84.1,369.3 83.7,367.2 83.9,366.4 84.9,367.7 85,366.6 85,365.1 85.4,364.9 85.6,363.9 85.5,362.4 83.2,355.4 83.6,355 84.3,355.5 86.3,359.2 87.2,360.2 85.2,354 84.9,352.1 86.3,354.3 87.6,356.5 87,354 88.1,355.6 88.3,354.8 87.6,352 88.1,352.1 86.1,345.9 88.6,351.1 88.7,350.6 87.5,347 87.4,345.8 88.7,348.2 90,350.7 89,347.5 89.1,346.9 89,345.8 90.6,348.8 88.8,343.5 90.7,347.4 88.8,341.8 88.6,340.3 91.9,347.7 89.7,341.3 89.4,339.7 89.3,338.7 89.9,339.3 90.8,340.6 90.7,339.5 89.2,334.8 89.7,335.2 90.8,336.9 89.8,333.4 89.9,332.7 91.2,334.8 92.3,336.7 91.6,333.8 92.3,334.7 91.9,332.6 93.3,335.1 92.4,331.8 92.8,331.8 92.4,329.9 92.2,328.7 93.6,331.1 93.8,330.8 93.3,328.5 92.6,325.6 94.2,328.2 94.2,327.1 94.1,325.7 94.7,326.2 95.3,326.6 94.4,323.6 93.4,320.2 95.5,324.5 94.2,320.7 94.9,321.6 94.5,320 96.1,323.4 95.1,320.3 96.6,323.5 97.1,323.9 96.7,322.3 95.5,318.6 96.2,319.3 96.7,319.5 97.7,321 97.8,320 97.5,318.2 98.8,320 99.3,319.9 98.9,317.7 99.7,318.3 99.3,316.2 99,314.3 99.3,313.7 100.4,315.4 99.8,312.8 101.2,315.5 100.6,313 101,313.1 100.9,311.8 100.8,310.6 101.2,310.3 102.5,312.5 102.1,310.1 102.5,309.9 102.6,308.9 102.2,306.7 103.4,308.4 103.4,307 104.3,308 105,308.6 103.9,304.5 103.8,303.2 103.7,301.7 105.6,305.2 106.1,305.3 108.4,310 108.6,309.2 106.9,303.5 109,307.3 109.7,307.4 109.4,305.1 110.7,306.6 108.3,299 112.8,308.5 112.4,305.7 110.3,298.6 113.1,304.1 114,304.7 116.6,309.5 114.7,304 114.8,303.4 116.5,306.6 117.3,307.7 119.4,311.8 117.8,306.7 117.3,304.4 119,307.2 117.9,303.3 119.1,304.9 120.5,307.2 120.3,305.6 121.5,307.5 121.7,306.7 121.2,304.8 121.9,305.6 122.5,306.4 121.8,304 123.7,308 124.2,308.3 124,307.1 126.5,312.4 127,312.6 128,314.2 128.7,315 129,314.8 129.1,314 129.1,313 131.3,317.6 130.6,314.8 132.3,318.2 132.7,318.3 132.3,316.5 133.7,319.2 135.5,322.6 135.8,322.3 137.6,325.8 137.1,323.6 138.7,326.6 139.6,327.8 140.3,328.4 141.7,331.5 141.6,331.2 142,331.8 142.3,332.5 143.4,335.1 144.4,337.3 147,343.6 147,343.4 148.1,345.8 150.1,350.5 148.6,346.2 150.9,351.5 152.2,354.5 153.6,357.5 154.4,359.2 155.2,361 155.4,360.9 157.1,364.9 157.3,365.1 158,366.6 157.8,365.7 159.8,369.9 161.9,374.2 163,376.4 163.7,377.4 165.1,380 166.6,382.9 166,380.6 167.6,383.8 165.4,377.6 169.2,386.3 169.7,386.8 170.7,388.5 170.2,386.2 169.8,384.3 170.7,385.5 172.5,389.1 174.7,393.8 174.7,392.9 175.1,392.9 175.6,393 176.5,394.4 176.9,394.5 178,396.5 179.8,400.1 180.3,400.6 180.6,400.9 180.2,399.4 181.1,400.8 182.9,404.8 184,407 184.6,407.9 184.8,408 186.4,411.6 187.5,414.1 187.3,413.1 187.5,413.5 188.1,414.9 189.3,417.9 189,417.1 191,422.2 188.1,415 190.1,420.1 189.2,417.9 189.6,419.1 191.2,423 191.8,424.5 193.6,428.6 194,429.6 194.5,430.5 195.7,433.1 197.3,436.7 199.2,441 198.5,438.8 197.9,436.7 201.1,444.3 199.9,440.6 200.9,442.6 202.7,446.6 202.8,446.1 202,443.5 204.3,448.5 203.4,445.3 204.4,447.1 204.8,447.1 202.7,441 206.7,450 205.3,445.7 207.8,451 210.1,455.6 209.7,453.9 210,453.8 210.8,454.8 211.2,455.3 212.3,457.6 211.8,456 212,456.3 211.8,456 214.1,461.7 214.8,463.5 217.2,469.6 218.2,472.2 216.5,468 217.4,469.9 218.4,471.9 219.4,473.9 219.4,473.4 220.9,475.7 222.9,478.5 222.9,475.8 224.5,477.2 221.6,467.5 223.3,469.7 223.9,468.8 222,462.5 222.9,463 225.6,468.5 227.3,471.3 224.3,462.8 229.4,474.2 231.8,478.6 230.1,472.7 236.8,486.9 233.9,477.2 234.5,475.6 230.9,463.4 233.7,466.8 236.3,469.5 238.3,470.9 233.5,455.4 236.8,460.1 235.8,454.2 236,451.8 238,453.9 235,443.8 240.1,454.3 237.5,446 239.7,449.4 238.4,444.2 241.9,451.7 240.8,448 239.3,443.6 238.5,440.4 242.2,448.7 242.9,449.3 243.5,450.1 246.8,457.3 242.7,446.4 247.6,457.9 244.9,450.7 245.9,452.8 249.7,461.9 254.1,472.5 250.8,464 249.4,459.9 252.6,467.4 250.6,461.5 252.2,464.7 251,460.4 250.7,458.4 249,452.9 252.9,461 256,467.6 252,456.3 254.7,462 256.2,464.6 257.9,468.1 259.7,472 260,472.3 261.3,475.1 262.3,477.3 263.2,479.3 265.2,484 262.5,477.2 264.1,480.9 264.5,481.5 267.3,487.9 265.5,482.1 266.6,483.8 266.9,483.2 270.4,490.7 268.3,484.2 271.4,490.8 271.9,490.6 271,486.9 270.4,483.7 272.3,487.1 272.4,486.1 273,486.4 275.5,491.9 276.8,494.1 273.7,485.5 275.1,488.3 277.6,493.5 276.8,490.4 279,494.8 281.2,498.7 283,501.5 279.1,490 278.5,485.9 278.6,483.7 278.9,481.7 281.7,486 283.5,487.9 285.7,491.1 284.5,485.9 282.5,478.8 283.6,479.7 283.9,479.1 283.9,478.1 286.8,484.3 287.4,484.8 291.8,495 290.6,490.9 289,485.9 289.8,486.5 291.3,488.6 288.8,480.5 291.4,484.8 298.4,500.2 296.2,492.4 295.5,488.8 291.3,476.1 293.4,479.4 296.4,485.2 297.6,486.7 298.8,488.4 294.2,475.8 295.9,479 298,483 299,484.5 301.4,489.5 304.4,495.8 302.6,490 301.4,485.6 302.2,486 302.2,484 304.7,488.1 305.5,488 307.1,490.1 307.1,488.2 308.7,490.8 311.2,495.3 313.3,499.2 310.4,490.6 312.3,493.8 308.3,482.5 308.5,481.5 316.7,500.2 310,481.5 311.1,482.3 312.1,482.4 314,484.7 314.1,482.6 317.1,487.3 314.4,478.1 315.3,477.6 316.1,476.7 320.1,484.1 319.9,481.1 315.5,468.1 312.6,459 313.5,459.7 317.4,467.9 320,473.2 325.4,485.5 323.9,480.8 325.7,484.4 326.3,485.1 329.3,491.6 330,492.2 329,488.7 329.2,488.2 332.2,494.5 329.9,487.8 329.4,485.4 330.3,486.7 330.2,485.2 327,476.1 331.9,486.6 331,483 334.9,491.2 334.9,489.4 330.2,476 325.8,463.4 332.9,479.2 333.4,478.8 338.2,488.7 338.6,487.7 338.9,486.5 338.8,484.5 336.1,475.9 337,476.3 340,482.3 338.1,476.3 340.2,480.1 344.3,489.1 342.9,484.3 344.3,486.7 343.4,483 346.2,488.8 346.5,488.3 346.6,487.2 348.3,490.2 348.1,488.5 347.4,485.6 344.1,476.1 346.5,480.7 348.9,485.2 351.9,491 352.3,490.1 351,484.9 350.1,480.7 352.1,483.8 354.4,487.4 353.6,483.3 354.9,484.5 354.5,481.6 357.9,488.4 361.6,496 356.4,481.3 362,493.3 355.9,476.2 361.3,488.1 361.8,487.5 363.2,489.2 365.2,492.6 365.5,491.6 362,481.2 365.1,487 364.3,483.2 364,480.7 365.1,481.6 365.5,481 363.3,473.8 370.6,490.5 372.9,494.8 370.4,487.4 368.9,482.5 368.7,481 367.2,476 370,481.9 376.4,496.6 374.7,490.8 375.5,491.7 377.8,495.9 379.8,499.3 377.9,493 380.1,496.8 374,479.9 376.2,483.6 380.5,492.5 384,499.5 382,492.8 380.7,487.8 381.7,488.8 382.4,489.1 383,489.2 386,495.5 388,498.8 390.4,503.3 384.7,487.5 383.4,482.5 384.6,483.4 386,484.7 387.9,486.9 394.1,500 393.6,496.3 391.4,488.3 391.9,487.3 391.6,484.6 391.3,481.8 393.1,484.7 394.5,486.6 391.8,478.4 397.8,492.3 395.3,484.8 394.3,481.5 398.6,491.5 399.1,492.1 398,488.7 398.5,489.1 394.7,479 398.9,488.5 396.2,480.8 401.7,493.1 400.7,489.5 401.3,489.8 401.1,488 405.4,497.1 402.3,487.8 406.5,496.3 402.8,484.8 406.5,491.8 407,490.8 407.4,489.5 411.2,496.8 410.2,492.3 410.3,490.6 412.3,493.9 409.4,485.1 409.1,482.9 412.5,490 414.7,494.2 412.7,487.7 416.6,496.1 415,490.9 411.4,480.5 414.9,487.6 420.4,499.7 415.9,486.9 419.1,493.2 423.5,502.4 422.2,497.4 416.5,481.2 421.6,492.2 419.1,484.2 424,494.5 417.4,476.1 413.4,464.3 422,483.7 423,484.2 430.7,501.5 428.3,493.5 425.7,485.2 426.5,485.1 427.7,486 429.9,489.7 431.7,492.3 431.7,490.5 432.9,491.5 436.7,499.1 434,490.6 428.4,474.6 431.2,479.4 434.5,485.4 433.7,481.4 433.7,479.4 436.9,485.4 439.8,490.9 439.8,489.5 436.5,479.8 441.8,491.6 439.4,484.3 443.3,492.5 441.3,486.1 445.2,493.9 441.7,483.5 443.8,486.9 444.9,487.9 447.7,493 444.7,484.1 446.4,486.6 443.9,479 446.6,484.4 446,481.6 446.8,482.8 444.8,477.1 442.1,469.6 448.4,484.6 451.3,491 454.7,498.2 451.3,488.5 450.6,485.1 450.6,483.2 451.6,483.5 451.5,481 450.1,475.1 449.4,471.2 451.7,474.8 455.6,482.7 454.3,477.8 458.5,486.8 458.9,486.5 460.3,488.9 463.8,496.6 462.8,493.2 465.4,498.6 464.9,496.1 465.1,495.4 466.3,496.8 465.1,492 463.7,486.7 466.4,491.3 469.3,496.4 470.2,496.7 470.7,495.9 473,499.8 475.5,504.1 471,491.2 470.7,489 473.4,494.2 472.7,491.3 476.1,498.8 474.1,492.8 472.2,487.4 472.8,488.3 473.3,488.7 475.9,494.5 477.3,497 473.9,487.4 482.6,504.6 480.4,500.8 475,486 475,484.1 479.9,494.6 474.4,479.1 482.5,497.3 477.5,482.9 478.3,482.9 479.7,485.1 483.4,492.6 485,495.3 484.5,492.9 487.9,500.3 486.2,495 489.4,502 489.5,501.1 490.8,502.9 488.7,496.3 494.2,504.6 490.4,496.8 487.3,486.8 496.2,504.6 491.5,492.6 491.7,490.4 494.4,494.5 494.8,492.8 497.1,495.9 496.1,491 500,498.6 495.8,486.2 497.4,488.1 501.6,496.8 499.2,488.8 504.2,499.4 501.6,491 498,480.2 502.4,489.4 507.5,500.4 503.6,488.7 505.9,492.8 507.5,495.2 504.7,486.7 502.3,479.1 502.6,478.2 510.3,495.9 510.7,495.6 504.2,478.4 507,484.1 506.4,481.6 510.2,490.2 509.9,488.4 508.4,483.7 512.4,492.4 509.6,484 502.6,465.2 509.4,480.4 512.9,487.2 513.1,485.5 512.1,481.1 519.1,496.5 516.3,487.4 517.3,487.8 518.7,489.2 513,473.2 514.6,475.2 519.9,486.6 520.2,485.8 519.6,482.7 517,474.7 519.3,479 521.5,483.3 522.4,484.3 527.7,496.2 518,470.7 517.3,467.6 523.9,482.5 525.7,485.6 525.1,482.6 527.5,486.9 529.4,490.2 529.8,489.7 530.9,491.1 526.8,479.4 527.3,479 531.7,488.5 534.2,492.9 536.8,497.8 535.8,493.6 537.9,496.9 541.9,504.6 536.8,490.6 537,488.9 539.5,493.4 543.6,501.5 538,485.9 540.3,489.6 540.6,488.7 543.2,493.4 543,490.9 542.3,487.2 542.8,486.6 544.3,488.4 547,493 545.9,488.4 546.3,487.5 545.6,483.7 548,487.7 546.8,482.9 549,486.7 547,480.2 548.5,482.7 551.8,489.6 553.7,493.5 552.2,488.8 554.4,493.6 553,489.5 553.5,490.1 556.1,496 558.6,501.6 560.5,504.6 557.2,496.2 560,501.5 558.5,496 556.9,490 558.7,492.2 557.5,486.8 565.4,504 563.2,495.8 562.7,492 565.8,497.3 565.3,493.9 567.9,498 568,496.2 568.9,496.2 562.6,478.6 565.6,484.3 562.2,474 566,481.9 567.7,484.6 574.6,500.3 568.9,484.6 570.7,487.4 569.2,482.1 574,492.6 573.8,490.5 571,482 572.4,484.2 575.1,489.6 571.8,480.2 575.9,489.6 572.2,479.6 576,488.2 576.9,489.6 579.6,495.6 581.2,498.6 581.4,498.4 578.4,489.8 578.4,488.4 580.3,491.7 579,486.7 580.8,489.2 583.8,494.7 584.5,494.3 580.9,483.2 580.1,479 585.2,489.6 583.5,483.5 583.8,482.4 587.8,490.5 590.8,496.2 590.2,492.8 591.3,493.6 590.2,489 591.8,490.9 590.6,486.1 593,490 594.3,491 592,483.5 596.3,492.4 597.1,492.8 598.7,495.7 599.7,497.1 598.4,493.3 599.1,494.5 599.6,495.4 600.2,496.4 600,495.7 599.3,493.5 601.7,498.8 604.5,504.6 601.9,497.4 599,488.8 600.8,491.6 599.4,486.1 602.1,491 606.6,500 606.2,497 607.1,497.2 608.3,497.9 606.8,491.9 609.8,497.4 611.3,499.3 611,496.7 612.4,498.4 611.1,493.4 610,489.2 612,492.6 613.6,495 614.4,495.1 617.2,500.2 615.5,494.2 615.6,492.5 618.2,496.8 620.5,500.6 621.1,499.9 619.5,494.2 615.8,483.2 616.1,482.3 619.3,488.7 619.3,487.1 621.1,490.1 621.5,489.3 620.6,485.4 624,492 624.4,491 622.4,483.7 624.6,486.8 626.7,489.4 626.8,487.1 629.9,492.4 630.9,492.5 629.7,487.1 632.1,491.1 631.3,487.4 632.5,489.1 633.9,491.4 633.4,489.2 631.8,484.4 634.3,490 633.5,487.4 633.7,487.3 633.2,485.1 639.2,498.9 635,487.1 637.8,492.3 637.3,489.5 635.3,482.9 638.1,488.1 641.1,494 637.1,482.5 639.5,486.8 646,501.7 641.6,489.4 641.7,488.5 647.5,502 644.6,493.8 645.1,494.3 646.2,496 640.8,481.6 645.2,491.7 647.7,496.9 648,496.4 650.9,502 650.2,498.8 652.9,503.5 653.6,503.3 653,499.6 651.6,493.7 649.4,485.9 654.7,496.7 652,487.9 657.2,498.5 653.9,488.3 655.4,490 660.2,500.1"/>
<polyline stroke-dasharray="13 1.5" points="78.5,501.8 78,494.8 78.4,489.7 78.5,484.1 79,479.6 78.8,473.2 77.9,465.2 77.5,458.3 78.3,454.9 79,453 79.9,451.7 79.6,447.1 80.9,446.8 80.8,442.8 80.4,438.2 81.1,436.1 81.6,433.8 83.5,434.8 81.1,425.1 80.8,420.8 80.3,415.8 80.4,412.8 81.3,412.9 82.4,413.6 81.6,409.4 81.7,407.6 81.9,405.8 81.9,403.9 82,401.8 81.7,399.1 81.2,395.6 82.5,396.8 81.2,391.4 80.8,388.1 82.3,389.6 84.4,392.8 85.4,393.1 84.2,388 84.3,386 83.9,382.9 83.9,380.8 84.4,379.8 83.7,376.4 84.2,376.4 84.4,375.7 85.6,377.6 85.6,376.4 84.2,371.9 84.2,370.9 85.1,371.9 85.7,372.3 85.8,371.4 85.6,369.7 86.6,371 87,370.9 85.4,365.7 87.8,370.4 86.7,366.7 85.1,361.5 86.3,363.2 86.4,362.2 87.3,363.3 88.1,364 87.5,361.4 87.3,359.7 87.4,358.9 87.7,358.5 87.9,357.7 87.8,356.3 88.7,357.2 88.2,354.7 87.5,351.5 88,351.6 88.8,352.2 88.3,349.9 89.2,351.3 88.4,348.6 89.5,350.5 89,348.4 88.7,346.8 89.2,347.3 90.3,349.3 89.8,347.6 90,347.2 90.8,348.6 91,348.4 90.4,346.1 91,346.7 90.5,344.5 91.6,346.4 91.6,345.3 90.9,342.6 91.3,342.6 90.4,339.4 91,339.8 90.7,337.7 91.5,338.8 89.7,333.2 92.2,338.4 91.4,335.4 91.8,335.3 92.7,336.8 92.7,336 93.4,336.8 92.2,333.1 92.7,333.5 92.1,331.3 92.5,331.2 93.6,333.1 92.9,330.5 94.2,332.8 94.6,332.6 93.4,328.8 94.5,330.8 95.2,331.7 95.3,330.8 94.5,327.9 96.4,331.7 94.9,327.1 93.5,322.6 94.6,324.6 95.7,326.3 95.5,325 95.6,324.5 96.3,325.2 96.4,324.6 98.2,328.2 96.9,324.2 98,326 99.1,328 97.9,324.2 98.1,324.1 97.5,321.8 99.5,325.8 99.2,324.1 99.2,323.2 98.3,319.8 100.1,323.2 99.8,321.4 99.6,319.9 100.2,320.6 99.4,317.9 100.5,319.8 101,320.3 101.2,319.9 100.9,318.4 100.4,316.2 100.2,314.8 101.5,317.2 103.4,321.1 102.9,318.9 102.2,316.3 103.9,319.6 103.9,318.7 104.2,318.7 104.5,318.5 104.3,317.1 104,315.3 103.5,313.2 104.7,315.1 107.3,320.6 107.7,320.3 107.3,318.2 106.5,315.1 106.7,314.1 106.5,312.2 107.8,313.9 109.1,315.7 110,316.2 109.1,312.7 110.5,314.6 111.3,315.3 110.3,311.6 112.6,316.1 112.6,314.7 111.8,311.5 113,313.1 112.5,310.5 114.3,313.6 114.5,312.9 115.1,313 116.2,314.4 115.5,311.4 115.5,309.9 116.9,312.2 118.3,314.5 118.8,314.2 119.2,313.9 118.6,311.2 121.1,316 121.5,315.6 121.2,313.6 121.9,313.8 122.7,314.5 123.5,315 124,314.9 124.6,314.9 124.5,314.3 124.8,314.5 125.1,314.8 126.8,318.8 128.3,322.2 128.8,322.9 128.6,322.1 129.5,324 129.8,324.4 129.9,324.3 130.8,326.2 131.9,328.3 132.2,328.6 131.4,326.2 132.5,328.5 135.1,334.4 135.6,335 136,335.4 137.9,339.6 137.4,338 138.2,339.2 139.2,341.1 139.5,341 139.8,341 142.2,346.2 141.6,344 143.5,347.9 143.8,348.1 144.5,349 145.3,350.4 145.8,351.3 146.8,353.3 148.7,357.7 149.5,359.6 149,357.9 150.9,362.3 151.9,364.5 153.2,367.3 154.5,370 155.5,371.7 157.3,375.4 158.7,378.2 159.1,378.3 159.4,378.1 159.9,378.4 161.4,381.3 161.7,381.2 162.1,381.5 163,383.1 164.6,386.9 165,387.8 165.2,388.3 166.5,391.7 167.7,394.9 168.7,397.7 171,403.6 171.1,404 170.6,402.6 172.1,405.9 172.6,406.8 173.7,408.7 173.7,407.7 174.9,409.7 175.2,409.2 175.7,409 176.4,409.3 178.1,412 178.5,411.4 178.9,411.2 179.3,411 180.1,412 180.4,411.7 181.5,413.8 183.2,417.6 182.3,414.9 183.3,417.1 185.1,421.5 185.3,421.9 185.2,421.5 185.9,423.1 187.2,426.2 187.9,427.6 188.1,427.7 190.6,433.4 190.5,432.6 189.6,429.9 191.5,433.8 192.8,436.4 191.8,433.4 191.2,431.3 194.6,438.9 194.8,438.7 195.4,439.5 197.9,445.1 196.8,441.8 198.6,445.8 199.6,447.8 199.9,447.9 199.5,446.1 199.2,444.6 200.5,447 201.1,447.4 201.8,447.8 202.5,448.6 202.6,447.6 203.5,448.8 203.1,446.6 205.2,451 206.1,452.4 206,451.4 206.5,451.9 207,452.8 208.3,455.6 208.8,456.5 211.6,463.4 211,461.9 212.8,466.3 212.2,464.9 212.5,465.6 212.9,466.5 214.2,469.2 213.9,468.1 213.2,465.7 213.7,466 214.4,466.7 216.7,471.5 218.3,474.1 215.6,466 216.2,465.6 219.3,471.4 218.3,466.9 219.9,467.7 223.1,472.5 222.1,466.9 222.2,464.5 224.7,468.1 222.5,460.4 225.6,466.3 223.7,460 225.5,463.4 223.5,457.1 223.8,457 228.1,466.8 228.1,465.8 227.6,463.8 230.2,469.1 229.5,466.3 229.8,465.5 227.8,458.9 231.4,466.1 229.3,459.1 231.9,463.8 233.9,466.9 234.1,465.6 239.2,476.3 239.1,474.1 234.8,461.7 238.2,468.3 240,470.8 242.5,475.1 239.3,465 239.8,463.9 239.9,461.4 236.8,451.2 238.7,453 241.2,456.6 241.3,454 246.3,464.5 241,449.4 238.9,442.6 241.9,448.8 241.9,447.5 246.6,458.1 244.4,451.7 245.9,454.9 251.1,467.2 250.5,465.1 248.2,458.7 252.3,468.5 252.9,469.4 249.6,460.7 252.7,467.6 254.4,470.7 254.3,469.4 252.9,464.8 257.1,473.7 257.8,474.1 252.9,460.6 259.2,475 261.9,480.6 254.7,461.5 259.2,471.9 257.8,467.6 257.3,465.7 256.4,462.8 260.3,472 263.3,478.9 267.1,487.9 261.9,474.4 264.3,479.7 265.5,481.9 265.3,480.4 265.1,478.4 265.6,478.4 266.9,479.9 266.6,477.5 268.2,479.8 270.7,484.3 272.2,486.2 272,484.1 272.8,484.1 271.9,480 272.7,479.7 272,475.9 275.5,482.5 279.3,490.2 276.2,480.9 276.7,480.9 276.9,480.2 273.7,471.3 278.1,481.4 281.9,490.1 280.7,486.1 281.7,487.8 280.1,482.9 279.7,480.9 282.8,487.5 285.2,492.2 285,490.6 286.1,492 286.9,492.8 287.2,492.1 281.7,477 288.9,493.2 290.1,494.4 292.1,497.5 290.8,492.7 292.5,495.1 289.2,485.3 289.3,483.8 290.6,485.1 292.5,488 290.9,482.2 295.8,492.6 294.3,487 297.8,494.1 296,488.1 297.9,491.5 297.6,489.4 296.6,486.1 298.4,489.6 297.1,485.4 301.1,494.4 300.7,492.4 299.4,488.3 299,486.3 300.1,488.1 305.6,500.9 305.5,499.6 307.6,504 303.2,491.9 303,490.2 304.7,492.8 303.7,488.9 305.1,490.7 306.4,491.8 306.9,491 311.1,499.1 309.6,492.7 311.7,495.6 309,486.3 315.4,499.8 313.7,493.4 315,494.5 313.1,487.7 312.2,484 319.8,501.4 321.9,504.6 315.9,489.2 323,504.6 320.1,497.3 322.5,502.3 321.5,498.4 328.4,504.6 320.7,493.9 323.3,499.1 321.1,492.2 325.2,500.8 325.1,499 325.7,498.9 327.8,502.3 326.8,498.3 325.6,493.8 325,490.6 325.4,490.1 328.8,497.2 328.4,494.7 330.8,499.4 325.9,485.7 329.7,493.6 332.5,499 332.3,496.8 332.5,495.6 332.3,493.2 338.6,504.6 339.4,504.6 337.5,500.1 331.2,482.5 334.5,488.3 338.6,496.3 334.5,483.9 338.7,492.1 336.5,484.3 335.4,479.5 338.8,486 339.2,484.9 340.6,486.6 342.8,490.5 344.8,493.7 342.1,485.6 345.3,492.1 349,499.9 348.8,498.2 345,487.6 346.6,490.6 346.7,489.8 348.6,493.3 351.3,498.6 349.3,492.2 349.3,490.9 347,483.5 350.9,491.6 353.2,495.7 355.2,498.8 355,496.3 356,496.6 354.7,491.5 357.2,495.5 354.9,487.9 357.6,492.6 358.7,493.5 357.7,489.1 355.7,482.4 359.8,490.9 358,484.8 355.9,477.9 363.9,496 365.1,497.3 366.2,498.6 366.1,497 364.6,491.8 366,494 365.7,491.9 364.9,488.7 363.8,484.5 365.6,487.8 363.4,481.1 366.6,487.6 367.2,487.8 367.4,487 368.9,489.2 370.2,490.8 367.8,483 368.2,482.3 371.5,488.5 370.9,484.8 369.9,480.2 374.2,488.9 376.4,492.5 377.1,492.2 377.5,491.7 378.3,492.1 379.4,493.5 380.9,495.9 380.1,493.1 381.1,494.6 381.2,494.2 382.1,495.7 383.5,498.6 382.1,494.1 384.6,499.4 384.2,497.2 384.2,495.7 386.2,498.9 384.8,493.6 386,494.6 384.9,489.8 389.5,499 390,497.8 389.1,492.8 388.3,488.3 390.4,490.7 388,482.2 391.3,488 393.1,490.4 384.4,466.8 390.5,480.2 389.3,475.7 389.7,475.3 393.1,482.8 394.8,486 394.4,484 397.4,490.7 399.9,496 400.2,495.9 398.6,491.1 402.1,498.7 401,494.8 398.6,487.8 400.1,490.2 400.1,488.5 401.7,490.7 403.9,494.5 405.4,496.2 407.4,499.4 411.9,504.6 406.2,492.9 411.1,503.4 408.5,495.1 412,502.3 415.4,504.6 411.7,498 409.7,491.5 413.2,498.5 416.3,504.5 413.3,495.5 410.1,486.1 412,489.3 414.2,493.3 416.7,497.9 413.4,488.4 416.3,494 419.4,500.1 415,487.5 420.8,500.1 418.9,493.5 416.5,485.6 415.7,481.3 414.6,476.5 414.6,474.2 415.5,474.3 419.8,482.6 427.2,498.6 423.6,487.5 423.8,485.8 420.9,476.6 426.1,487.5 426,485.2 426.9,485.8 427.6,485.8 429.5,488.9 434.2,499 433.4,495.7 433.1,493.6 428.9,481.9 435.2,496.3 429.7,481.1 429.6,479.7 430.1,479.5 434,488.1 431.3,480 435,487.8 434.6,485.5 433.7,481.7 438.4,491.8 437.7,488.2 440.9,494.6 439.6,489.5 437.9,483.5 444.9,498.8 442.7,491.7 447.1,500.7 446.6,497.6 445.6,493.5 443,485.2 445.1,488.6 446.9,490.9 448.4,492.7 444.2,480.5 448.5,489.1 444.8,478.1 445.1,477.1 446.1,477.7 444.1,470.9 450.1,484.3 447.2,475.3 451.2,484 451.9,484.3 453.8,487.9 456.3,492.9 452.1,481.6 456.3,491 451.6,478.4 457.8,493.2 456.9,490 458.9,493.9 463.5,504.4 459.9,494.1 460.8,495.2 459.8,491.3 466.5,504.6 467.2,504.6 466.1,502.3 463.5,494.1 465.7,497.3 466,495.9 467.4,497.1 468.9,498.5 466.7,491 467.5,490.7 466.4,486.1 463.9,478.1 465.8,481 466.3,480.6 469.9,488 471.9,491.4 470.9,487.2 474.9,495.4 473.1,489.3 473,487.6 475.8,493.2 471.6,481.3 476.6,492.1 476.2,489.7 475.1,485.6 476.5,487.6 479.5,493.6 480,493.6 479.8,491.8 481.9,495.7 482.2,495.4 481.4,492.1 479.4,485.9 481.6,489.9 487,501.6 486.9,499.4 490,504.6 488.5,498.7 487.1,493 483.3,481.1 481.8,475.2 486.3,484.4 493,499.4 489.7,489.4 487.1,481.3 488.9,484.4 488.5,482 485.9,474.1 492.2,488.6 491.3,484.8 493.6,489 493.9,488.2 497.3,495 496.7,491.8 499.7,497.8 496.4,487.6 496.2,485.3 493.1,475.8 498.2,487 499.6,488.8 500.5,489.5 501.4,490.4 500.4,486.7 503.9,494.1 503.1,490.5 504.8,493.3 507.7,498.6 506,492.5 509.2,498.8 506.2,489.2 508.5,493 507.1,487.7 513.7,502.1 507.9,485.9 508.8,486.5 511.6,491.8 510,486.4 509.9,484.7 514.8,495.4 513.6,491.3 517.2,498.9 514.7,491.4 520.6,504.6 517.3,495.4 517.9,495.6 515.1,487.2 517.6,492.1 519.4,495.3 513.2,478.6 520.4,495.2 521.3,496.1 518.5,487.9 524.6,501.6 521.9,493.5 521.9,492 522.3,491.4 520.5,485.2 523.6,491.4 525,493.1 525.3,492.1 527.8,496.5 527.8,494.7 528.2,493.7 528.7,492.8 525,481.9 528.4,488.4 527.9,485.5 531.5,492.9 533.3,496 532.9,493.5 533.7,494.4 537.2,501.8 534.8,494.5 529.3,479.7 529.1,477.9 537.4,497.2 535,489.7 534.6,487.3 537.3,492.6 538.5,494.1 538.3,492.1 539.9,494.2 542.5,498.9 543.6,499.7 544.4,499.8 543,494.3 544.2,495.5 540.7,484.9 545.5,494.9 541.2,482.2 544.5,488.2 546,489.9 547.8,492.5 548,491.1 550.7,496.3 550.1,493.3 550.6,493.1 550.1,490.3 552.8,495.8 553.5,495.8 553.7,494.7 557,501.3 553.2,489.7 553.5,488.1 554.7,488.7 556.3,489.9 557.8,491 559.2,491.8 558.8,488.1 558.5,485.1 559.8,486 560.1,484.6 561.6,486.8 563.8,491.1 564,490.4 565.8,494 564.8,490.8 564.7,489.8 567,494.7 566.4,492.1 567.8,494.6 566.3,489.5 568.5,493.5 570,495.7 570,494.3 573.3,500.8 567.9,485.7 570.1,489.5 569.5,486.4 575.4,499.4 572.1,489.8 576.3,498.7 579.4,504.6 577.9,499.7 582.1,504.6 581.1,504.6 579.9,500.7 582.3,504.6 575.2,486.3 583.1,504.3 578.2,490.6 572.9,475.7 578.1,486.9 579.3,488.2 579.1,485.9 581.8,490.9 582.8,491.5 583.8,492.1 582.8,487.9 583.6,488.2 581.2,480.5 584.2,486.3 584.2,484.7 586,487.4 586.6,487.3 587.4,487.9 591.7,497 594.1,501.4 594.6,500.9 596.6,504.4 593.5,495 588.6,481.1 587.3,476.3 584,466.5 586.9,471.9 589.2,476.1 598.1,496.5 599,497.2 599,495.5 596.3,487 601.3,497.7 602,497.6 601.2,493.5 605.4,501.8 603.7,495.3 601.2,487 602.5,488.4 597,473.1 600.6,480.6 606.4,493.8 607,494 604.3,486.1 605.2,487.3 606.9,490.3 606,487 607.4,489.4 611.6,498.5 610.2,493.8 608.2,487.3 610.2,490.9 608.7,485.7 611.1,490.1 614.6,497.3 615.2,497.4 617.7,502 616,496.3 617.1,497.7 615.9,493.3 615.1,490.1 618.1,496.1 617.1,491.9 621.3,500.8 620.1,495.8 618.6,490.2 621.6,495.6 621.1,492.3 618.2,483 614.6,472.3 619.2,481.8 618.1,477.2 626.2,496 625.3,492.3 626.7,494.6 626.5,493.2 622.4,482.2 625.6,489.3 623.5,483.1 630.5,499.7 630.8,499.2 631.9,500.9 631.5,498.4 633,500.5 630.7,492.8 625.7,478.1 626.3,477.3 630.5,485.4 632.5,487.8 638.5,500.3 640.1,501.7 638.2,494.6 640,496.9 638.6,491.4 640.5,494 639.4,489.6 641.7,493.7 640.9,489.8 645.7,500.2 640.5,485.6 642.7,489.4 646,496 643,486.8 645.5,491.5 648.2,496.7 642.4,480.8 647.5,491.9 647.6,490.8 650,495.2 650.3,494.6 647.9,487 650.7,492.6 653.2,497.4 649.8,487.6 654,496.7 649.5,484.4 653.8,493.7 656.9,499.8 660.1,504.6 663.1,504.6 660.3,503.3 659,497.8"/>
<polyline stroke-dasharray="6 1.8 1.8 1.8" points="79.8,504.6 79.8,500.5 78.5,492.9 79.7,491.3 79.5,486.3 79.3,481.3 79.5,477.3 79.4,472.8 79.1,467.5 78.8,462.4 79,458.3 78.2,452.3 78.1,448.4 79.4,447.9 79.8,445.4 80.6,443.6 81.4,441.9 80.9,437 81.7,435.3 81.1,430.2 80.6,425.3 81.3,423.4 81.4,420.1 79.6,411.9 81.6,414.2 83.2,416.4 82.1,411.6 81.9,409.3 82.2,408.1 81.4,404.1 80.6,400.1 80.4,397.6 81.6,398.8 81.2,395.6 81.3,394 82.2,394.1 81.9,391.4 81.2,387.8 82.7,389.5 83.4,389.2 84.3,389.7 83.7,386.1 84.7,386.6 84.8,384.9 84.9,383.2 85.2,382 84.5,378.5 84.3,376.2 85.3,377.4 86,378.1 85.4,375.5 84.2,371.4 85.4,373.2 86.9,375.8 83.8,366.9 83.9,366.2 84.8,367.3 84.5,365.3 85.4,366.4 86.7,368.4 87.2,368.4 86.7,366.2 86.8,365.2 86.6,363.5 86,360.9 88.1,364.9 87.8,362.8 87,359.5 88.3,361.7 89.7,363.8 88.5,359.6 87.9,356.6 88.1,355.8 88.8,356.2 87.4,351.5 88,351.7 88.1,350.5 89.4,352.6 88.9,350.5 90.4,353.3 89.8,350.7 89.5,348.8 89.3,347.6 91,350.7 90.8,349.1 90.6,347.6 90.3,346 91.5,347.9 90.4,344 92.3,347.7 91.8,345.5 91,342.3 90.4,339.8 91.8,342.1 92.6,343 92,340.2 92.7,340.7 93.7,341.8 94.3,342.1 94.9,342.3 94.9,340.8 95.2,340.3 92.9,333.3 93.8,334.3 94.2,334 94.9,334.4 95.5,334.4 96,334.3 95.6,332.2 96.1,332.4 97.8,335.5 98.9,336.9 96.8,330.4 99.2,334.9 97.3,328.8 98.3,329.6 97.3,325.4 99.4,328.5 98.9,325.1 99.5,324.3 98.1,318.6 100.1,321.2 102.5,325 101.2,319.5 101.1,317.2 101.3,315.5 102.7,316.9 102.9,315.9 104.8,319.8 104.2,317.8 103.9,316.4 104.7,317.8 106.7,322 106.2,320 105.8,318.3 107.7,322.3 110.2,327.8 108.7,323.6 109.3,324.7 109.5,324.5 109.8,324.5 111.3,327.7 112.6,330.2 113,330.7 113.3,330.9 112.9,329.6 115.6,336 114.9,333.8 114.5,332.3 115.1,332.9 116.8,336 117.3,336.1 118,336.7 118.6,336.6 119.4,337.2 120.5,338.2 121.4,338.6 121.7,337.4 120.9,333.5 122.4,335.1 123.2,334.9 124.4,335.9 125.6,337.1 126.1,336.4 126.4,335.4 127.6,336.5 128,335.8 129.6,338.4 132,343 132.4,343.1 132.2,341.7 134.8,347.2 135.7,348.2 136.8,350 138.6,353.3 139.2,353.5 140,354 138.9,349.7 142.3,356.5 144.4,360.1 144.7,359.1 146.1,361 146.5,360.1 147.7,361.4 148.7,362 149.3,361.9 151.3,365.2 152.3,366.5 152,364.4 153.5,367 153.7,366.4 155.8,370.3 157.3,373 158.2,374.2 158.4,374.2 158.6,374 160.3,377.8 161.1,379.4 161.5,379.7 162,380.8 163.4,384 164,385 164.9,386.7 164.7,385.6 165.8,387.8 167.2,390.3 168.1,391.8 169.6,394.7 170.5,396.2 170.9,396.6 171.6,397.6 171.8,397.6 173,399.8 173.9,401.7 173.8,401 175.2,404.1 175,403.3 174.7,402.5 176.7,407.3 177.8,409.6 178.3,410.6 178.7,411.1 180.4,414.7 180.5,414.2 180.8,414.3 181.9,416.2 183.7,420.2 182.7,417.2 183.2,417.9 183.1,417.3 184.7,421 186.7,425.8 187.1,426.5 188.8,430.6 188.7,430.2 189.4,431.7 188.9,430.1 191.2,435.3 190,432 194,441.2 194.3,441.3 195.6,444.1 196.5,445.6 195.5,442.6 195,440.6 196.5,443.5 195.7,440.6 194.7,437.3 197.8,444 197.4,442.2 199.5,446.6 199.8,446.4 199.4,444.5 200.6,446.8 201.8,449 202,448.6 199.8,442.2 202.4,447.8 203.5,449.7 203.7,449 204.8,450.9 204.9,450.2 207.2,455.1 206.3,452.3 207.6,454.9 210.6,462 208.9,457.4 209.2,458 210.8,461.9 209.5,458.8 211.1,462.8 209.3,458.6 213.1,468.1 214.2,470.8 214.4,471.1 213.9,469.5 215.4,472.7 217.5,476.9 218.4,478.2 218.5,477.1 217.7,473.9 217.9,472.3 218.6,471.7 220.9,475.1 219.7,469.9 221.5,472.2 219.6,465.3 222.9,471.2 223,469.4 222.5,466.2 223.7,467 224.5,467.1 224.8,466.3 225.3,465.6 227.4,469.3 226.4,465.1 227.4,466.3 226.4,462.4 225.8,459.3 225.6,457.4 226.1,457.2 230.4,466.6 231.8,468.7 229.7,462 232.1,466.6 233.6,468.4 235,470.3 231.1,458.7 235.7,468.3 236.9,469.5 238.7,472.2 237.2,466.7 240.6,473.4 239.2,468.1 239.2,466.1 243.5,474.9 239.4,463 240.4,463.5 245.9,475.5 245,471.6 242.5,464.1 242.9,463.8 246.2,470.6 243.7,462.9 244.6,463.5 249.9,475.1 244.9,461.2 247.3,465.5 250.9,472.9 250.7,470.9 248.9,464.7 250.2,466.6 251.7,468.8 252.2,468.7 254,472 253.7,470.3 251.4,463.8 253.6,468.6 253.5,467.8 254,468.5 252.4,464.2 257.9,477.4 255.5,470.9 258.3,477.3 259.8,480.1 264.4,490.4 261.4,481.5 261.7,480.7 262.3,480.1 264.6,483.9 267.4,488.7 266.2,483.8 264.8,478.2 265.5,478.1 266.2,477.9 269.5,484.6 267.4,478 266.8,475.3 267.3,475.1 270.7,482.6 268.9,476.9 270.9,480.9 270.5,478.8 272.3,482.4 272,480.3 274.8,486.2 275.5,486.6 277,489.1 276.8,487.6 275.7,483.5 278.1,488.3 276.9,484.2 280.7,492.4 278,484.7 272.6,470.1 275.8,476.8 272.4,467 280.8,487 281.3,487.1 281.7,487.1 284.3,492.8 282.1,486.5 283.4,488.9 284,489.6 286.9,495.8 285.2,490.8 284.1,487 289.1,498.2 289.6,498 293.6,504.6 293,502.9 294.2,503.9 288.3,487.1 291,491.5 292.2,492.3 289.6,483.7 293,490.1 294.8,492.5 295.7,492.8 293.6,485.7 293.6,484.1 294.2,484 300.8,498.9 296.9,487.6 291.5,472.7 299,490.1 300.8,492.9 302.6,495.7 300.4,488.5 303,493.2 304.7,495.9 308,502.3 303.7,490 305.3,492.2 304,487.3 305.5,489.2 308.3,494.2 304.7,483.3 308.9,491.4 309.5,490.8 309.9,489.4 312.2,492.5 311.4,488.1 311.5,486 311.2,482.9 307.7,472.1 313.9,485.5 310.8,475.9 315.1,485 315.3,483.9 312.5,475.6 317.9,488 316.3,482.8 320.9,493 316.8,481.7 322.4,494.6 321.1,489.9 319.5,484.8 320.9,487 319.3,481.8 321.6,486.5 318.2,476.9 320.1,480.6 320.8,481.5 323.7,487.5 321.8,481.8 321.8,480.3 322.4,480.3 324.1,482.9 325.4,484.2 330.8,495.5 331.3,494.6 328,484.2 331.6,490.9 332.5,491 333.7,492 333.7,490.2 334.5,490.5 337.6,496.6 334.6,487.3 335.5,488 336.2,488.1 337.7,490.4 338.2,489.9 342.5,498.8 341.9,495.3 338.7,485.6 343,494.3 342.5,491.3 341,485.6 341.2,484.4 341.2,482.9 342.6,485.1 343.7,486.8 343.3,484.7 346.4,491.3 347.2,492.5 347.7,492.6 346.1,487.4 347,488.3 350,494.1 351.5,495.7 351.4,493.4 351.8,491.8 352.3,490.6 351.2,485.3 352.4,485.9 354.7,488.9 354.2,485.4 354.4,483.7 352.4,476.4 357.6,487.5 354.2,477.4 356.1,480.8 357.2,482.5 358.9,485.8 357.5,481.8 362.1,492.5 358.2,482.1 356.7,477.6 362.8,492 365.2,497 370,504.6 367.6,500.8 366.6,497 361.8,483.6 370.6,504.1 368.3,496.7 367.7,493.6 369.4,495.8 372.8,502.3 368.7,490.1 370.5,492.4 372.4,495.1 371.1,490.2 373.7,494.7 373.3,492.1 372,487 370.6,481.9 377.4,497.2 373.6,486.3 371.7,480.1 373.9,484 379,495.2 376.5,487.7 378.3,490.8 377.8,488.3 376.8,484.6 381.9,496.1 380.7,491.6 382.2,494.2 386.4,503.3 384,496 382.6,491.2 385.4,496.8 384.6,493.5 385.2,493.6 383.7,488.2 386.6,493.7 391.6,504.1 389.3,496.4 389,493.6 388.9,491.3 391.1,494.8 390.1,490.2 390.7,489.6 389.6,484.8 392.5,490.2 391.4,485.6 395.7,494.6 392.4,484.5 391.9,481.7 396.4,491.4 393.3,482.2 391.2,475.5 393.1,478.6 395.5,482.8 400.5,493.8 403.5,499.5 399.4,487.8 404.1,498 404.7,498.1 408.9,504.6 408,503.3 403,489.4 406.5,496.7 406.6,495.1 407.4,495.3 404.5,486.3 409,495.3 411.6,499.8 404.2,479.3 406.8,483.7 408.5,486.1 411.5,491.8 409,484.2 414.5,496.6 412.2,489.8 411.8,487.9 419.8,504.6 414.7,493.9 413.3,489.7 415.7,494.9 416,495 419.6,502.8 419,500.3 418.9,498.5 424.2,504.6 420.9,499.7 420.5,496.5 418.1,488.6 421.6,495 423.2,497 429,504.6 425.5,499 428,503.2 422.6,488 422.6,485.9 426.7,494.2 428.1,495.7 424,483.3 427.4,489.5 427.6,487.9 431.3,494.8 430.6,490.8 432.1,492.1 431.4,488 433.6,491.1 435,492.5 433.7,487.3 434.4,487.5 436.4,491.1 436.8,490.6 436.9,489.6 435.5,484.9 437,487.4 436,484 437.1,485.5 439.9,491.5 438.8,487.8 438.5,486.1 440.6,490.5 442.6,494.4 442.8,493.8 444.1,496 439.5,483.4 439.5,482.2 441.1,484.9 443.2,488.8 444,489.3 449.4,501.2 451.5,504.5 452.4,504.6 448.7,493.6 450.8,496.7 452.1,498 451.9,495.8 451.6,493.1 452.2,493.2 453.2,494.1 452.6,491.1 451.4,486.8 454.4,493.1 456.8,497.7 458.7,500.8 454.6,489.1 455.9,490.7 457.1,491.9 457.2,490 458.4,490.8 459.8,491.7 460.1,489.7 460.8,488.6 462,489 461.8,486.2 461.5,483 464.7,489 465.6,489.3 465.5,487.5 468.5,493.7 470.2,496.9 468.3,491.5 469.4,493.6 469.2,492.7 469.1,492.1 471.2,497.1 475.9,504.6 473.9,503 472.5,498.9 475.2,504.6 473.2,499 475.5,503.8 475.6,502.7 477.5,504.6 478.7,504.6 473.7,494.1 473.5,492.3 479.7,504.6 478.5,501.4 476.2,493.7 476.6,492.8 479.7,498.4 480.5,498.3 482.2,500.2 484,502.7 481.9,495.1 484.8,500.2 488.2,504.6 486.6,500.5 486.2,497.4 485.7,494.1 484.6,489.3 489.2,498.5 490.2,498.8 491.3,499.2 488.7,490.2 492.4,496.7 492.9,495.4 492.8,492.5 490.8,485 494.4,491.4 492.7,484.7 495.6,489.8 495.3,487 496.8,489.2 494.9,483.2 493.1,477.6 493.2,476.9 495.4,481.6 497,485 503.2,499.7 500.7,492.4 499.4,487.9 505,500.4 500.9,488.6 502.9,491.6 499.7,481.9 503.8,490.2 505.1,491.6 502.8,484 507.3,493.5 505.6,487.4 510,496.6 511,497.5 506.8,485.4 511.2,494.8 512,495.3 510.6,490.3 512.5,493.6 513.6,494.5 509.3,482.1 514.3,492.7 512.8,487.1 514.2,488.6 519,498.7 516.1,489.6 514.8,484.8 521.6,499.8 521,496.8 522.2,498.4 519.4,490.1 521.5,493.9 522.7,495.7 525.2,500.5 526,501.3 525.2,498 524,493.6 524.5,493.3 525.2,493.7 527.3,497.3 530.9,504.6 525.1,488.8 531.1,502.2 523.6,482.1 527.4,490 529.6,493.7 530.6,494.5 529.6,490.3 527.1,482.4 531.6,492 529.1,484.1 536.3,500.5 534.9,495.3 537.1,499.4 537.5,498.9 539.9,503.6 537.9,497.1 534,486.1 535.5,488.3 535.1,485.6 541.4,499.7 537.4,488 538.2,488.2 542.3,496.3 540.8,490.4 542.9,493.5 542.4,490 544.2,492.1 545.4,492.9 548.2,497.7 548.7,497.1 550,498.5 544.4,482.8 547,487.6 551.4,497 547.1,485 547.2,483.8 549.8,488.8 548.3,483.7 547.8,481.1 548,480.2 547.1,476.4 553,489.6 554.1,490.8 552.9,486.4 554,487.6 557.3,494.1 555.9,489 556.3,488.4 558.9,493.1 559.4,492.4 557.5,485.7 557,482.5 561.9,492.6 564,495.8 561.5,487.6 561,484.2 564.3,490.3 564.9,489.6 565.9,489.8 565.4,486.5 566.7,487.5 566.6,485.1 564.9,479 569.4,488.4 568,483.5 565.4,475.8 567.9,480.9 563.7,469.6 567.8,479 569.6,482.9 570.7,485 574.5,494.1 574.2,492.8 575.4,495.1 577.1,498.2 577.5,498 578.1,498.1 576.4,492 578.4,494.9 579.7,495.9 579.5,493.2 583.3,500.3 578.5,485.9 581.2,490.7 578.3,481.6 580.8,485.9 579.6,481.4 577.7,475.3 581.6,483.7 584.5,489.8 588,497.4 583.2,484.5 586.8,492.1 588.4,494.8 588.1,492.5 587.6,489.5 587.6,487.8 591.2,494.8 591.3,493.1 592.3,493.9 593.6,495.2 594.5,495.7 591.9,487.7 592.7,488.4 592.9,487.7 590.8,481.7 595.7,492.8 594.9,490.2 597.7,496 594.7,487.6 598.6,496.4 599.8,498 599.7,496.2 603.6,504.1 602.5,499.7 604.4,502.6 605,502.2 601.6,491.8 607,503.1 606.1,498.7 606.8,498.5 604.7,491.1 606.9,494.6 610.3,501.1 607.2,491.5 610.4,497.7 606.6,486.3 613,500.3 613.2,498.8 609.9,488.4 611.3,489.8 610.8,486.5 614.8,494.5 614.3,491.2 619.4,501.7 622,504.6 617.2,492.8 621.1,501 617.7,491.2 619.9,495.3 619.4,492.8 618.8,490.1 622.9,499.2 618.5,487.1 621.3,493 626.2,504.2 624.1,497.5 622.6,492.7 620.1,485 622.2,488.7 627.4,500.1 629.9,504.5 626.8,495.2 628.8,498.5 629.2,497.9 627.4,491.8 628.5,493.1 626.2,486.1 628.3,490 630.4,493.8 627.3,484.6 628.6,486.5 634.3,499 637.1,504.4 633.9,494.6 635.5,496.8 639.4,504.6 634.2,489.7 637,494.5 636.8,492.2 636.8,490.5 637.7,491.2 637.3,488.5 639.3,491.9 636.2,482.5 633.7,474.5 638.5,484.9 636.1,477.3 638.1,480.5 641.9,488.1 645.2,494.5 645.2,492.5 646.5,493.4 643,482.5 650.1,497.9 646.7,487.1 642.2,473.7 639.2,463.9 645,476 642.8,468.2 654.7,495.8 650,482 652.7,486.8 654.2,488.7 655.5,490.3 655,487.4 656,488.4 657,489.5 655,483.7 658.9,492.4 660.1,494.8 660.1,494.2"/>
<polyline stroke-dasharray="3.5 1.8" points="77.8,500 77.9,496.1 78.2,492.4 78.6,489.1 78,483.4 77.8,478.5 78.1,474.9 78.9,472.6 78.6,467.6 78.7,463.6 80.8,464.3 80.6,460.2 81.3,459 82.2,458 80.6,451.1 80.7,448.1 81.4,446.7 82,445.1 81.2,440.1 79.7,433.3 80.1,431.3 80.3,428.7 79.9,424.8 81,424.4 81.6,422.8 82.5,421.9 80.7,414.5 81.7,415.2 80.8,411.2 83,414.8 81.4,409 82.5,409.8 83.3,409.9 83.4,408.3 82.8,405 82.9,403.5 82.4,400.4 82.6,399.2 83.6,399.8 84,399.1 85.3,400.5 84.4,396.7 84,393.9 84,392.1 84.7,392 84.4,389.7 85.2,389.8 83.6,384 83.9,383.2 84.4,382.5 84.7,381.7 85.6,382.2 85.6,380.5 87,382.8 85.4,377.7 87.4,381.8 87.4,380.6 86.1,376.3 84.9,372.3 87.3,377.3 86.1,373 86.8,373.8 87.9,375.5 87.5,373.4 87.9,373.3 87.2,370.5 88.5,372.6 87.6,369.3 88.2,369.4 88.7,369.5 86.7,363.4 88.1,365.6 87,361.7 88.6,364.4 89.9,366.4 90.1,365.8 88.6,361.1 88,358.5 88.9,359.8 89,359.1 88.6,357.2 89.6,358.8 89,356.2 89.7,356.9 90.7,358.1 90.5,356.6 90.2,354.5 91.8,357.2 90.2,352.1 91.4,354.1 91.2,352.7 91.9,353.4 90.8,349.8 91.7,351 92.8,352.7 93.5,353.3 91.4,347 90.9,344.9 92,346.6 91.7,345 91.9,344.7 91.9,343.7 92.5,344.2 94.1,347.2 94.2,346.4 94.3,345.7 94.8,345.8 94.6,344.3 94.1,342 94.3,341.4 94.3,340.2 94.6,339.6 94.1,337.3 95.1,338.5 95.3,337.8 95.3,336.6 95.4,335.7 97.6,340.2 97.3,338.2 97.4,337.4 98.2,338.4 97.4,335.2 97.5,334.1 98.4,335.1 97.9,332.7 98.8,333.5 98.3,330.9 97.6,327.8 99,330 98.2,326.5 98,324.5 98.9,325.3 98.5,322.7 99.8,324.7 100.3,324.2 100.9,324.2 99.9,320.2 100.6,320.4 103.3,325.4 102,320.7 103.9,323.6 102.5,318.5 101.9,315.5 103.6,318.1 103.5,316.2 103.8,315.2 103.8,314.3 105.3,316.7 106.9,319.5 105.5,314.7 105.9,314.5 106.9,315.5 106.7,313.3 109.1,317.7 108.8,315.3 108,311.3 109.4,313 109.3,311.3 109.3,310.4 111.2,314 111.9,314.7 112.4,315 112.8,315.2 114.3,318.1 115,319 114.4,316.5 114.9,317 117.3,321.9 115.5,316.6 115.1,314.4 117.9,320.2 118.7,321.1 118,318.4 118.9,319.3 120.4,322 121.8,324.2 120.4,319.5 122.4,323.1 123.5,324.5 124.1,325 123.8,322.9 125.5,326.1 125.7,325.3 126.1,325.5 127.6,328.1 126.8,325.1 127.3,325.3 128.5,327.5 129.5,328.7 131.1,331.7 130.8,329.9 131.8,331.3 131.5,329.3 132.9,331.7 133.1,331.2 135.1,335.1 135.1,334.1 136.8,337.2 136.7,336 138,337.9 137.7,336.3 139.5,339.9 140,340.2 141.9,344.4 142.9,346.2 144,348.4 145.3,350.9 146.9,354.4 146.9,353.9 148.2,356.3 147.9,354.7 149.1,356.8 151,360.5 153.4,365.7 152.9,363.4 154.5,366.4 154.1,364.3 154.7,365.1 157,369.9 158.2,372.2 158.6,372.8 160.1,376.3 159.3,374 160.5,377 161,377.9 161.5,379.1 162.6,381.4 163.9,384.3 164.4,385 166.6,389.7 168.1,392.5 168.1,391.6 169.5,394.1 168.8,391.2 170.9,395.5 170.9,394.6 171.5,395.1 171.9,395.1 174.1,399.8 173.6,397.7 174.7,399.7 175.2,400.1 176.4,402.2 176.2,401 177.5,403.3 179.5,407.6 178.3,403.7 179.5,406.1 180.3,407.1 181.4,409.2 180.1,405.1 182.7,410.7 184.5,414.6 184.6,414.2 184.9,414.5 186.1,417.2 186.2,417.2 186.9,418.7 187,418.9 187.7,420.8 188.6,423 190.1,426.7 189.3,424.6 190.4,427.1 191,428.6 191.6,429.9 192.8,432.4 192.9,432.1 194.7,436 195.3,436.6 195,435.1 195.1,434.5 196.5,437.4 197.5,439.1 199,442.3 200.2,444.7 201.6,447.6 203.1,450.5 203,449.5 202.1,446.6 203.8,449.8 205.6,453.4 204.5,449.8 202.4,443.7 204.2,447.5 203.5,444.9 205.7,449.6 205,447.2 206.4,450.1 204.5,444.4 205.2,445.5 207.2,449.8 207.9,451.1 209.6,454.8 211,458.1 213.7,464.4 214.4,465.8 213,462.2 214.2,464.8 214.1,464.4 215,466.5 217.1,471.8 216.9,471.2 218.2,474.2 217.1,471.4 217.9,472.9 220.4,478.6 219,474.4 219.4,474.5 219.3,473.3 221.8,478.2 222.7,479.1 222.8,477.1 224.2,478.2 223.7,474.5 224,473.1 224.6,472.6 226.5,475.5 226.3,473.3 231.9,485.8 228.8,477 229.8,478.3 229.2,476 234.8,489.1 231.4,479.9 229.8,474.8 229.7,473.6 226.9,465.7 232.8,478.9 234.3,481 238.1,488.8 240.1,491.8 231.6,468.6 234.1,472.5 235,472.6 233.6,466.8 238.4,476.6 233.7,462.6 237.8,470.3 238.4,469.3 238.9,468 239.9,468.3 241,468.5 241.7,468 239.9,461.4 240,459.5 242.3,463.1 240.8,457.8 245.8,468.4 246.8,469.6 246.9,468.5 251.3,478.3 250.3,474.7 249.8,472.6 251,474.5 253.5,479.8 249.8,470.1 250.4,471.1 250.7,471.4 252.3,474.7 254.5,479.4 257.4,485.6 253.6,475.1 257,482.2 252.3,469.3 258.6,483.3 258,479.9 257.7,477.5 256.5,472.7 260.4,480.6 262,482.8 262.2,481.7 264.3,485.5 263,481 265.1,485.3 265.2,484.6 265.5,484.4 265.6,483.9 263.4,477.4 266.8,484.8 263.6,475.7 270.3,491 268.6,485.5 268.9,485 268,481.6 273.1,492.8 274,493.9 267.6,477.2 267.2,475.2 268.8,478.6 276.2,496.3 272.8,487.4 273.7,488.9 273.3,487.4 276.2,494 275.6,491.6 277.1,494.2 278.4,496.5 280.6,500.6 277.1,490.5 278.5,492.1 280.6,495.4 280.6,493.3 281.2,493 284.3,499.1 283.3,495 284.4,496.4 280.3,484.8 282.5,488.8 280.2,481.6 288.2,499.9 288.3,498.4 286.8,492.7 288.5,495 292.7,503.5 286.7,486.4 291.8,497 291.3,493.6 296,503.4 295.9,501.1 299.1,504.6 300.1,504.6 295.8,496.2 292.3,486.3 292.1,484.7 295.7,492.5 292.1,482.6 292.3,482 295.9,489.7 296.9,490.5 301.3,499.6 302,499.4 306.1,504.6 307,504.6 303,495.1 305.5,499 304.1,493.2 304.7,492.2 303.8,487.8 305.3,489.2 305.1,486.6 307.1,489.7 308.5,491.3 311.1,496 307.9,486.5 306.6,481.9 308,484 310.3,488.3 314.4,497.2 315.8,499.5 315.3,496.9 315.9,496.9 315.4,494.2 317.8,498.7 317.7,497 313.7,485.5 316.9,492 317.5,491.9 317.2,489.9 317.3,488.5 324.1,503.6 322.6,498.3 321.5,493.9 321.1,491.2 326.6,503.4 325.5,499 322.9,491 318.4,478.2 328.4,501.3 330,503.5 323.9,486.6 322,480.1 324.9,485.8 324.3,482.6 329.8,494.7 335.3,504.6 328.2,487.4 333.4,498.9 332.7,495.7 333,495.1 335.3,499.5 329.3,483.4 337.4,502.1 338.9,504.6 334.5,492.5 333,487.6 333.7,488.2 335.3,490.9 337.1,494 340.3,500.9 339.9,498.4 339.1,495.1 343.3,504.3 340.3,495.5 343.3,501.5 341.5,495.5 345.9,504.6 346.7,504.6 344.2,497.3 345.4,498.7 346,498.4 348.2,502.2 350,504.6 348.2,498.6 349.4,499.5 350.7,500.5 351.1,499.2 351.1,496.9 350.9,494 350.8,491.6 352.3,493.5 349.9,485.4 349.4,482.3 349.9,481.6 346.9,472.3 350.8,480.1 353.2,484.1 358.5,495.3 361.9,501.8 363.4,503.4 363.4,501.3 359.2,488.6 362.2,493.6 363.3,494.2 360.4,484.4 359.3,479.6 364.6,490.8 370,502.5 367.5,494.8 364.4,485.9 370.3,499.6 372.5,504.3 365.7,486.7 369.5,495.5 366,485.9 371.8,499.5 368.4,490.5 372.3,499.4 370.6,494.2 372.6,498.2 371.2,493.7 368.9,486.7 371.4,491.5 375.2,499.6 376.2,500.6 377.6,502.5 375.9,496.5 376.1,495.6 375.5,492.5 375,489.9 376.4,491.5 377.6,492.6 378.3,492.7 379.9,494.6 378.5,489.1 382.8,497.5 380.7,490.1 382.6,492.6 382.4,489.7 382.4,487.5 385.3,492.6 383.9,486.9 386,490.1 386,488.1 388.1,491.5 387.5,488.1 386.7,484.3 383.6,474.9 391.4,492.7 390.9,489.8 389.9,485.8 391.9,489.6 389.9,483.3 392.9,489.6 389.4,479.7 393.3,488.4 392.7,485.8 395.6,491.8 397.7,495.8 398.9,497.7 396.8,491.2 398.1,493.2 399,493.9 401.3,497.9 401.1,495.7 402.9,498.4 402.8,496.2 403.3,495.5 402.7,492.2 402.9,491 401.5,486 406.1,496 406.4,495.2 405.5,491.5 401.4,479.5 400.3,474.9 404.4,483.3 406.4,486.4 407.7,487.7 408.7,488.4 413.7,498.9 413.9,497.9 415.1,499.3 412.3,490.8 406.9,476 405.1,470 408.2,476.5 406.1,470.1 413.2,486.5 416.5,493.2 413.2,483.3 417,491.1 414.3,482.5 423.4,502.9 422.7,498.8 419.5,488.4 420.8,489.4 420.5,486.2 422.7,489.5 426.9,497.7 419.4,477.2 424.2,487.2 419.5,474 424.3,484.3 416.7,464 422.7,477.4 429,491.8 431.7,497.4 429.9,491.6 429.5,489.4 431.6,493.6 433,495.7 433.8,496.3 434.6,496.9 434,494.2 430.2,483.2 432.1,486.6 432.8,486.9 435.7,492.5 438.8,498.7 437.7,494.3 436.6,489.6 437.3,489.3 439.7,493.1 443.5,500.7 441.9,494.8 445,500.5 445.1,499 445.5,498.4 443.3,491.4 448.2,502.2 442.9,487.8 444.7,491.1 444.9,490.6 446,492 446.8,493 450,499.6 450.9,500.5 451.3,499.9 452.7,501.5 451.6,496.9 455.3,504.1 451.7,493 458.2,504.6 454.5,495.7 454.2,493.2 455.2,494.1 454.9,491.7 452.9,485.4 456,491.8 455.3,488.7 454.7,486 459.1,495.6 457.7,490.9 458.6,491.7 462.1,499.1 459.9,492 460.9,493 464.5,500.2 464.8,499.4 464.4,496.5 463.5,492.2 467.4,499.8 461.1,482.2 462.9,484.6 467.2,493.3 466.5,489.6 465.8,486.1 468.9,492.3 466.6,485 473.4,500.3 471.3,493.7 469.9,489 475.4,501.3 475.2,499.6 472.2,491 469.4,482.7 463.1,466 470.1,481.9 469.1,478 477.2,496.6 479.4,500.2 475.1,487.7 479.4,496.5 483.2,503.8 478,488.7 484.8,503.3 478.1,484.5 477.8,481.6 482.3,490.5 481.4,486.3 481.2,483.6 485.7,493 481.4,480.5 481.2,478.2 483.2,481.6 481.1,475 484.8,483.2 489.5,493.7 487.8,488.4 488.9,490 492.1,496.7 492,495.2 490.2,489.6 493.7,496.7 492.7,492.7 493.5,493.4 495.6,497 493.7,490.8 495.3,493.2 496.9,495.4 495.6,490.5 495.8,489.1 494.3,483.4 499.8,495 498.7,490.3 500.4,492.4 500.6,490.9 501.8,491.7 504,495.1 505,495.7 500.7,482.9 503.1,487.2 502.9,485 502,481.3 503,482.5 505,486.3 504.5,483.9 504.7,483.2 507.8,489.7 507.4,487.7 512,497.8 511.5,495.2 513.5,498.9 510.1,489.2 513.9,497.4 516.7,502.8 514.3,495.6 515.8,497.9 510,482.1 515.1,493.4 512.6,485.6 514.8,489.6 517.8,495.4 516.1,489.7 521.3,500.8 521.6,499.6 517.5,487.5 522.6,498.1 529.7,504.6 525.2,500.3 519.7,484.8 525.3,496.8 525.7,496.1 525.1,492.8 520.9,481 524,487.4 530.6,502.3 527,492.1 526,488.4 519.9,472.1 528.5,492.1 525.3,482.9 527.9,487.9 529,488.9 529.9,489.6 531.6,491.9 535.4,499.6 532.6,491.1 534.8,494.7 537.4,499.4 535.2,492.2 537.1,495.2 539.1,498.3 536.9,490.9 538.3,492.4 539,492 537.4,485.9 540.1,490.5 537.6,482 538.4,481.7 539.2,481.4 533,464.1 534.2,464.9 541.6,481.7 544.9,488.2 544.8,486.7 544.4,484.6 546.8,489.5 547.8,491.4 545.5,485 549.3,493.6 547.2,487.2 549,490.6 550.8,493.4 553.7,499 554.2,498.2 554.6,497.1 558,503.1 552.3,486.3 556.1,493.2 553.2,483.5 557,490.6 553.7,480.2 556.8,485.8 559.8,491.3 555.2,478.1 564.3,499.1 566.3,502.3 564.3,496.1 564,494 564.2,493.2 559,478.9 563.1,488 562.7,485.8 563.3,486.1 564,486.5 563.3,483.7 569.2,496.9 563.8,482 565,483.4 564.7,481.2 566.5,484.1 566.3,481.9 571.5,493 565.2,475.6 570.1,485.9 570.2,484.5 572.2,488 572,486.1 574.2,490.6 576.2,494.7 580.4,504.5 579.9,502.6 576.1,492.3 579.4,499.8 577.5,494.3 577.8,494.1 578.2,493.8 582,501.9 579,492.7 577.9,487.8 579.2,488.6 581.4,491.6 577.3,478.7 581.4,486 582.7,486.6 586.1,492.4 586.8,491.8 590.1,498.2 587.9,490.8 591.4,497.9 590.5,494 591.9,495.8 592.9,496.6 593.4,496.4 591.2,489.3 591.6,488.8 590.9,485.8 585.8,471.9 591.6,485.1 592.3,485.5 594.5,489.9 593.4,485.8 596,491.1 595.7,489.2 599.5,497.6 601.3,500.8 603.2,504.5 599.8,494.8 601.3,496.9 602.6,498.4 603.3,497.9 600.9,489.9 607.3,503.3 604.2,493.1 607.5,498.8 606.1,492.7 606.7,491.7 608.6,494.3 607.2,488.7 607.8,488.4 606.5,483.3 609.3,488.6 612.1,494.2 615.4,500.8 611,488.5 611.3,488.1 610.4,484.7 610.9,484.7 613.9,490.8 613.8,489.2 619.7,502.5 616.4,493 614.6,487.1 618.1,494.7 619.9,497.8 616.9,488.7 620.3,495.5 623.4,501.6 617.3,484.8 619.9,489.8 619.1,486.2 620.5,488.2 621.1,487.9 623.9,493.3 622.2,487.2 624.7,491.7 625.3,491.3 628.9,498.7 629.8,499.3 629.5,496.8 627.3,489.7 628.9,492 627.6,487 629,489 627.9,484.4 630.2,488.3 629.9,485.6 635.8,498.2 636.6,498.3 634.5,491 637,495 633.1,483.6 636.8,490.9 635.9,486.8 637.2,488.3 640.5,494.8 639.2,490.3 643.4,499.4 638.6,486.1 639.5,487.2 641.7,491.3 640.7,487.4 641.2,487.5 642.7,489.6 643,488.8 644.9,491.9 644.3,488.9 646,491.5 644.1,484.9 646.7,489.8 647.9,491.1 649.2,492.8 648.8,490.1 652.2,497.2 648.8,487.4 650.3,489.9 650.9,490.1 651.5,490.3 650.6,486.8 654.1,494.3 654.5,494.1 652.6,487.9 655.8,494.7 656.9,496.1 654.4,488.5 655.2,489.4"/>
</g>
<g stroke="#ffd700">
<polyline stroke-dasharray="13 1.5" points="78.6,502 78,492.2 78.3,484.6 79.5,479.4 78.8,469.3 78.8,460.8 79.2,453.5 79.6,447.3 78.9,441.1 79.7,438.7 79.9,434.7 79.9,430 79.2,424 79.6,420.3 80.5,418.1 81,414.8 81.6,411.9 79.9,403.1 81.3,402.1 81.5,398.2 81.6,394.7 81.1,390.9 80.4,386.7 79.9,382.7 80.4,381.3 81.9,382.6 81.6,379.3 81,375 83.1,377.7 83.5,376.1 82.8,371.8 82.7,369 81.6,363.5 82.4,362.9 82.9,361.6 84.4,362.8 82.6,355.8 81.9,351.6 82.1,349.5 83.4,350.2 82.5,346.6 81.4,342.7 83.6,347.1 83.5,345.6 83.3,344 83.3,342.8 83.9,342.8 84.2,342.4 82.7,337.4 84.5,340.4 85.4,341.3 83.9,336.3 84.4,336.3 85.1,336.9 83.6,331.9 85.4,335.2 83.6,329.5 84.8,332.4 84.6,331.5 86.6,336.4 86.1,334.9 85.8,334.1 87.4,337.9 86,334.3 86.5,335.3 85.5,332.6 85.3,332 86.4,334.5 86.4,334.3 86.8,335.3 86.9,335.2 88.1,338.1 87.6,336.5 88.2,337.7 88.6,338.4 87.9,336.4 88.9,338.4 88.1,336 88.3,336.4 89,337.9 88.7,336.8 89.4,338.5 89.8,339.2 89.7,338.7 89.8,338.6 90.7,340.6 91.3,341.3 89.8,336.8 88.9,333.9 89.7,334.9 91.2,337.9 90.4,334.8 91.5,336.5 93.6,340.7 92.6,337.1 92.7,336.3 92.9,335.5 92.9,334.5 92,331.1 93.8,334.3 92.4,329.6 92.6,329 93.4,329.6 94.4,330.9 94.8,330.6 96.1,332.3 95.8,329.9 95.6,327.9 97.3,330.9 97.4,330.4 97.5,330.1 97.3,329 97.2,328.1 98.5,330.7 100.5,335.1 100.8,335.1 100.6,334 100.7,333.7 102.6,337.8 101.1,333.3 103.3,337.9 103.3,337.3 105,340.8 104.8,339.3 105.3,340 106.4,342.1 106.1,340.4 107.2,342.5 107.2,341.9 109.8,347.6 108.8,344.5 109.8,346.2 111.4,349.5 111,347.7 112.2,349.8 113.2,351.4 115.5,356.1 115.6,355.2 116.4,355.9 116.3,354.4 118,357.4 118.4,357 119.1,357.6 121.3,361.8 123.7,366.5 123.1,363.7 123.5,363.6 125.8,368.1 125.6,366.6 127.2,369.7 128.2,371.4 128.6,371.8 130.8,376.9 131.3,377.8 132.8,381.2 134.4,384.7 136,388.2 136.3,388.5 136.9,389.5 139.1,394.2 139.5,394.6 138.5,391.3 140.2,394.6 142.8,400 143.3,400.1 143.8,400.1 144.4,400.2 145.1,400.6 148,406.2 148.6,406.2 149.5,407.1 149.9,406.5 152.7,412.1 152.3,409.8 153.5,411.4 154.6,412.9 155.3,413.6 156.5,415.5 158.4,419.3 158.4,418.6 159.6,420.6 160.5,422.1 161.7,424.4 162.2,425 163.3,427.2 163.1,426 164.2,428.3 165.5,431 165.8,431.2 166.6,432.7 167.3,434 169.3,438.3 169,437.1 170.6,440.3 170.7,439 172.1,440.4 172.6,439.3 172.6,437.4 173.6,437.8 175.7,441.1 175.2,437.8 175.5,436.9 176.3,437.2 176.5,435.9 178.2,439.6 178.4,439.5 179.1,440.6 180.2,442.9 181,444.3 181.6,445.3 183.2,448.4 183.7,449.1 183.8,448.2 184.5,449.2 184.6,448.5 185.2,449.1 186.9,452.3 187.5,453.1 186.7,450.2 187.6,451.7 189.8,456.4 189.6,455.5 189.7,454.9 190.8,457 189.7,453.8 191.7,458.2 192.2,458.5 193.2,460.2 194.4,462.5 194.4,461.6 195.9,464.4 197.1,466.6 196.7,464.6 196.4,462.9 196.4,461.8 198.3,465.5 198.9,466.2 201.9,472.7 201.9,471.9 201.3,469.5 203.5,474.1 201,467 204,474 205.9,478.1 203.2,470.9 204.8,474.2 204.6,473 205.5,474.7 208.4,481.4 209.1,482.3 208.9,481.2 208,478.2 210,482.6 209.4,480.4 212.5,487.7 210.9,483.1 212.2,485.9 212.3,485.7 214.4,490.3 216.6,495.4 215.1,491 216.5,493.9 215.7,491.3 216.4,492.4 216.5,491.8 220.4,500.7 219.7,497.9 220.3,498 221.5,499.3 220.2,494.4 220.5,492.9 221.8,493.5 224.9,498.4 223.2,491.8 222.5,487.6 226,493.9 225,489.5 230.7,501.6 229.2,496 229.3,494.8 227.5,488.9 229.6,492.8 229.6,491.9 230.3,492.8 228.5,487.6 232.6,497.3 232.1,495.3 229.4,487.7 236.9,504.6 231.2,490.5 234.3,497 234.2,495.4 238.9,504.6 231.5,485.9 236.5,496.6 237.6,497.6 240,501.8 241.1,502.5 245.7,504.6 243.3,503.5 242.5,499.5 243,498.6 244.5,500 246.7,503.3 245.1,497.4 245.1,495.3 243.9,490.5 245.5,492.8 248.7,499.2 245,488.4 246.1,489.8 249.2,496 246.7,488.4 245.1,482.8 247.8,487.8 250.7,493.2 250.7,491.5 247.9,482.7 246.6,477.6 254,493.8 250.5,483.1 253.8,488.9 254.1,487.4 256,489.9 256.6,489.2 257.7,490 257.8,488.3 260.8,493.7 260.8,492.1 260.8,490.3 263,494 265.3,498 265.2,495.8 266.1,496.3 262.6,485.9 263.3,486 261.2,479.5 265.9,489.9 265.8,488.6 266.2,488.5 269.1,494.6 267.9,490.5 270.3,495.5 267,486.1 269.4,491.4 274.1,502 276.6,504.6 272.4,496.1 273.5,498 276.3,504.1 277.5,504.6 273.2,494 271.4,488.1 272.8,490.2 274,491.4 278,499.6 268.9,474.9 272.6,482 278.4,494.2 282.2,501.4 279.5,492.2 274.5,477.4 276.1,478.9 280.5,487.6 282,489.4 283.6,491.5 284.1,491 282,484.3 281.2,481.1 283.5,485.6 281.6,479.8 286.1,489.8 288,493.3 287.3,490.2 290.1,495.5 293.9,503.3 292.2,497.4 294.2,500.3 294.8,499.9 292.8,493 291,486.5 294.2,492.6 294.1,490.5 295.7,492.7 295.5,490.5 296.4,490.9 298.4,494.1 296.2,487.3 297.3,488.4 298.2,489.3 300.1,492.2 300.7,492.2 303.2,496.9 304.7,498.9 303.6,494.4 301.4,487.2 302.5,488.3 305,493 303.6,488 308.4,498.3 308.2,496.4 306.2,489.9 308.6,494.5 307.4,490.1 308.7,492.1 310.3,494.9 310.4,493.7 308.9,488.7 310.9,492.2 310.8,490.7 312.8,494.2 313,493.5 317.4,502.9 314.9,495.4 314.5,493 313.4,488.9 314.9,491.1 318.7,498.9 317.4,494.1 315.3,486.9 317.3,490.1 317.1,487.9 318.9,490.4 321.8,495.8 324.2,499.7 322.8,494.1 322.6,491.2 324.9,494.6 325.2,493.2 327.1,495.9 325.9,490.9 324.1,484.9 326.5,489.4 324.7,483.6 328.8,492.3 330,494 330.9,494.7 334.7,502.5 332.3,494.8 335.9,502.1 337.1,503.4 334.9,496.1 335.6,496.3 335,492.9 338.5,500 340.7,503.6 340.8,502.1 338.4,494.5 340.6,498.4 340.5,496.6 340.9,496.3 341.1,495.7 341,494.2 341.6,494.5 345.1,501.8 342.9,495 344.9,498.4 347.3,502.7 346.6,499.5 347.9,501.1 342.6,486.5 348.8,500.7 351.6,504.6 352.1,504.6 350.3,500.1 350.2,498.3 350.3,497 349,491.8 354.2,502.9 350.2,491.3 353.8,498.4 350,487.2 355.2,498.4 357.9,503.2 355.7,496.1 356.6,496.4 357.6,497 359.8,500.7 359.4,497.8 358.9,495 359.9,495.5 360.7,495.8 359.4,490.8 361.6,494.3 359.2,486.6 360.4,487.6 361.9,489.3 362.8,489.3 366.2,495.9 367,495.7 362.9,483.6 363.4,483.1 364.7,484.5 365.1,483.7 367.6,488.2 366.2,483.3 365,478.7 369.1,487.4 368.1,483.7 365.4,475.6 366.3,476.7 369.6,483.7 372.1,488.8 377.8,501.8 375.8,495.6 373.1,487.5 371.8,483.3 374.2,488.1 373.2,484.4 376,490.5 382.8,504.6 380.5,499.6 378.5,493.8 378.4,492.6 379,493.1 376.5,485.8 383.4,501.7 382.3,497.5 381.2,493.2 382.9,495.6 384.4,497.4 386.9,501.3 383.8,491.1 387.3,497.3 388.2,497.2 388,494.2 389.4,495.4 388.9,492.2 389.2,491 392.3,497.1 394,499.7 396.3,503.7 393.7,495.8 392.9,492.5 390.7,485.7 396.6,499 396.2,496.4 397.8,499.1 402,504.6 402,504.6 398.8,497.1 398.1,493.6 401.8,501.2 401.4,498.5 402.1,498.7 403.7,500.9 403.1,497.7 402.3,493.9 402.6,493 404.9,497 403.7,492.4 402.7,488.1 403.5,488.5 407.8,497.6 406.9,493.8 410,500.3 407.8,493.5 407.9,492.2 410.6,497.6 408.9,491.9 413.9,502.8 411,494.2 413.2,498 413.1,495.9 413,493.7 412.3,489.9 413.1,490.1 415.3,493.5 416.9,495.5 415,488.9 418.1,494.8 418.8,494.7 418.5,492.2 419.3,492.6 421.8,497.3 421.4,494.9 420,489.9 424.1,498.8 420.9,489.4 420.9,487.6 423.9,493.4 427.8,501.4 427.1,497.6 426.4,493.9 425.9,490.6 426.7,490.5 425.1,484.4 426.2,485.2 429.2,490.8 428.7,487.9 430.1,489.8 430.7,489.8 434.9,498.9 434.7,497.4 435.9,499.6 436.2,499.3 432.5,489.3 434,492.2 432.9,488.3 436.8,496.9 435.7,492.8 441.1,504.6 440.9,502.5 444.7,504.6 440.5,497.6 439.1,492.1 437.2,485.4 442.6,496.5 441.3,491.1 445.7,499.6 446,497.9 440.5,482 445,490.7 444.1,485.9 444.9,485.5 445.4,484.5 444.6,480 447.5,485.2 448,484.5 449.4,486.4 450.9,488.4 451.3,488 449.5,482.2 448.2,478 450.7,483.5 449.8,480.3 452.8,487.1 455.8,493.8 455.2,491.5 454.9,489.7 454.6,487.7 456,490.1 458.7,495.4 460.4,498 459.3,493.4 460.5,494.4 457.6,485.2 468.1,504.6 460.6,488.4 466.2,500.3 467.1,500.3 466.8,497.3 467.1,495.9 469.4,499.8 467.6,493.7 469.7,497.1 469.8,496.1 471.4,498.6 469.8,493.6 468.2,488.3 471.2,494.7 474.1,500.9 473,497.1 470.5,489.7 471.4,490.7 477.5,504.6 474.7,496.1 471.6,486.7 473.4,489.4 475.2,492.1 473.8,486.7 475.2,488.1 477.4,491.4 479.6,494.8 477,486.4 480.3,492.3 481.7,493.9 480.8,489.5 485.4,498.9 479.8,483 482.7,488.3 484.6,491.1 483.7,487.1 483.2,484.2 484.5,485.8 488.1,493.7 483.7,481.7 485.8,486.1 486.4,486.7 485.7,484.4 491.1,497.3 490.5,495 489.2,490.6 492.2,496.7 492.9,497 494.3,498.7 494.3,496.7 495.3,497.2 493.7,490.9 494.3,490.1 496.4,493.3 500.2,500.6 501.2,501.3 494.8,483.6 500.3,495.7 498,488.5 500.9,494.5 504.3,501.5 503.8,499.2 502.3,494.4 502.6,494 502.2,491.4 507.4,502.7 504.5,493.7 505.6,494.6 505.6,492.7 506.7,493.2 507.9,494.2 506.7,489.1 510.1,495.6 508.5,489.5 511.6,495.3 513.4,497.8 510.4,488.2 509.4,483.9 515.4,497 519.7,504.6 518.1,500.1 517,495.9 515.6,490.7 520.1,500.4 517.4,492 517.7,491.4 515.9,485.2 520,494 520.5,493.6 519.8,490.4 519.5,488.5 519.3,486.8 516.5,478.5 522.9,493.2 518.7,481.5 523.4,491.8 525.4,495.2 520.8,482.2 522.6,484.8 526.7,493.4 527.5,493.7 526.4,489 527.7,490.4 526.5,485.3 529.7,491.4 527.3,483.9 534.7,500.9 529.2,485.9 534.8,498.6 532.6,492.2 535.3,497.9 533,491.5 535.5,497.1 529,480.2 535.7,496.2 535.4,494.4 539.6,503.9 537.6,497.5 539.1,500 539.3,499.2 540.3,500.4 539.2,496.3 542.4,502.6 544.5,504.6 543.7,502.2 541.8,495.5 543.9,498.7 544,496.8 545.9,499.3 546.4,498.4 542.6,486.6 540.2,478.5 544.6,487.3 545.2,486.5 546.3,487.3 548.8,491.3 549.2,490.4 551,493.2 551.4,492.4 549.6,486.4 552.1,491.3 551.9,489.5 553.9,493.2 554.2,492.7 558.7,502.8 557.1,497.4 557.5,497.4 557.8,496.8 557.5,494.5 557.8,493.8 557.9,492.4 560.7,497.3 560.7,495.3 559.7,490.8 562,494.2 565.9,501.5 566,499.3 565.8,496.1 565.8,493.5 566.2,492.1 567.5,493.1 567.7,491.3 570.2,495.4 566.2,483.6 567.3,484.8 568,485 570.3,489.3 571.8,491.5 569.9,485.6 569.4,483 571.9,487.9 568.4,477.6 573.1,487.9 574.2,489.1 573.4,485.6 577.5,494.4 573.7,483.5 576.2,488.4 577.5,490.5 577.2,488.4 579.8,493.8 581.7,497.7 582.8,499.2 582.3,497 580.5,491.4 581.1,491.8 582.4,493.5 579,483.1 579.3,482 583.6,490.6 580.9,481.7 584.3,488 585.9,489.8 587.8,492.2 586.5,487 586.8,485.8 589,489.7 592.1,495.7 595.1,501.8 593.5,496.6 593.2,494.5 594.9,497.3 593.8,493.5 593.8,491.9 595.3,494.2 595.8,493.9 596.1,493.1 594.9,488.4 596.7,491.4 596.8,490 595.7,485.6 598.4,490.8 598.4,489.1 600.6,493 601.1,492.7 604,498.4 603.7,495.9 603.2,493.2 603.9,493 604.2,492 603.7,488.8 603.6,486.5 605.9,490.2 605.5,487.6 605.6,486.2 607.7,489.9 607.8,489 605.8,482.8 608.2,487.6 610.3,491.8 613.2,498.2 611.8,493.4 613.1,495.3 614,496.4 610.7,486.9 615.5,497.4 615.8,496.6 617.3,498.5 617.1,496 617.8,496 618.8,496.5 618.4,493.5 617.1,488.7 622.5,500.7 620.5,494.3 622.7,498.5 623.5,499.3 624.4,500.2 623.2,495.8 624.3,497.2 625.2,498.1 626.1,498.4 626.2,496.9 627.4,498 626.6,493.8 630.1,500.3 631.3,501 629.4,493.9 633.2,501.1 630,490.6 632,493.3 633.6,495.1 632.3,489.7 631.2,485 635.9,495 631.9,483.6 632.6,483.8 632.6,482.5 633.4,483.3 632.2,479.3 637.9,492.7 639.7,496.2 640.7,497.7 638.2,490.5 638.8,491 641,495.3 646.1,504.6 645.9,504.6 644.5,500.1 645.4,500.5 645.2,498 644.7,494.6 647.1,498.5 646.6,494.7 646.5,492.2 649.2,496.8 648.2,492.1 649.2,492.5 650.8,494.6 651.8,495.3 653.6,498.1 652.5,493.7 655.3,499.4 653.8,494.4 654.6,495.5 655.7,497.2 657.4,500.4 658.5,502 657.1,497 655.9,492.5 657.8,495.5"/>
<polyline stroke-dasharray="5 2" points="79.3,503.8 78.6,491.2 78.5,480.4 79.2,471.4 79,460.2 79.3,452.9 79.5,447.5 79.3,441.2 79.6,436.1 81.1,434.1 80.6,427.1 81.1,422.5 81.2,417 81.7,414.4 81.7,411.9 80.3,405.9 79.7,401.7 80.1,400.1 82,402.1 82.1,399.9 82.1,397.2 81.1,392.2 80.9,389.2 82.5,390.4 81.3,385 82.5,385.1 82.7,383.2 81.6,377.8 82.5,377.5 82.5,376.4 82.6,375.5 81.7,372.4 82.3,372.7 83,373.5 82.5,371.3 82.7,370.8 82,367.9 83.1,369.7 84.1,371.3 82.4,366.1 82.6,365.7 82.5,364.6 83.4,365.8 84.5,367.4 82.9,362.6 83.8,363.8 83.6,362.2 84.9,364.4 84.7,362.8 85,362.5 84.6,360.5 84.7,359.8 84.9,359.2 86.4,362 86.1,360.4 87,361.7 85.4,356.5 84.7,354 84.8,353.2 85.6,354.2 87.2,357.1 86.7,354.7 84.9,349.5 86.3,352.4 87,353.4 84.7,346.9 85.6,348.7 86.9,351.2 87,350.6 87,349.9 87.7,351.1 86.2,346.6 87.2,348.4 87.8,349.2 86.7,345.8 88.2,348.8 88,347.7 87.6,346.1 89.3,349.5 89.5,349.5 88.1,345.3 87.6,343.4 88.5,344.8 89.2,345.9 87.8,341.6 90,346 89.5,344.1 90,344.4 90.6,344.9 90.4,343.3 92.2,346.7 91.1,343 91.7,343.5 91.6,342.1 92.3,342.8 91.7,340.4 91.5,338.9 92.1,339.3 92.3,338.5 92.4,337.6 92.4,336.4 93,336.5 93.3,335.9 93.3,334.4 92.6,331 94.1,333.2 93,328.6 94.2,330 93.5,326.5 95.9,330.4 96.8,330.5 97.3,329.6 95.9,324.2 97,324.8 96.6,322.7 98.6,327.4 97.4,324 100.3,330.8 97.6,323.5 98.6,325.1 100,328 101.2,330 99.9,326.1 103.1,333.1 104.5,335.9 104.3,334.6 105.6,337.4 103.8,332 106.5,338.2 106.2,337 107.3,339.1 108.9,342.6 107.5,338.6 109.1,342.1 109.1,341.7 109.3,341.6 111.7,346.7 113.1,349.4 114.2,351.4 114.3,350.5 115.5,352.5 116.7,354.6 116.7,353.3 117.8,355 120.5,360.6 121.1,361.1 120.5,358.5 121.7,360.3 123.6,363.8 124.1,364.1 124.6,364.2 125.1,364.5 127.2,368.8 128.3,370.6 129.1,371.6 130,372.9 130.7,373.6 132.3,376.6 132.7,376.7 133.2,376.9 134.6,379.5 135.6,380.8 136.6,382.1 138.5,385.7 140,388.1 139.4,385.3 141.1,388.2 143.4,392.8 144.4,393.8 144.3,392.6 145.8,395.1 146.5,395.9 146.7,395.4 148.3,398.4 149.3,400.3 150.3,402 151.9,405.3 152.7,406.7 153.2,407.2 154.4,409.6 155.5,411.8 156.5,413.3 157.4,415.1 158.4,416.8 159.2,418.1 159.4,418.1 160.6,420.4 160.9,420.6 162.8,424.8 163.7,426.6 164.5,427.9 165.2,429.2 165.3,429 166,430.2 167.7,433.9 167.8,433.3 168.9,435.4 169.7,436.4 170.2,436.5 170.8,437.1 172.8,439.8 173.3,438.9 174.7,440 174.9,438.5 174.5,435.4 175.5,435.8 177,437.5 177.3,436.2 176.9,433.3 178,434.3 178.8,434.6 181.5,439.8 182.6,441.8 181.5,438.6 181.9,439.1 182.2,439.6 184.4,444.8 183.3,441.9 186.1,448.6 185.4,447.1 187.6,452.7 186.2,449.2 187.9,453.8 187.6,452.8 188.6,455.3 190.6,460 191.1,460.7 191.4,460.4 191,458.4 192,459.8 192.5,459.6 192.4,458 192.4,456.5 195.4,462.4 196.3,463.1 196.6,462.6 197,462.3 197.7,463 198.6,464.4 199.8,466.9 199.6,465.9 200.9,468.8 200.9,468.5 201.7,470.3 202.5,471.9 202.5,471.6 201.4,468.5 202,469.3 203.2,471.7 206.1,478.2 207.5,481 208.1,481.4 207.9,480 209.6,482.9 207.3,475.7 207.6,475.1 209.3,478.1 209.8,477.8 212.3,482.9 212.5,482.5 212.7,481.8 213.6,483.2 214.2,483.9 214.9,484.9 213.7,481.5 217.5,490.3 214.4,482.1 218.5,491.8 218.1,490.3 218.7,491.3 217.5,487.8 218.4,489.5 220.8,494.9 218.6,488.7 220.6,492.7 222.1,495.1 223.4,496.9 221.2,490.1 221.7,489.7 221.7,488.2 225.6,496.3 221.2,483.7 226.9,496.5 229.9,502.3 230.4,501.8 231.9,503.8 230.3,498.1 231.5,499.1 231,495.8 234.6,502.6 234.5,500 235.7,500.5 235.2,496.6 235.2,494.1 233.3,486.8 231.3,479.5 233,481.3 235.6,485.8 239.3,493.1 236.1,483.5 241.8,496.1 239.9,490 240.9,491 240.7,489.2 242.4,492.2 244.4,496.1 243.9,493.6 244.7,494.5 245.1,494.2 244,490 246.4,494.6 247.4,495.6 248.6,497.4 248.6,496.2 248,493.5 248.9,494.7 250.4,497.2 250.3,496 251.4,497.6 253.2,501 251.1,494.6 254.9,502.6 252.8,495.7 250.9,489.4 250.9,487.7 253.3,491.8 254.6,493.2 258.3,500.8 256.9,495.5 258,496.6 258.8,496.5 257.9,492.4 258.4,491.8 258.9,491 263.2,499.7 263.1,497.4 262.9,494.9 263.6,494.7 263.2,491.6 259,479.4 260.7,481.7 266.7,494.8 265.3,489.7 264.3,485.8 267,490.9 268.9,494.4 268.9,493.1 270.6,496 269.2,491.1 268.1,486.9 270,489.9 271.6,492.1 271.2,489.2 268.2,479.7 272.4,487.8 275.4,493.1 272.2,482.8 275.7,489.5 272.1,478.5 277,488.7 274.6,481 273.9,477.7 272.4,472.7 276.2,481.2 282,494.8 279.6,488 284.2,498.9 284,497.9 288,504.6 286.8,503.9 285.7,500.5 287.2,503.4 285.5,498.1 281.9,487.9 281.7,485.9 283.9,489.5 286.5,494.1 289.6,499.5 285.9,488.3 289.4,494.5 289.1,491.5 291.3,494.5 289.8,488.4 293.5,495.5 291,487.1 292.6,489.2 295.1,493.4 292.7,485.9 291,480.3 295.9,491.3 299.2,498.8 303.1,504.6 302.5,504.6 300.1,499.2 301.3,501.2 297,489.5 301.6,499.6 303.1,501.6 303.1,499.7 306.1,504.6 306.5,503.9 304.2,495.8 305.3,496.3 304.6,492.3 304.8,490.5 302.3,482 302.1,479.5 304.8,484.4 304.9,483.2 310.3,495.1 309.3,491.4 313.9,501.5 311.5,494.5 314.5,500.7 313.7,497.5 312.8,493.9 312.6,491.9 314.2,494.4 314.2,492.9 316.6,497.3 317.4,497.8 320.8,504.5 320.6,502.4 320.6,500.8 318.5,493.7 316.8,487.6 313.9,478.4 318.7,488 318.6,485.7 315.6,476 315.3,473 316.4,473.3 316.7,471.7 325.3,490.6 327.3,493.1 326.8,489.5 327.6,489.5 329.7,492.5 329.6,490.4 325.8,479.2 328.2,483.7 334.7,498.6 334.1,496.1 332.2,490.8 332.7,491.5 337.1,502 335.7,498 334.1,493.6 336.1,498.1 336.6,498.3 336.7,497.3 337.6,498.2 340,502.6 340,500.6 339.1,496.1 339.8,495.7 342.4,499.7 343.6,500.4 344.2,499.5 343.5,495.3 345,496.7 346.3,497.6 345.9,494.5 348.1,497.9 350,500.7 347.5,492.8 347,489.7 344.3,481.3 346.4,484.7 352.3,497.8 350.5,491.9 350.7,491 351.4,491.5 349.8,486.3 357.3,503.5 356.8,501.1 356.8,500 352.9,489.3 359,503.7 360.1,504.6 361.5,504.6 356.5,494.1 358.7,498.7 360.8,503 358.7,496.8 362.2,504.4 365.9,504.6 362.9,503.9 362.5,501.4 362.2,499.1 364.4,502.8 362.7,496.8 362.2,493.4 362.9,492.9 363.3,491.7 361.7,485.5 367.3,497.2 367.4,495.1 369.7,498.6 369.2,495.3 371,497.5 370.9,495.2 373.7,499.9 374.1,498.8 371.9,491.4 372.3,490.5 372.9,489.8 371,483.1 374.2,489.2 368.5,473 369.1,472.7 369.6,472.4 372.7,478.8 377.9,490.2 378.3,490.1 379.2,491 381.5,495.6 381.7,495.2 382,495.3 382,494.5 381.8,493.5 383.5,497.1 382.4,493.6 385.4,500.2 386.8,502.8 388.8,504.6 389.1,504.6 391.8,504.6 389,502.3 393.2,504.6 393.1,504.6 391.2,501.2 390.4,496.6 390.4,494 391.1,493.2 394.2,498.3 395.2,498.6 394.1,493.8 394.8,493.7 395.7,494.3 395.5,492.6 395.9,492.5 395.6,490.5 397.5,494.2 396.4,490.5 399.2,496.3 398.3,492.6 399.1,493.3 401.8,498.5 398.2,487.8 401.9,495.2 402.6,495.2 402.9,494 400.5,486.2 401.3,486.4 406.4,497.5 402.2,485.2 407.1,496 406.2,492.2 410.3,501 406.9,491.1 407,489.8 408.2,491.5 412.6,501.1 410.6,494.6 409.5,490.2 411.9,494.8 412.7,495 413.1,494.5 412.4,491 413.9,492.8 414.6,492.6 413.3,487.6 416.1,492.7 416.2,491.2 419.3,497.2 418.7,493.7 416.7,487 418.9,490.9 418.5,488.6 421.8,495.4 422.3,495.3 424.1,498.4 422.9,493.8 422.6,491.5 425.9,498 427.8,501.2 426.6,496.3 428,497.9 428.6,497.7 425.6,488.5 425.7,486.9 429.7,495.4 428.2,490 428,488.2 432.7,498.6 431.6,494.5 430.8,491.2 432.3,493.3 435,498.6 434.2,494.9 436.7,499.4 436.7,497.6 437.4,497.4 438,497 438.4,496.1 437.5,491.8 438,491.1 438.9,491.5 439.3,490.8 440.1,491 441.7,493.2 443,494.8 441.9,490.5 445,496.9 446,498 448.3,502.2 447.7,499.4 447.8,498.2 449,499.6 449.9,500.4 448.8,495.9 451.7,501.4 451.6,499.5 448.4,489.5 448.8,488.6 447.6,483.9 450.2,488.5 452.5,492.2 449.8,483.5 448.2,477.7 454.5,491.4 451.6,482.3 449.1,474.1 455.3,487.9 451.8,477.4 455.2,484.3 457.5,488.2 454.4,478.9 457.4,484.9 460.2,490.5 459.7,487.8 462.9,494.6 461.8,490.5 459.3,483.4 456.4,475.3 458.4,479.7 461.4,486.4 468.2,502.5 466.6,497.8 461.5,484.3 463.4,488.1 468.8,500.1 468.9,499 468.8,497 467.6,491.9 471.8,500.1 468.7,490.1 470.9,492.7 471.5,491.3 476.1,500 475,494.4 475.4,492.6 474.8,488.4 479.1,496.7 477.2,489.8 478.3,490.2 477.9,487.6 478.5,487.3 479.9,489.3 480,488.2 479.6,486.1 481.9,490.8 484.5,496.4 482.3,490.1 486.4,499.6 489.2,504.6 484.7,494.3 489.7,504.6 486.6,497.9 491,504.6 491.3,504.6 489.8,503.1 488.2,497.8 492.2,504.6 487.8,493.7 491,499.8 494.6,504.6 491.3,496.2 490.3,491.3 491.8,492.6 493.9,495.3 495.2,496.4 493.2,489.2 495.1,492.2 496.2,493.1 496.8,493.1 498.8,496.8 499.7,497.6 500.7,498.7 501.5,499.5 499.1,492.5 500.9,495.7 501.6,496.4 503.6,500.2 503.1,497.5 501.8,492.8 504.7,498.4 506.5,501.1 507.3,501.3 504.4,492.2 508.5,500.2 506.5,493.2 509.2,497.8 509.6,496.5 507.8,490 509,490.9 511.1,494.1 511.4,492.8 513.8,496.8 511.4,489 515.3,497.3 515.6,496.5 518.3,501.9 515.4,493.3 515.8,492.6 515.8,491.2 520.8,502 518.3,494 521.3,499.9 520.8,496.9 523.2,501.1 520.3,491.8 520.7,490.9 520.3,487.7 522.7,491.5 523.3,490.7 523.8,489.6 525.3,491.2 527.2,493.6 525.4,487.1 525.4,484.8 526.7,486 526.4,483.2 530.4,491.3 529.5,487.4 529.9,487 531.6,489.9 529.2,482.7 532.4,489.5 532.3,488 534.4,491.9 537.5,498.2 535.3,491.1 534.7,488.2 537.2,492.7 538,492.8 540.6,497.8 539.9,494.4 540.4,494.1 540.4,492.6 539.3,488.3 538.2,484.1 540.1,487.3 542.5,491.8 542.8,491.4 539.4,481.5 544.5,493 545.2,493.6 544.2,489.8 546.9,495.1 544.3,487.5 547.2,493.3 549.4,497.4 550.2,498.3 548.5,492.9 550.4,496.3 549.2,491.8 550.3,493.2 552.5,496.9 553.2,496.9 554.1,497.4 552,490.3 555.6,497 554.3,491.4 556.4,494.6 556.3,492.3 556.5,490.9 558.6,494.3 559.3,494.2 562.2,500 561,495.5 563.9,501.5 565.1,503.1 560.1,489.4 562.5,494.4 564.4,497.8 565.9,500.2 566.7,500.9 567.4,501 563.3,489.6 568.5,501.1 567.8,498.2 569.8,501.8 566.2,491.7 567.1,492.6 568.4,494.5 569.2,495.1 571.7,500.2 574.7,504.6 572.2,498.5 573.2,499.5 571.7,494 571.2,491.1 573.5,495.1 574.2,494.9 575.6,496.4 578.7,502 580.2,503.5 577.7,494.8 579.1,495.8 581,497.8 580.2,493.4 581.5,494 581.8,492.1 580.9,487.1 583.5,491 585.6,493.5 586.2,492.6 584.2,485.5 586.2,488.2 587.2,489 588.4,490.4 587.3,486.2 587.4,485.2 586.7,482.7 586.6,481.4 588.3,484.8 589.6,487.3 592.1,492.6 593.6,495.7 588,481.1 589.7,484.5 592.1,489.8 592.8,490.7 595.8,497.4 593,489.2 594.9,492.9 594.9,491.7 596,493.1 594.5,488 597.6,494.2 598.1,493.9 599.7,496.2 601.3,498.8 603.8,503.2 600.2,492.8 598.9,488 604.7,500.8 605.1,500.3 604.9,498.2 605.2,497.4 603.8,492.1 605.5,494.7 600.8,481.2 601.6,481.4 605.2,488.7 606.8,491 605.5,486.4 607.6,490.1 612.8,501.6 614.4,504.1 610.6,493.4 615.4,504.1 613.1,496.9 617,504.6 618.3,504.6 618.1,504.6 617.3,501.3 619.6,504.6 620,503.9 620.5,503.1 623.9,504.6 619.2,495.2 622.1,500.1 619.5,491.1 621.4,493.7 622.6,494.2 621.9,490.4 625,496.3 623.6,491.3 624.6,491.9 623.6,487.8 622.2,482.8 626.3,491.2 625.7,487.9 629.5,495.5 627.3,488.1 627.4,486.3 629.2,489 631.7,493.5 632.7,494.1 631.3,488.9 632.6,490.5 634.3,493 633.1,488.4 635.7,493.3 634.1,487.9 631.6,480.2 632.6,481.4 637.6,492.3 639.5,495.4 640,494.8 639.1,490.9 640.8,493 640.6,490.4 639.8,486.3 641.2,487.6 640.2,483.1 643.6,489.5 644.3,489.3 645.1,489.5 645.8,489.5 644.7,485.1 646.9,488.8 648.7,491.9 651,496.1 649.6,491.7 650.1,492.1 646.3,481.9 651.4,494.3 651.7,494.6 651.6,494 651.6,493.7 652.3,494.7 652.9,495.5 656,502.3 657.1,503.5 657.9,503.8 658.2,502.4 659.5,503.1"/>
<polyline stroke-dasharray="6 1.8 1.8 1.8" points="77.8,499.9 78.4,493.5 78.2,484.9 79.2,479.5 79.4,472 78.7,462.3 78.2,454.5 77.6,448.2 78.5,445.6 78.8,441.3 78.4,435.6 78.9,432 79.4,428.3 78.4,421.1 78.8,417.4 79.4,414 78.8,410 82.1,415.8 81.1,411.2 80,406.3 81.7,408.2 81.7,406 81.5,403.2 82,402.2 81.3,398.3 80.5,393.9 80.8,392.6 82.7,394.8 81.5,389.6 82,388.7 82.5,387.5 82.4,385.1 83.2,384.8 82.2,379.9 82.5,378.9 83.5,380.5 83,378.1 82.5,375.8 83.9,378.4 83.8,377.1 85.4,380.2 84.5,376.8 85.4,378.2 84.2,374.1 84.5,373.9 83.9,371.4 82.9,368 84.6,371.1 83.3,366.8 83.4,366 83,363.9 84.3,366 85.1,367 85.9,367.7 83.2,359.9 84.6,362.4 85.5,363.5 86.3,364.5 86.2,363.3 85.9,361.7 86.1,361.3 86.2,360.4 87.1,361.7 85.8,357.6 85.8,356.7 85.9,356 87,357.8 87.1,357 86.5,354.9 86.1,353.4 88.1,357.7 88.7,358.6 88.3,356.9 86.7,352.3 87.8,354.6 86.5,350.9 87.7,353.2 88.7,355.2 87.4,351.4 89.3,355.6 89.2,354.7 88.7,352.9 89.1,353 90.8,356.6 90.1,354.1 89.8,352.4 89.9,351.7 91.7,355.4 90.4,351.3 90.8,351.2 92.4,354.3 89.9,347.1 90.9,348.5 92.2,350.9 91,347 91,346.2 91.2,346 91.3,345.4 91.9,346.3 93,348.2 91.5,343.7 92.5,345.6 92.4,344.6 92.5,343.9 92.2,342.6 94,346.1 92.9,342.4 94,344.1 94.2,343.3 93.8,341.2 94.3,341.4 94.3,340.1 94.1,338.5 94.9,339 94.3,336 95.7,337.8 97.7,341.1 97.1,337.7 97.3,336.2 97.8,335.5 97.6,333 98.8,334.1 98.5,331.7 99.9,334.5 100.8,336.1 101.6,337.5 103,340.1 102,337.1 101.9,336.3 102.7,337.6 103.7,339.5 104.5,340.8 103.9,339 104.7,340.3 105.3,341.4 105.6,341.4 106.2,342.1 108.2,346.3 109.7,349.2 109,346.4 109.7,347.2 109.3,345.3 112.1,351.1 111.4,348.6 113.3,352.3 113.3,351.3 114.8,354.2 114.5,352.5 114.5,352 115.6,354.2 116.5,355.7 120,363.8 120.4,364.2 119.8,362.1 121.3,365 122.9,368.1 125,372.3 123.2,367 125.2,370.8 126.4,372.5 126.9,372.6 125.9,368.9 128.5,374.1 130.5,377.8 130.8,377.2 131.1,376.7 133,380.1 135.2,384.4 134.6,381.7 136.8,386 137.6,387 140,391.7 140.5,391.8 141.7,393.8 142.2,393.9 142.3,393 143.8,395.7 144.1,395.6 145.9,399.1 148.4,404.7 148.3,403.7 149.5,405.9 149.4,405 150.1,405.9 151.8,409.6 153.5,413 153.9,413.2 154,412.7 156.3,417.5 157.5,419.5 158,419.9 158.3,419.4 160.9,424.8 161.5,425.4 160.1,420.9 161.5,423.5 162.7,425.5 163.5,426.8 164.3,428 166.2,431.7 166.2,431 167.1,432.4 167.5,432.5 167.9,432.7 169.4,435.3 169,433.2 170.5,435.8 171.2,436.2 172.2,437.5 172.3,436.4 174.1,438.9 174.1,436.8 174.9,436.9 174.7,434.8 176.6,438 177,437.4 177.9,438.1 178.2,437.5 179.1,438.2 181.5,442.8 182.1,442.7 183.6,445 183.3,443.2 182.7,441.3 182.1,439.4 183.9,443.5 184.7,444.9 186,448.1 185.2,445.7 186.3,448.2 188,452.1 188.7,453.5 189.6,455.1 189.7,454.5 190.1,454.8 191.5,457.1 191.6,456.1 192.4,456.8 193.2,457.2 193.8,457.1 195.5,459.8 197.1,462.5 196.5,459.8 195.4,456.2 196.1,457.5 196.1,457.1 197.4,460 197.5,460.1 199,463.8 202.9,473.6 201.9,471.1 202.8,473.3 203.9,475.9 204.8,477.7 202.1,470.6 204.2,475.2 202,469 205.2,476.1 206.6,478.8 203.8,471.1 204.6,472.1 207.6,478.7 207.8,478.2 210.1,482.8 208.6,478 211.7,484.8 212.8,486.3 213.7,487 211.9,481 210.5,476.1 213.8,482.5 214.9,483.9 215.8,484.7 214.2,479.3 212.7,474.4 219.6,490.1 220.2,490.6 218.8,486.1 218.5,484.5 217.4,480.8 220.3,487 220.4,486.4 222.4,490.5 222,488.6 222.5,488.8 225.5,495.4 225,493.4 224.3,490.6 225.9,493.4 225.2,490.4 227,493.4 230.2,499.7 230,497.7 230.1,496.5 231.5,498.2 233.3,501.1 232.1,496.4 234,499.5 235.7,502.3 234.9,498.6 231.8,489.5 232.9,490.8 233.4,490.7 232.9,487.9 234.2,489.5 234.9,489.6 234.9,488 234.3,484.8 237,489.8 239.8,494.8 238.7,490 238.7,488.1 236.6,480.7 241.5,490.6 241.1,487.7 240.9,484.9 244,490.5 243.3,486.9 244.7,488.6 246.6,491.9 247.2,492 247.4,491.3 246.6,487.9 247.7,489.3 250.9,496 251,494.9 252.8,497.8 252,494.3 253,495.1 252.1,491.2 251.1,487.2 250.6,484.2 253.9,490.7 257,496.7 254.4,488.4 254.5,487.1 256,489 258.1,492.5 262.4,501.7 258.3,490 262.4,499 263.2,499.5 261.3,493.4 261.2,491.6 261.7,491.4 263.6,494.3 260.1,483.8 262.6,488.5 263.1,487.8 263.3,486.6 264.5,488 265.9,489.5 267.7,492.3 267.7,490.6 270.2,494.9 268.3,488.7 270,491.2 268.1,485.1 269.9,488.5 270.2,488 272.1,491.7 273.4,494.1 274.9,497 273.8,493.4 275.5,496.8 277.5,500.8 277.4,499.4 279.3,502.7 280.5,504.2 281.2,504 279.2,497.4 278.6,493.9 280.6,496.7 278,488.3 282.5,497.1 280.7,490.7 282.1,492.2 281.4,488.6 283,490.7 287.5,500.4 281.3,483.5 287,496.2 283.7,486.8 287.3,494.1 286.4,490.4 287.1,490.4 289.4,494.3 293.5,502.6 293.3,500.2 294,499.8 295.5,501.6 294.4,497 295.2,497 296.1,497.4 294.8,492.3 296.3,494.4 297.9,496.7 295,487.6 297.4,492.1 299.7,496.1 301.8,500 301.9,498.6 302.8,499.4 301.9,496 301.1,492.6 303.4,497 303.4,495.8 306.1,501.4 307.1,503 304.7,496.4 305.8,498.2 306.5,499.3 307.7,501 306.7,497.6 305.1,492 313.5,504.6 309.5,499.1 311.4,501.8 310,496.1 309.9,493.3 314.2,501.7 315.1,501.4 316.2,502.1 317.8,504.1 318.6,504 319,503.3 317.4,497.7 319.1,500.5 318,496.8 319,498 317.1,492.4 317,491 320.3,497.9 322.3,501.5 320.8,496.1 322.2,497.7 320.9,492.7 322.8,495.3 325.1,498.9 327.3,502.3 325.9,496.5 326.2,494.8 329.6,500.7 330.3,500 331.2,499.9 329,492.2 331.1,495.2 331.2,493.4 334.1,498.5 334.2,497 334.5,496.2 335,495.8 333.4,490.6 336,495.8 334,489.8 337.5,497.4 334.8,489.4 340,501.2 336.9,492.3 336.7,490.3 335.6,486 334.3,481.2 333.3,477.2 337.6,486.1 342.7,497.1 334.8,475.6 335.6,475.9 340.5,486.4 340.3,484.2 346,497 341.3,483.7 346.5,495.2 344.1,487.6 345.9,490.5 346,489.3 346.2,488.2 348.9,493.4 348.3,490.4 348.1,488.3 355,504 353.2,497.9 352.1,493.3 352.3,492.1 352.2,490.2 356.2,498.2 357.2,498.8 352.9,486.5 354.7,489.4 351.7,480.1 352.1,479.9 351.2,476.3 353.9,481.6 358,490.6 357.4,487.9 357.2,486.4 360.2,492.8 363.6,500.3 362.4,496.1 365.7,503.4 368,504.6 364.7,497.9 363.3,492.8 364.5,493.7 363.8,490 364.6,489.9 365.1,489.3 363.3,482.7 370.1,497.7 367.4,489 368.8,490.7 371.8,496.1 372.7,496.6 371.9,492.9 373.8,495.9 375.1,497.4 377.2,500.9 377.3,499.7 375.1,492.5 378.9,500.2 379.2,499.4 380.1,499.9 378.4,493.9 378,491.3 382.4,500.8 382.7,499.9 381.4,494.9 380.2,490.3 382.4,494.2 379.1,484.4 381.8,489.4 380.3,484 383.1,489.1 384.3,490.8 386.8,495.5 388.6,498.8 386.6,492.5 388.2,495.4 386.4,490 385.2,486 386.8,488.9 390.7,497.4 389,492.1 389.9,493.4 391,494.8 389.9,490.8 393.1,497.3 390.6,489.5 392.5,492.5 393.9,494.3 399.5,504.6 399.1,503.8 399.1,502.1 404.5,504.6 400.2,501.8 397.3,493.1 401.1,501.1 402.3,502.6 403.4,503.7 400.2,494.3 409.8,504.6 404.9,503 403.8,499 404.8,499.9 405.2,499.5 408.1,504.6 408,502.9 408.7,502.8 409.3,502.2 411.6,504.6 410,499.8 411.5,501.3 411.3,498.3 413.8,502.1 413.6,499.3 414,497.6 416.4,501.2 416.5,498.7 415.9,494.6 413.3,485.8 416.1,490.7 416.3,489.2 416,486.6 417.7,489.5 421.4,497.2 427.2,504.6 420.7,493.3 418.1,486 421.1,492.4 420.5,490 422.6,494.3 421.2,489.9 418,480.9 421.2,487.7 422,488.2 420.9,483.7 424.9,492 428,497.9 429.4,499.7 429.5,498.1 428.4,493.7 427.9,491 428.5,490.9 428.7,490.1 427.5,486.2 430.6,492.6 430.5,491.3 434.4,499.7 435.5,501.3 434.1,496.5 431.9,489.6 435.9,498.1 435.3,495 435.4,493.5 436.4,493.8 437.1,493.4 436.9,490.5 439.8,495.5 439.7,492.8 444,501 446.4,504.6 445.7,500.4 444.6,495.4 445.1,494.5 445.4,493 447.1,495.2 447.7,494.9 448.1,494.3 448.8,494.5 449.3,494.2 450.2,495.2 444.7,480.1 447.3,485.1 449.7,489.6 449.8,488.3 451,489.7 451.3,488.7 452.3,489.5 451.3,485.2 452.5,486.2 458.1,498.2 454.9,488.5 459.1,496.9 455.9,487.1 457.3,488.6 452.4,474.3 455.3,479.6 456,479.5 459.7,486.7 460,485.7 463.7,493.1 461.6,486.2 465.9,495.2 466,493.9 465.5,491.1 463,483.2 465.8,488.7 466,487.6 469.1,493.6 468.5,490.8 469.8,492.3 469.5,490.1 471.4,493.3 471.8,493.1 470.4,488.2 472.9,493.2 472.2,490.1 472.9,490.4 473.6,491.1 473.5,489.6 475,492 476.2,493.8 477.3,495.2 478.5,497 480,499.5 480.6,499.5 480.9,498.6 479.4,493.4 479.5,492 480.5,492.7 479.2,487.7 481.5,492 485.1,499.2 483,492.6 482,488.5 485,494.5 486,495.7 487.4,497.6 487.1,495.3 488.6,497.3 488.2,494.8 489.6,496.6 487.8,490.4 487.5,488 489.7,491.8 490.9,493.2 493.4,497.8 492.9,495.3 492.7,493.1 492.6,491.4 493,490.9 497.1,499.7 494,490.8 497.1,497 496.8,495.1 502.9,504.6 501.1,503.4 499.6,498.4 500.2,498.3 500.3,497 502.9,501.7 503.5,501.4 503.6,499.7 504.5,500 503.9,496.6 503.6,494 502.8,490.2 504.5,492.6 504.6,491.2 506.1,493.2 505.1,489.1 509.4,498.1 506.4,489 509.4,494.8 508,490 506.4,484.7 509.9,491.9 511.8,495.1 510.8,491.3 516.1,502.8 515.4,499.5 516,499.3 517.4,500.8 519.3,503.6 517.6,497.6 517.3,494.7 519.8,498.7 515.6,485.9 512.7,476.4 516.5,483.5 518.4,485.9 520,487.6 524.4,496.6 518.7,481 523.9,492.5 523.8,490.8 525.6,494.1 527.4,497.2 530,502.3 527.4,494.2 528.3,494.9 529.3,495.7 528.9,492.9 528.9,491 531.6,495.9 532,494.9 530.1,488.4 536,500.8 532.8,491 537,499.3 536.2,495.2 532.4,483.9 533.3,484.1 530.8,476 539.7,496.4 538.2,490.7 539.3,491.6 539.1,489.5 541.7,494.4 542.8,495.5 536.9,479.4 541.5,489.4 542.2,490 541.8,488 544.4,493.5 546.6,498.1 545.2,493.7 545.9,494.4 543.3,486.9 542.7,484.4 545.5,489.9 546.2,490.5 545.5,487.3 546.6,488.8 546.5,487.1 547.2,487 548.8,489.5 547.8,485.7 550.2,490.2 550.2,488.7 551.5,490.4 554.4,496.2 553.7,493.1 551.6,486.5 556,496.1 554.2,490.1 555.5,492 554.5,488.2 551.8,479.8 561.2,501.7 559.8,496.6 566,504.6 562.1,498.8 562.4,497.9 566.6,504.6 566.5,504.5 561.5,490.3 565,497.3 568.7,504.6 569.4,504.6 565.8,494.3 567.9,497.8 570.3,502 568.5,495.6 567.2,490.5 567.9,490.2 570.6,494.8 570.3,491.9 570.3,489.8 573.3,495 575.4,498.2 572.7,489.5 577.1,498.5 578.2,499.6 577.7,496.5 576.2,491.3 577.7,493.6 578.7,494.5 578.9,493.9 576.8,487.3 577.8,488.6 581.9,497.7 579.9,491.5 579,488.2 579.1,487.3 584,498.2 582.6,493.2 585.4,498.7 584.5,494.9 586,497 586,494.9 587.2,496.1 586,490.9 591.5,502.5 590.4,497.6 591.8,499.2 590.4,494 590.9,493.5 590.1,489.7 592.8,494.8 594.6,497.7 596.3,500.6 591,485.8 591.9,486.4 594.1,490.4 593.3,487 592.5,483.5 597,493.1 595.2,487 593.2,480.5 602.1,501.2 599,492 600.5,494.4 604.2,502.2 601.6,494.4 604.9,501.4 604.3,498.5 606.8,503.6 606.5,501.6 606.9,501.1 607.7,501.3 606.6,496.9 609.7,502.9 606.9,494.3 608.8,497.1 608.5,494.9 611.5,501 612.9,503.1 608,489.5 613.2,501 611.7,496.1 615.1,503.3 613.6,498.2 614.4,498.9 611.4,489.8 617.2,502.8 614,493.1 616.3,497 621.6,504.6 618.3,497.8 615.3,488 616.6,488.9 616.1,485.4 618.9,490.3 622,495.7 623.3,497 623.7,496 625.8,499.5 623.2,491.5 623.6,491 622,485.6 628.1,499.3 626.4,493.6 625.9,491 624.9,486.9 625.6,487.1 620.6,472.6 625.2,481.9 629.2,489.5 627.1,482 631.6,491.1 635.6,498.8 632.5,489.3 631.3,484.2 632.1,484.7 635.3,491.1 634.3,487.5 633.5,484.5 640.3,500.5 638,494.1 638.2,493.8 641,500 642.6,503.2 640.5,496.9 638.5,491 640.2,493.7 642.4,497.8 643.1,497.9 640.2,488.8 643.6,495.5 646.5,500.7 641.1,485.6 646.6,497.3 649.5,502.7 649.1,500.1 648.3,496.3 649.7,498 650.3,497.7 650,495.3 649.9,493.2 650.5,492.9 648.1,485 650.5,488.9 651.5,489.7 652.6,490.4 653,489.7 653.7,489.8 656,494 655.8,491.7 660.9,502.9"/>
<polyline stroke-dasharray="3.5 1.8" points="77.9,500.2 78.1,494.2 78.9,489.2 79,482.9 79,476.1 79.4,470.4 78.9,462.4 79.1,457 78.4,450.8 79.1,448.2 79.3,444.2 78.9,438.8 78.9,434.4 79.7,431.9 79.6,427.5 79.9,423.7 79.8,419.1 80.9,418 80.7,415.5 80.7,413.4 80.7,411.4 81.2,410.8 80.6,407.3 79.7,403.2 81.8,406.3 82,404.9 81.6,402 81.3,399.2 82.3,399.9 82.3,398.1 82.3,396 81.1,391.4 81.1,389.4 82.5,391.1 81.4,386.4 80.2,381.6 82.8,386.3 83.8,386.9 80.6,377 82.7,380.4 83.7,381.7 85.4,385 82.9,378 83.5,378.6 84,378.8 83,375.4 84.6,378.5 83.9,375.5 84.3,375.7 85.5,377.6 84.6,374.5 87.1,379.9 87.5,379.9 85.9,375.1 86.6,376 85.4,372 84.9,369.9 84.8,368.8 85.4,369.3 85.6,369 85.1,366.9 85.6,367 85.3,365.2 85.3,364.5 84.5,361.6 85.7,363.5 86.6,364.8 87,365 86.6,363.1 87.6,364.7 87.3,363.1 86.6,360.6 88,363.2 87.2,360.3 88.2,361.7 87.4,358.7 88,359.3 87.6,357.2 87,354.5 89.3,359.4 88.1,355.8 88.1,355 88.2,354.6 89,355.9 89.7,356.9 89.1,354.9 88.2,352 89.6,355.2 89.6,354.5 90.3,355.9 90,354.6 91.3,357.2 90.5,354.8 91,355.5 90.7,353.9 91,354 90.9,352.7 91.2,352.7 91.4,352.3 91.1,350.3 93,354.1 93.5,354.3 92.7,351 93,350.8 91.5,346 92,346 93.2,348.2 93.4,347.6 94.5,349.3 94.3,347.8 96.5,352.1 94.9,347.1 93.7,343.1 95,345 94,341.3 93.6,339 95.3,342 94.1,337.5 95.8,340.7 96.7,341.8 97.2,341.7 96.3,338.1 95.8,335.7 96.5,336 96.7,334.9 98.8,338.8 97.7,334.3 99.3,336.7 100,336.6 100.9,337.3 100,333.5 101.1,335.8 101.1,335.6 100.2,333.1 102.4,338.2 103.7,341.2 104.8,343.7 104.2,341.9 105.8,345.6 105.6,344.6 106.1,345 106.5,345.4 108.3,349.3 107.7,347 108.5,348.2 109.7,350.3 109.2,348.1 109.8,348.6 110.3,349 111.9,351.8 111.5,350 113.5,354.3 113.2,352.7 113.6,353 115.1,355.9 115.9,357 116.3,356.9 116.8,357.3 117.6,358.1 119.3,361.1 120.3,362.4 120.8,362.3 122.2,364.5 121.7,361.8 122.5,362.6 124,365 125.4,367.4 127.4,371.5 126.7,369 128.8,373.3 129.7,375 129.8,374.7 131.2,377.9 132.1,379.8 133.2,382 134.4,384.9 135.5,387.2 136.1,388.3 137.6,391.4 138.7,393.4 139.3,394 140.1,395.1 140.1,394.1 142.7,399.3 143.7,400.6 145.4,403.5 145.9,403.5 146.6,404 147.4,404.7 149.4,408.4 149.1,406.3 151.2,410.2 152.4,412 153.3,412.6 154.4,414.3 154.5,413.3 156.7,417.4 157.6,418.6 157.3,416.8 158.6,418.7 159.6,420.1 161,422.3 161.1,421.8 161.6,422 163,424.6 165,428.7 164.9,427.6 165.4,428 166.3,429.6 167.5,431.7 167.4,430.6 168.5,432 169.9,434.3 171.3,436.5 171.8,436.4 172.3,436.5 173.5,438.5 174.8,440.6 175.4,441 175.8,440.9 176.5,441.5 177.7,443.2 177.9,442.5 178.7,443.4 178.7,442.5 179.6,443.6 181.2,446.2 181.3,445.4 181.1,443.8 182.1,445 183.1,446.5 184.4,449 184,447 184.5,447.5 186.4,451.4 188.1,454.8 188.6,455.6 190.4,459.5 192.1,463.1 189.9,456.9 189.8,456.1 189.1,453.7 190.7,456.8 191.7,458.7 194.2,464.3 194.8,464.9 195.9,467 195.8,466.1 194.7,462.8 194.9,462.7 197.4,468.3 197.6,468.3 197.9,468.3 197.4,466.4 200.9,474.5 199.8,471.2 201.9,475.5 200,469.8 201.9,473.3 201.7,471.5 202.5,472.2 201.8,469.3 205.1,476.7 204.1,473.2 203.9,471.8 205.4,475 206,475.9 204.6,471.9 207.1,477.5 207.5,478.1 205.1,471.6 207.2,476.4 208.1,478.1 208,477.2 210.6,482.9 212.4,486.5 212.7,486.1 214.2,488.7 215.8,491.6 216.3,491.6 216,489.9 218.3,494.5 218.5,494 219.2,494.9 217.9,490.8 219.9,494.3 221.3,496.1 218.5,487.3 221.3,492.4 220.4,488.4 221.8,490.2 225.6,497.9 226.4,498.4 227.4,499.3 225.9,494.4 222.6,484.9 218.1,472.7 222.3,482 223.1,483.1 228.5,495.5 228,493.6 229.2,495.7 229.6,495.6 229.4,494.1 230.1,494.6 227.4,486.7 231.6,495.9 233,497.9 233,496.6 234.6,499 234,495.8 234.2,494.6 235,494.8 237.1,498.2 237.9,498.2 239.5,500.1 237,491.6 242.9,503.6 240.6,495.3 240.9,493.3 244.2,498.7 242.7,492.1 238.9,479.9 243.1,487.5 242.6,483.7 245.2,487.9 246.7,489.4 246.9,488.3 248,489.6 247.3,486.9 249.1,490.4 248.5,488.6 248.8,488.9 245.8,481.1 251.1,494.1 252.1,496.4 248.8,487.6 253.9,499.8 251.1,491.7 255.7,501.7 253.6,494.7 253.2,491.5 255.4,495 257.2,497.1 259.9,501.5 261.8,504.2 261.1,500.4 261.4,499.2 259.4,492.2 259.5,490.9 261.1,493.3 258.2,484.5 259.4,486.3 261.3,489.6 258.1,480.6 264.3,494.8 263.5,491.7 262.2,487.1 260.9,482.3 263,486.2 265.6,490.8 268.3,495.9 269.5,496.9 270.9,498.4 272.5,500.5 270,492.5 271.4,494.1 271.3,491.8 275.7,500.6 276.6,500.6 274.4,492.6 275.2,492.3 274.5,488.4 278.4,496.2 277.5,492.3 278,491.9 281,498 279.3,492.3 277.8,487.1 280.5,492.5 280.5,491.2 281.1,491.2 281.5,490.8 283.5,494.4 285.2,497.1 283.9,492.1 284.3,491.2 285.8,493.1 286,491.6 286.5,490.8 287.7,491.9 291.9,500.4 289.7,492.9 281.1,469.4 288.9,487.3 292.1,493.5 294.1,496.9 294.3,495.8 291.3,486.7 292.7,488.7 291.6,484.4 290,478.9 293.1,485.1 299.1,498.6 296.3,490.4 299.5,497 297.3,490.1 297,487.8 297.9,488.8 304,502.4 301.4,494.6 308,504.6 303.2,495.8 302.7,492.9 301.6,488.3 302.7,489.3 305.5,494.7 306.6,495.6 305.9,492.1 307.7,494.7 309.6,497.4 308,491.4 309.6,493.1 311.5,495.8 311,492.4 310,487.7 312,490.6 310.3,484.3 312.5,487.7 312,484.3 313.3,485.8 317.5,494.8 313.5,483.6 312.4,479.7 316.3,488.6 318.2,492.6 318.7,493.3 319,493.9 322.1,500.9 324.3,504.6 320.7,496.5 321.3,497.3 317.7,487.4 319.6,491.1 322.1,496.2 326.4,504.6 326.3,503.6 327.7,504.6 325.9,498.9 327.8,501.4 326.1,494.9 327.8,496.8 326.7,491.9 332.4,503.9 330.1,496.2 330.9,496.4 330.6,493.7 328.5,487 330.6,490.9 333.1,495.8 333.2,494.9 331,488.3 334.9,496.8 336.4,499.6 338.3,503.3 336.2,497.2 336.6,496.9 341,504.6 338.5,498.9 337.4,494.9 338.9,496.7 341.6,501.5 342.5,501.7 341.4,496.8 341,493.5 344.4,499.7 345.8,501 344.9,496.4 343.5,490.5 344.1,489.9 344.6,489 347.2,493.5 345.2,486.9 348.1,492.5 347.9,490.4 350.8,496.4 348.9,490.4 348.4,487.9 352.3,496.2 350,489 352.8,494.4 351.9,490.6 350.5,485.6 353.9,492.1 354.8,492.6 358.1,499.1 359.1,499.9 358.6,497 362.6,504.6 361.2,500.5 364.8,504.6 360.6,496.2 361.1,496 360.5,493 364.3,501.1 363.2,496.9 361.4,490.7 362.9,492.7 361.7,487.9 361.5,485.7 363.9,489.6 363.9,487.8 365.8,490.5 364.1,484.5 367.9,492 371.6,499.3 371.3,496.7 373.5,500.3 372.2,495.4 369.9,487.8 372.9,493.5 374.2,494.9 374.8,494.8 373.2,489.2 369.9,479.2 370.4,478.9 369.1,473.9 372.6,481 377.2,490.7 378,491.1 377.9,488.9 378.9,489.4 382,495.2 383.8,497.7 387,503.6 386.1,499.1 385.9,496.6 383.8,489.2 382.2,483.3 387.6,494.9 385.3,487.5 386.8,489.8 384.2,482.1 387.6,489.4 386,484.5 386.9,485.6 391.3,495.7 389.1,489.4 393.4,499.2 394,499.7 390.1,489.1 393.7,497 396.2,502.1 394.1,495.5 397.7,502.9 397,499.5 399,502.5 392.8,485 394.1,486.1 396.7,490.3 399.9,496 396.7,486 395.9,481.6 403.5,498.5 401.9,492.6 399.4,484.4 403.5,492.9 406.3,498.2 402.6,487.3 405,491.8 403.1,485.4 401.6,480.4 405.7,489 406,488.4 408.5,493.2 410.2,496 409.9,493.8 408.9,490 410.8,493.3 409.6,488.7 412.3,494.1 413.4,495.6 412.9,492.9 414.7,496 416.1,498.3 414,491.7 414.2,490.7 416.4,494.8 414.4,488.6 423,504.6 419,497.3 424.5,504.6 422.8,504 419.5,494.2 420.8,495.7 424.5,503.4 426.6,504.6 425.9,502.8 426.6,502.4 425.3,497 426.3,497.1 425.5,492.7 425.5,490.5 425.5,488.4 426.5,488.6 426.9,487.6 428.8,490.5 429.1,489.4 430.1,490.3 434.3,499 433,494.2 431.8,490 433.3,492.3 431.2,485.8 434.9,493.7 433.8,489.8 437.7,498.3 439.2,500.9 438,496.7 436.9,492.8 438.4,495.1 440.7,499.5 438.1,491.6 437.9,489.7 437.6,487.4 440.2,492.2 439.7,489.2 442.6,494.7 441.8,490.7 442.1,489.8 443.5,491.3 444.7,492.6 445.3,492.3 443.9,486.8 447.1,493 449,496 447.9,491.6 449.3,493.1 451.4,496.1 450.3,491.4 450.2,488.7 451.7,490.2 453.3,492.1 452.6,488.2 452.6,486.3 458.5,499.4 455.9,491.4 460.6,501.6 457.1,491.6 459.6,496.3 460.9,498.1 457.6,488.5 459.4,491.7 460.6,493.1 460.9,492.3 462,493.3 461.1,489.3 460.4,485.6 463.4,491 462.1,485.7 464.7,490 465.7,490.6 464.8,486.7 465.6,487.3 466.3,488 466.3,486.8 468.4,491 468.1,489.3 468.8,490.1 470,492 470.2,491.2 471.7,493.7 471.8,492.8 475.4,500.1 472.6,491.7 472.7,490.3 474.4,492.9 476.1,495.8 477.6,497.9 477.9,497.3 479.7,500.3 482.4,504.6 479.9,498.1 476.8,488.8 483.5,504 483.4,502.3 482,497.2 483.4,499 483.6,497.9 482.6,493.5 480.9,487.3 485.8,497.5 486.1,496.2 488.3,499.8 489.2,500.5 486.4,491.7 489,496.6 491,499.9 487.1,488.7 492,499.2 487.5,486.1 492.1,495.8 492.1,493.5 490,486 494.7,495.6 495.1,494.2 493.8,488.9 492.9,484.4 498.7,496.7 494.4,484.1 496.6,487.9 494.6,481.4 497.6,487.7 498.8,490.1 501.5,496.4 506.1,504.6 499.9,492.2 503,499.7 503.8,501.7 503.5,500.5 499.3,489.6 501.3,493.6 504.8,501.1 509.5,504.6 506.4,501.9 508.5,504.6 506.5,497.9 510.1,504.5 509.3,500.1 507.8,493.9 508.9,494.4 513.8,504.3 509.7,492.1 509.9,490.7 508.1,484.4 512.1,492.5 513.2,493.7 514.5,495.2 515.1,494.8 516.9,497.4 517,495.6 519.2,498.9 518.7,495.7 520,497 517,487.5 517.9,487.9 520,491.4 523.1,497.6 524.3,499.2 525.9,501.7 521.5,489.4 524.2,494.6 523.7,492.2 524,491.3 524.1,490 526,493.1 528.2,496.9 526.7,491.3 527.1,490.1 528.7,491.8 529.2,490.9 530.1,490.6 530.3,489 530.8,488.1 529,481.6 529.6,481.2 534.2,490.9 534.4,489.8 535.3,490.4 532.7,482.4 537.1,492 539.7,496.9 535.6,485.5 533.5,478.9 537,486.4 537.5,486.1 541.9,495.6 540.4,490.3 542.6,494 543.5,494.6 543,491.8 544.8,494.7 545.5,495.2 544,490.1 546.3,494.6 546.6,494.4 546.3,492.4 548.9,497.6 546.6,490.8 548.1,493.3 549.5,495.4 550.4,496.3 553.7,503 550.2,492.3 552.1,495 550.9,489.6 552.4,490.9 549.5,481.1 553.5,488.8 553.4,486.3 553.9,485.5 554.1,484.3 557.5,491 556.6,487.3 556.1,484.8 554.5,479.4 554.8,479 556.7,482.5 557.1,482.2 557.9,483 556.1,477 561.3,488.5 556.9,476.2 561.2,485.1 564.3,491 559.1,476.3 565.9,491.4 566.4,491 568.5,494.9 567.9,492.1 571.7,500.1 565.8,484.1 570.7,495.1 572.2,497.5 570.1,491.1 570.7,491.3 570,488.1 573.8,496.1 572.7,491.9 572.9,490.6 576.2,497.2 570.2,480.6 576.5,494.5 576.5,492.8 582,504.6 578.8,494.8 580.5,497.1 579.3,492.1 582.5,498.2 582,495.1 582.6,494.8 582.5,492.9 584.9,497.2 584.4,494.5 584.6,493.6 584.3,491.5 586.9,496.6 586,493.1 588.9,499 590.4,501.5 593.5,504.6 592.9,504.6 591.3,499.7 590.4,495.8 589.8,492.6 590.4,492.3 589.6,488.8 595.1,500.4 594.8,497.8 595.3,497.4 598.9,504.4 598.7,502.2 601,504.6 602.3,504.6 600.3,500.3 602.4,503.6 598.8,492.5 600.4,494.4 600.7,493.2 601.7,493.5 603.5,495.8 602.8,492 602.7,489.8 601.9,486 601.1,482.5 605.4,491.7 607.4,495.6 606.2,491.6 606,490.4 607.6,493.6 606.1,489.2 607.1,491.1 609.4,496.3 609.3,495.2 610.3,496.8 611,497.4 615.2,504.6 611.3,495.6 611,493 612.4,494.8 610.9,489.1 613.8,494.2 612.9,490 614.8,492.4 613.6,487.6 615.2,489.5 620,499.7 617.3,490.9 620.3,496.5 617,486.4 623.6,500.9 619.7,489.2 624.7,499.9 618.9,483.5 626,499.1 627,499.5 627.6,499 627.6,496.9 632.2,504.6 623.4,483.2 627.6,492.2 630.3,497.7 629.6,494.6 630.8,496.7 629.8,493.1 634,502.5 630.9,493.4 635,502.3 636.5,504.2 635.2,499.3 638.5,504.6 636.3,498 637.4,498.3 636.4,493.3 636.9,492 638.4,493.3 639.2,492.7 637.9,487.4 640.2,491 637.5,482.4 637.6,480.8 637.2,478.4 640.6,485.5 643.7,491.9 643.3,489.7 642.7,486.9 643.9,488.5 645.4,490.8 644.3,486.6 646.1,489.7 647.1,490.8 647,489.2 645,482.8 646.9,486.3 648.5,488.9 653.2,499.8 650.6,492.4 653.3,498.2 653.2,497.1 651.7,492.5 649.5,486 653.7,495.4 651.2,487.9 653.2,491.6 659.1,504.6 658.9,502.2 657.2,496"/>
</g>
</g>
<rect x="78.2" y="277.4" width="575.5" height="223.6" fill="none" stroke="#000" stroke-opacity=".52" stroke-width="1"/>
<path d="M150.1 501.0v-5M150.1 277.4v5M222.1 501.0v-5M222.1 277.4v5M294.0 501.0v-5M294.0 277.4v5M365.9 501.0v-5M365.9 277.4v5M437.9 501.0v-5M437.9 277.4v5M509.8 501.0v-5M509.8 277.4v5M581.8 501.0v-5M581.8 277.4v5M78.2 456.3h5M653.7 456.3h-5M78.2 411.6h5M653.7 411.6h-5M78.2 366.8h5M653.7 366.8h-5M78.2 322.1h5M653.7 322.1h-5" stroke="#000" stroke-opacity=".52" stroke-width="1" fill="none"/>
<text x="79.4" y="519.3" text-anchor="middle" class="t">0</text>
<text x="151.3" y="519.3" text-anchor="middle" class="t">1</text>
<text x="223.3" y="519.3" text-anchor="middle" class="t">2</text>
<text x="295.2" y="519.3" text-anchor="middle" class="t">3</text>
<text x="367.1" y="519.3" text-anchor="middle" class="t">4</text>
<text x="439.1" y="519.3" text-anchor="middle" class="t">5</text>
<text x="511.0" y="519.3" text-anchor="middle" class="t">6</text>
<text x="583.0" y="519.3" text-anchor="middle" class="t">7</text>
<text x="654.9" y="519.3" text-anchor="middle" class="t">8</text>
<text x="71.5" y="505.8" text-anchor="end" class="t">0</text>
<text x="71.5" y="461.1" text-anchor="end" class="t">250</text>
<text x="71.5" y="416.4" text-anchor="end" class="t">500</text>
<text x="71.5" y="371.6" text-anchor="end" class="t">750</text>
<text x="71.5" y="326.9" text-anchor="end" class="t">1000</text>
<text x="71.5" y="282.2" text-anchor="end" class="t">1250</text>
<text transform="translate(31.8 389.2) rotate(-90)" text-anchor="middle" class="l">Pull Force (kJ mol<tspan dy="-6.2" font-size="14">-1</tspan><tspan dy="6.2"> nm</tspan><tspan dy="-6.2" font-size="14">-1</tspan><tspan dy="6.2">)</tspan></text>
<text x="602" y="293.6" text-anchor="end" class="g">GnGn Glycosylated</text>
<text x="602" y="307.2" text-anchor="end" class="g">Deglycosylated</text>
<path d="M608.5 289.7h32" stroke="#4169e1" stroke-width="1.7"/>
<path d="M608.5 303.3h32" stroke="#ffd700" stroke-width="1.7"/>
<text x="1.6" y="281.3" class="b">B</text>
</g>
<text x="366" y="542.2" text-anchor="middle" class="l">Pull Distance (nm)</text>
</svg></body></html>
